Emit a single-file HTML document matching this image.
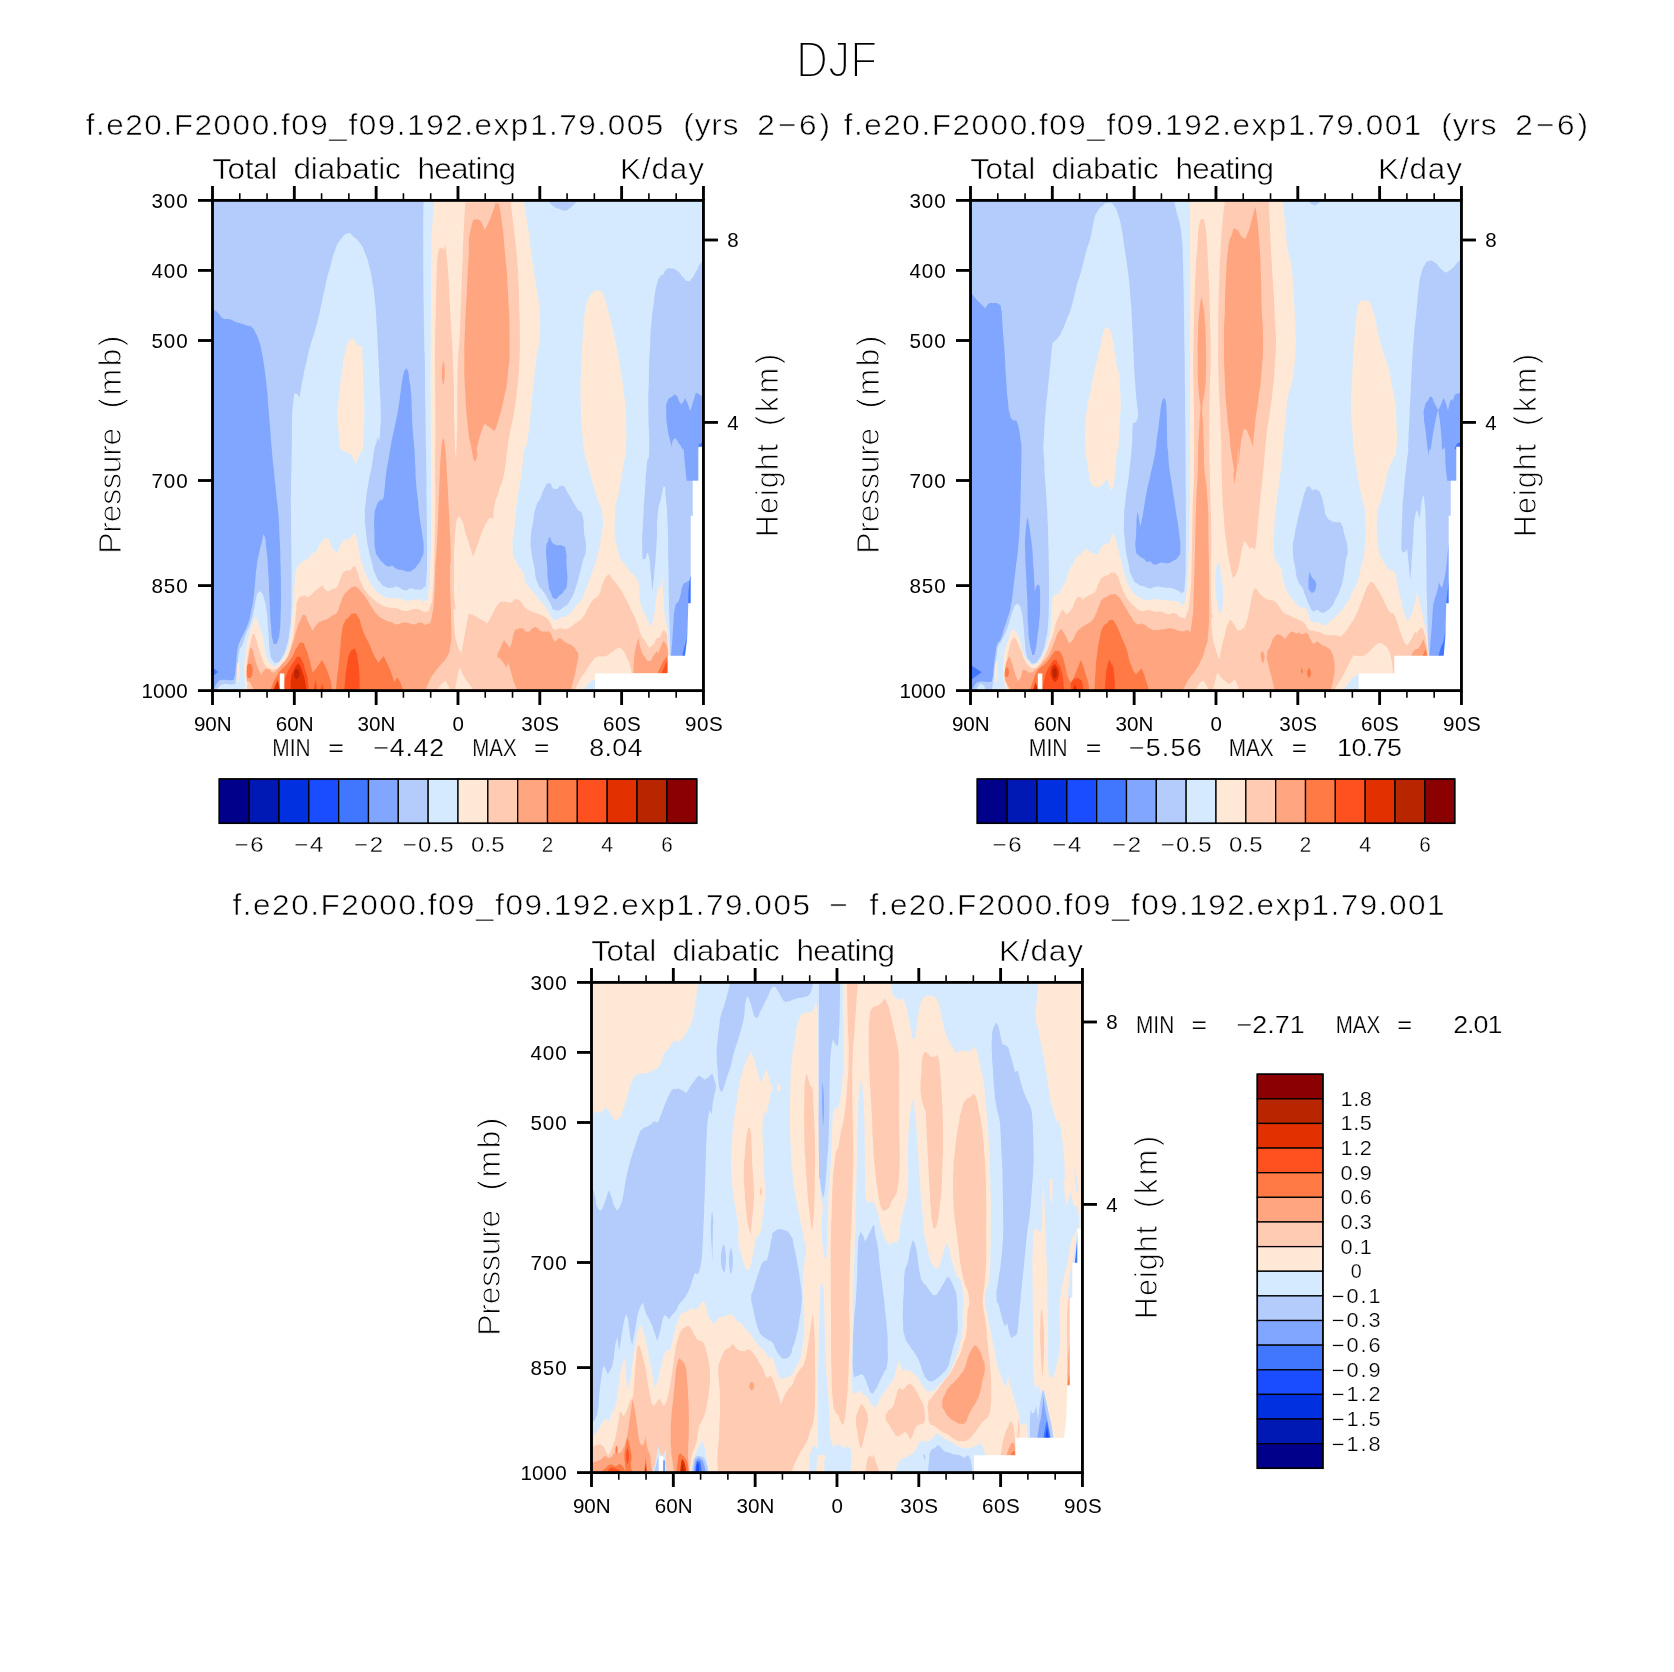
<!DOCTYPE html>
<html lang="en"><head><meta charset="utf-8"><title>DJF Total diabatic heating</title>
<style>html,body{margin:0;padding:0;background:#fff}svg{display:block}text{font-family:"Liberation Sans",sans-serif;fill:#000;stroke:#fff;filter:grayscale(1)}</style></head><body>
<svg width="1674" height="1672" viewBox="0 0 1674 1672">
<rect width="1674" height="1672" fill="#fff"/>
<defs><clipPath id="fc"><rect x="212.50" y="200.40" width="490.95" height="490.20"/></clipPath></defs>
<g transform="translate(0,0)">
<g clip-path="url(#fc)"><rect x="212.50" y="200.40" width="490.95" height="490.20" fill="#D6EAFF"/>
<path fill="#B3CCFB" d="M212.7,201.0L423.7,201.0C423.7,201.0 423.3,202.6 423.3,236.7C423.3,270.8 423.2,264.4 423.7,303.3C424.1,342.2 424.1,320.0 424.7,353.3C425.2,386.7 424.9,371.6 425.3,403.3C425.8,435.1 425.7,427.9 426.0,448.7C426.3,469.5 426.1,448.9 426.3,465.7C426.5,482.5 426.4,471.2 426.6,499.1C426.9,526.9 427.1,522.4 427.0,549.1C426.9,575.8 427.4,566.4 426.3,579.2C425.2,591.9 426.7,584.1 423.6,587.5C420.5,590.9 421.4,589.2 416.9,589.5C412.5,589.8 414.2,588.1 410.3,588.3C406.4,588.6 409.7,590.9 405.3,590.3C400.8,589.8 401.4,587.5 396.9,586.7C392.5,585.8 395.8,587.8 391.9,587.8C388.0,587.8 389.1,588.4 385.2,586.7C381.4,584.9 383.6,586.7 380.2,582.5C376.9,578.3 378.0,580.8 375.2,574.1C372.5,567.5 374.1,570.8 371.9,562.5C369.7,554.1 370.5,559.1 368.6,549.1C366.6,539.1 367.3,543.6 366.1,532.4C364.8,521.3 364.9,526.9 364.9,515.7C364.9,504.6 364.8,510.2 366.1,499.1C367.3,487.9 366.6,493.5 368.6,482.4C370.5,471.2 369.9,476.8 371.9,465.7C373.8,454.6 373.0,456.3 374.4,449.0C375.8,441.7 375.0,447.9 376.1,443.7C377.2,439.4 377.7,436.2 377.7,436.2L379.1,442.0C379.1,442.0 379.7,440.3 380.2,430.3C380.8,420.3 380.9,426.4 380.7,412.0C380.6,397.5 380.5,403.6 379.7,386.9C379.0,370.2 379.5,381.4 378.6,361.9C377.6,342.4 378.0,348.0 376.9,328.5C375.8,309.1 376.6,318.5 375.2,303.5C373.8,288.5 374.7,295.7 372.7,283.5C370.8,271.2 371.9,276.8 369.4,266.8C366.9,256.8 368.3,261.2 365.2,253.4C362.2,245.6 364.1,249.0 360.2,243.4C356.3,237.9 357.7,240.1 353.5,236.7C349.4,233.4 352.2,232.3 347.7,233.4C343.3,234.5 344.4,234.5 340.2,240.1C336.0,245.6 338.5,241.2 335.2,250.1C331.8,259.0 333.5,254.5 330.2,266.8C326.8,279.0 328.5,272.3 325.2,286.8C321.8,301.3 323.5,295.7 320.2,310.2C316.8,324.6 318.2,319.1 315.2,330.2C312.1,341.3 313.8,333.5 311.0,343.5C308.2,353.6 309.3,349.7 306.8,360.2C304.3,370.8 305.7,364.1 303.5,375.2C301.3,386.4 301.5,385.8 300.1,393.6C298.8,401.4 299.3,398.6 299.3,398.6C299.3,398.6 299.3,396.1 297.6,394.4C296.0,392.8 294.3,393.6 294.3,393.6C294.3,393.6 293.9,394.7 293.1,403.6C292.4,412.5 292.6,405.2 292.1,420.3C291.7,435.4 292.0,433.9 291.8,449.0C291.6,464.1 291.7,451.8 291.5,465.7C291.2,479.6 291.1,474.0 291.0,490.7C290.8,507.4 290.9,499.1 291.0,515.7C291.1,532.4 291.1,524.1 291.3,540.8C291.5,557.5 291.4,549.1 291.5,565.8C291.5,582.5 291.6,574.1 291.5,590.8C291.3,607.5 291.7,602.0 291.0,615.9C290.2,629.8 290.7,622.5 289.3,632.6C287.9,642.6 289.3,637.6 286.8,645.9C284.3,654.2 285.1,652.0 281.8,657.6C278.5,663.1 279.8,661.8 276.8,662.6C273.7,663.4 274.8,663.4 272.6,660.1C270.4,656.7 271.5,661.8 270.1,652.6C268.7,643.4 269.6,645.9 268.4,632.6C267.3,619.2 268.2,623.7 266.8,612.5C265.4,601.4 265.9,605.6 264.3,599.2C262.6,592.8 263.7,595.6 261.8,593.3C259.8,591.1 260.4,590.6 258.4,592.5C256.5,594.5 257.6,592.5 255.9,599.2C254.3,605.9 255.4,604.2 253.4,612.5C251.5,620.9 252.6,617.0 250.1,624.2C247.6,631.4 248.4,627.5 245.9,634.2C243.4,640.9 244.8,638.4 242.6,644.2C240.3,650.1 240.9,644.5 239.2,651.7C237.6,659.0 238.7,656.5 237.6,665.9C236.5,675.4 237.3,674.0 235.9,680.1C234.5,686.2 237.6,682.9 233.4,684.3C229.2,685.7 228.1,683.4 223.4,684.3C218.7,685.1 221.4,684.8 219.2,686.8C217.0,688.7 216.7,690.1 216.7,690.1L212.7,690.1L212.7,201.0Z"/>
<path fill="#B3CCFB" d="M549.1,201.7C549.1,201.7 550.8,204.4 554.1,206.7C557.5,209.0 555.5,207.4 559.1,208.7C562.7,210.0 561.3,210.8 565.0,210.5C568.6,210.3 566.9,210.2 570.0,208.0C573.0,205.9 571.9,206.3 574.1,204.2C576.4,202.1 576.6,201.7 576.6,201.7L549.1,201.7Z"/>
<path fill="#B3CCFB" d="M549.1,483.2C552.7,483.2 550.5,488.2 554.9,489.0C559.4,489.9 558.3,484.6 562.5,485.7C566.6,486.8 564.1,487.4 567.5,492.4C570.8,497.4 569.1,495.2 572.5,500.7C575.8,506.3 574.1,504.1 577.5,509.1C580.8,514.1 580.3,508.0 582.5,515.7C584.7,523.5 583.0,521.3 584.1,532.4C585.3,543.6 586.4,539.1 585.8,549.1C585.3,559.1 584.7,553.6 582.5,562.5C580.3,571.4 581.4,567.5 579.1,575.8C576.9,584.2 578.6,579.7 575.8,587.5C573.0,595.3 574.7,592.8 570.8,599.2C566.9,605.6 569.4,603.1 564.1,606.7C558.8,610.3 559.7,611.4 554.9,610.0C550.2,608.6 553.6,608.4 549.9,602.5C546.3,596.7 548.3,599.2 544.1,592.5C539.9,585.8 540.8,591.4 537.4,582.5C534.1,573.6 536.0,575.8 534.1,565.8C532.1,555.8 532.7,561.4 531.6,552.5C530.5,543.6 530.2,549.7 530.8,539.1C531.3,528.5 531.6,531.3 533.3,520.8C534.9,510.2 533.3,515.2 535.8,507.4C538.3,499.6 538.0,503.5 540.8,497.4C543.5,491.3 541.3,493.8 544.1,489.0C546.9,484.3 545.5,483.2 549.1,483.2Z"/>
<path fill="#B3CCFB" d="M703.0,260.9C703.0,260.9 701.6,261.5 699.3,265.1C697.0,268.7 698.5,267.3 695.9,271.8C693.4,276.2 694.6,275.4 691.8,278.5C689.0,281.5 690.7,281.5 687.6,281.0C684.5,280.4 685.9,280.1 682.6,276.8C679.3,273.5 681.5,273.7 677.6,271.0C673.7,268.2 674.8,268.7 670.9,268.5C667.0,268.2 668.4,268.2 665.9,270.1C663.4,272.1 665.4,272.1 663.4,274.3C661.5,276.5 662.3,273.2 660.1,276.8C657.8,280.4 658.7,277.4 656.7,285.1C654.8,292.9 655.9,288.5 654.2,300.2C652.6,311.8 653.1,305.2 651.7,320.2C650.3,335.2 651.0,325.7 650.1,345.2C649.1,364.7 649.4,356.3 648.9,378.6C648.3,400.8 648.3,388.5 648.4,412.0C648.5,435.4 649.8,431.1 649.2,449.0C648.7,466.9 648.1,451.8 646.7,465.7C645.3,479.6 646.2,474.0 645.1,490.7C643.9,507.4 644.3,496.3 643.4,515.7C642.4,535.2 641.9,534.7 642.2,549.1C642.5,563.6 642.7,557.5 644.2,559.1C645.7,560.8 646.7,554.1 646.7,554.1C646.7,554.1 647.8,550.2 649.2,557.5C650.6,564.7 649.9,564.7 650.9,575.8C651.9,586.9 652.2,590.8 652.2,590.8C652.2,590.8 652.7,590.8 654.2,574.1C655.7,557.5 655.6,560.2 656.7,540.8C657.8,521.3 656.2,529.7 657.6,515.7C659.0,501.8 658.7,508.8 660.9,499.1C663.1,489.3 662.6,486.5 664.2,486.5C665.9,486.5 664.8,486.5 665.9,499.1C667.0,511.6 666.7,501.8 667.6,524.1C668.4,546.3 668.0,540.8 668.4,565.8C668.9,590.8 668.5,579.7 668.9,599.2C669.3,618.6 669.0,605.3 669.6,624.2C670.1,643.1 670.6,655.9 670.6,655.9L703.0,655.9L703.0,260.9Z"/>
<path fill="#80A6FF" d="M212.7,310.2C212.7,310.2 213.4,309.3 215.9,311.0C218.3,312.7 217.5,312.7 220.0,315.2C222.6,317.7 220.0,317.1 223.4,318.5C226.7,319.9 226.2,318.2 230.1,319.3C234.0,320.5 231.5,320.5 235.1,321.8C238.7,323.2 237.0,322.3 240.9,323.5C244.8,324.7 243.1,324.3 246.7,325.5C250.4,326.7 248.7,324.5 251.8,327.2C254.8,329.9 253.4,328.6 255.9,333.5C258.4,338.4 257.3,335.8 259.3,341.9C261.2,348.0 260.1,343.5 261.8,351.9C263.4,360.2 262.6,355.2 264.3,366.9C265.9,378.6 265.4,373.6 266.8,386.9C268.2,400.3 267.3,393.6 268.4,406.9C269.6,420.3 269.0,413.0 270.1,427.0C271.2,441.0 270.7,436.1 271.8,449.0C272.9,461.9 272.3,454.6 273.4,465.7C274.6,476.8 274.0,471.2 275.1,482.4C276.2,493.5 275.7,487.9 276.8,499.1C277.9,510.2 277.4,501.8 278.5,515.7C279.5,529.7 279.1,524.1 279.8,540.8C280.5,557.5 280.2,549.1 280.6,565.8C281.0,582.5 281.0,574.1 281.0,590.8C281.0,607.5 281.1,602.0 280.6,615.9C280.2,629.8 280.6,624.2 279.6,632.6C278.6,640.9 279.1,637.1 277.6,640.9C276.1,644.7 276.8,644.5 275.1,643.9C273.4,643.3 274.0,645.8 272.6,639.2C271.2,632.7 271.9,637.6 270.9,624.2C269.9,610.9 270.4,615.9 269.6,599.2C268.8,582.5 269.4,589.7 268.4,574.1C267.5,558.6 268.2,565.2 266.8,552.5C265.4,539.7 265.9,539.1 264.3,535.8C262.6,532.4 263.4,536.9 261.8,542.4C260.1,548.0 260.9,544.7 259.3,552.5C257.6,560.2 258.1,555.8 256.8,565.8C255.4,575.8 256.2,571.4 255.1,582.5C254.0,593.6 254.8,589.2 253.4,599.2C252.0,609.2 252.6,604.7 250.9,612.5C249.2,620.3 250.6,615.9 248.4,622.5C246.2,629.2 247.0,626.4 244.2,632.6C241.5,638.7 242.3,635.3 240.1,640.9C237.8,646.5 239.0,640.9 237.6,649.2C236.2,657.6 237.0,656.5 235.9,665.9C234.8,675.4 235.6,672.9 234.2,677.6C232.8,682.3 235.9,679.3 231.7,680.1C227.6,680.9 226.4,679.3 221.7,680.1C217.0,680.9 220.0,679.8 217.5,682.6C215.0,685.4 215.8,685.9 214.2,688.5C212.6,691.0 212.7,690.1 212.7,690.1L212.7,310.2Z"/>
<path fill="#80A6FF" d="M405.6,369.4C404.1,370.8 404.8,368.8 403.3,375.2C401.8,381.6 402.7,378.0 401.1,388.6C399.5,399.2 400.3,396.4 398.6,406.9C396.9,417.5 397.8,412.0 396.1,420.3C394.4,428.6 395.3,424.2 393.6,432.0C391.9,439.8 392.2,438.0 391.1,443.7C390.0,449.3 391.1,443.9 390.3,449.0C389.4,454.1 390.0,450.7 388.6,459.0C387.2,467.4 387.5,463.5 386.1,474.0C384.7,484.6 385.5,482.4 384.4,490.7C383.3,499.1 384.4,495.7 382.7,499.1C381.1,502.4 381.6,497.9 379.4,500.7C377.2,503.5 377.7,502.4 376.1,507.4C374.4,512.4 375.0,507.4 374.4,515.7C373.8,524.1 374.1,521.3 374.4,532.4C374.7,543.6 373.8,540.8 375.2,549.1C376.6,557.5 375.8,552.7 378.6,557.5C381.4,562.2 380.2,560.2 383.6,563.3C386.9,566.4 385.8,565.8 388.6,566.6C391.4,567.5 389.1,565.0 391.9,565.8C394.7,566.6 393.6,567.8 396.9,569.1C400.3,570.5 398.3,569.1 401.9,570.0C405.5,570.8 404.2,571.6 407.8,571.6C411.4,571.6 409.7,571.9 412.8,570.0C415.8,568.0 414.2,569.4 416.9,565.8C419.7,562.2 418.9,564.7 421.1,559.1C423.3,553.6 423.3,558.0 423.6,549.1C423.9,540.2 423.3,543.6 422.0,532.4C420.6,521.3 420.8,526.9 419.5,515.7C418.1,504.6 418.9,510.2 417.8,499.1C416.7,487.9 416.9,493.5 416.1,482.4C415.3,471.2 415.8,476.8 415.3,465.7C414.7,454.6 415.3,460.8 414.4,449.0C413.6,437.2 413.6,442.7 412.8,430.3C411.9,418.0 412.5,424.2 411.9,412.0C411.4,399.7 411.9,404.2 411.1,393.6C410.3,383.0 410.6,387.8 409.4,380.3C408.3,372.7 409.1,374.7 407.8,371.1C406.5,367.5 407.1,368.0 405.6,369.4Z"/>
<path fill="#80A6FF" d="M549.9,537.4C551.9,538.6 549.9,541.3 554.1,544.1C558.3,546.9 558.6,543.6 562.5,545.8C566.4,548.0 564.4,544.1 565.8,550.8C567.2,557.5 566.2,555.2 566.6,565.8C567.1,576.4 568.0,574.1 567.1,582.5C566.3,590.8 566.8,586.4 564.1,590.8C561.5,595.3 562.2,593.2 559.1,595.8C556.1,598.5 557.7,599.8 554.9,598.7C552.2,597.6 553.0,597.9 550.8,592.5C548.6,587.1 549.5,591.4 548.3,582.5C547.0,573.6 547.8,576.9 547.1,565.8C546.4,554.7 545.7,557.5 546.1,549.1C546.5,540.8 547.0,544.7 548.3,540.8C549.6,536.9 548.0,536.3 549.9,537.4Z"/>
<path fill="#80A6FF" d="M703.0,396.9C703.0,396.9 701.6,395.8 699.3,394.4C697.0,393.0 695.9,392.8 695.9,392.8C695.9,392.8 694.6,397.5 692.6,403.6C690.7,409.7 690.1,411.1 690.1,411.1C690.1,411.1 689.3,408.1 687.6,403.6C685.9,399.2 685.1,397.8 685.1,397.8C685.1,397.8 684.3,401.1 682.6,402.8C680.9,404.4 682.3,405.3 680.1,402.8C677.9,400.3 678.7,397.2 675.9,395.3C673.1,393.3 674.5,395.0 671.8,396.9C669.0,398.9 669.4,396.1 667.6,401.1C665.7,406.1 666.2,402.8 666.2,412.0C666.2,421.1 666.3,419.2 667.6,428.6C668.9,438.1 668.7,434.2 670.1,440.3C671.5,446.4 671.8,447.0 671.8,447.0C671.8,447.0 671.8,439.8 674.3,438.7C676.8,437.5 676.5,440.2 679.3,443.7C682.0,447.1 681.2,447.2 682.6,449.0C684.0,450.8 682.6,443.4 683.4,449.0C684.3,454.6 684.0,455.1 685.1,465.7C686.2,476.3 686.8,480.7 686.8,480.7L703.0,480.7L703.0,396.9Z"/>
<path fill="#80A6FF" d="M692.6,579.2C692.6,579.2 689.3,580.3 685.9,582.5C682.6,584.7 684.8,580.3 682.6,585.8C680.4,591.4 681.8,591.9 679.3,599.2C676.8,606.4 677.0,599.2 675.1,607.5C673.1,615.9 674.4,613.1 673.4,624.2C672.5,635.3 673.1,630.3 672.3,640.9C671.4,651.5 670.9,655.9 670.9,655.9L692.6,655.9L692.6,579.2Z"/>
<path fill="#4177FF" d="M691.8,575.8C691.8,575.8 690.4,573.3 689.3,582.5C688.1,591.7 688.3,603.4 688.3,603.4L691.8,603.4L691.8,575.8Z"/>
<path fill="#4177FF" d="M687.3,637.6C687.3,637.6 686.3,639.8 684.6,645.9C682.9,652.0 682.3,655.9 682.3,655.9L686.8,655.9L687.3,637.6Z"/>
<path fill="#4177FF" d="M212.7,667.6L218.0,672.1L212.7,676.3L212.7,667.6Z"/>
<path fill="#4177FF" d="M703.0,442.0C703.0,442.0 701.0,442.2 699.3,444.5C697.6,446.8 698.0,449.0 698.0,449.0L703.0,449.0L703.0,442.0Z"/>
<path fill="#FFE9D6" d="M434.3,201.0C434.3,201.0 433.7,202.6 432.7,220.0C431.7,237.4 431.9,225.6 431.3,253.3C430.8,281.1 431.2,270.0 431.0,303.3C430.8,336.7 430.8,320.0 430.7,353.3C430.6,386.7 430.6,371.6 430.7,403.3C430.8,435.1 430.8,419.5 431.0,448.7C431.2,477.8 431.1,462.8 431.1,490.7C431.2,518.6 431.4,507.4 431.1,532.4C430.9,557.5 431.1,546.3 430.3,565.8C429.5,585.3 430.3,579.2 428.6,590.8C427.0,602.5 429.2,598.1 425.3,600.8C421.4,603.6 422.5,599.2 416.9,599.2C411.4,599.2 413.6,600.8 408.6,600.8C403.6,600.8 406.4,600.0 401.9,599.2C397.5,598.3 400.3,598.9 395.3,598.3C390.3,597.8 391.9,598.9 386.9,597.5C381.9,596.1 384.7,597.5 380.2,594.2C375.8,590.8 378.0,593.6 373.6,587.5C369.1,581.4 370.8,584.2 366.9,575.8C363.0,567.5 364.7,571.4 361.9,562.5C359.1,553.6 360.2,556.9 358.5,549.1C356.9,541.3 358.3,544.7 356.9,539.1C355.5,533.5 354.4,532.4 354.4,532.4C354.4,532.4 351.3,537.7 348.5,539.9C345.8,542.2 348.5,537.7 346.0,539.1C343.5,540.5 343.8,539.7 341.0,544.1C338.2,548.6 337.7,552.5 337.7,552.5C337.7,552.5 335.2,552.5 332.7,549.1C330.2,545.8 332.1,546.1 330.2,542.4C328.2,538.8 329.3,538.8 326.8,538.3C324.3,537.7 325.5,537.7 322.7,540.8C319.9,543.8 321.0,543.3 318.5,547.5C316.0,551.6 317.1,551.6 315.2,553.3C313.2,555.0 314.9,550.8 312.7,552.5C310.4,554.1 312.1,555.0 308.5,558.3C304.9,561.6 305.7,558.9 301.8,562.5C297.9,566.1 299.0,563.6 296.8,569.1C294.6,574.7 296.2,569.1 295.1,579.2C294.0,589.2 294.6,584.2 293.5,599.2C292.4,614.2 293.2,610.3 291.8,624.2C290.4,638.1 291.5,630.9 289.3,640.9C287.1,650.9 288.2,647.3 285.1,654.2C282.1,661.2 283.2,657.9 280.1,661.8C277.1,665.6 278.7,665.1 275.9,665.9C273.2,666.8 274.6,666.5 271.8,664.3C269.0,662.0 269.8,664.3 267.6,659.3C265.4,654.2 266.8,657.0 265.1,649.2C263.4,641.5 264.5,643.7 262.6,635.9C260.7,628.1 261.5,631.9 259.3,625.9C257.0,619.9 258.1,618.4 255.9,617.9C253.7,617.3 254.8,618.8 252.6,624.2C250.4,629.7 251.2,627.0 249.2,634.2C247.3,641.5 248.1,638.1 246.7,645.9C245.4,653.7 245.9,649.2 245.1,657.6C244.2,665.9 244.2,662.6 244.2,670.9C244.2,679.3 245.1,676.2 245.1,682.6C245.1,689.0 244.2,690.1 244.2,690.1L584.1,690.1C584.1,690.1 585.5,686.2 589.2,682.6C592.8,679.0 595.0,679.3 595.0,679.3L595.0,673.4L667.6,673.4L667.6,655.9L669.6,655.9C669.6,655.9 669.1,649.8 668.4,640.9C667.7,632.0 668.7,637.6 667.6,629.2C666.5,620.9 666.5,625.9 665.1,615.9C663.7,605.9 664.2,613.1 663.4,599.2C662.6,585.3 662.6,574.1 662.6,574.1C662.6,574.1 662.6,580.3 660.9,585.8C659.2,591.4 660.1,579.7 657.6,590.8C655.1,602.0 655.9,607.8 653.4,619.2C650.9,630.6 650.1,625.0 650.1,625.0C650.1,625.0 648.9,622.8 645.9,615.9C642.8,608.9 643.4,615.3 640.9,604.2C638.4,593.1 640.6,591.9 638.4,582.5C636.2,573.0 638.4,581.4 634.2,575.8C630.0,570.3 631.4,574.7 625.9,565.8C620.3,556.9 621.1,565.8 617.5,549.1C613.9,532.4 614.5,535.2 615.0,515.7C615.6,496.3 616.4,507.4 619.2,490.7C622.0,474.0 621.1,479.6 623.4,465.7C625.6,451.8 625.0,464.1 625.9,449.0C626.7,433.9 626.4,438.2 625.9,420.3C625.3,402.4 626.4,414.7 624.2,395.3C622.0,375.8 623.1,384.1 619.2,361.9C615.3,339.6 617.0,348.5 612.5,328.5C608.1,308.5 609.1,313.2 605.8,301.8C602.6,290.4 605.6,298.1 602.8,294.3C600.1,290.5 600.9,290.9 597.5,290.5C594.1,290.1 595.6,290.2 592.5,293.1C589.4,296.1 590.7,294.2 588.3,299.3C586.0,304.4 587.1,298.8 585.5,308.5C583.9,318.2 584.8,310.7 583.5,328.5C582.2,346.3 582.5,336.9 581.6,361.9C580.8,386.9 580.0,374.6 580.8,403.6C581.6,432.6 581.6,428.3 584.1,449.0C586.7,469.7 585.5,454.6 588.3,465.7C591.1,476.8 589.4,471.2 592.5,482.4C595.6,493.5 594.2,487.9 597.5,499.1C600.8,510.2 601.4,502.4 602.5,515.7C603.6,529.1 602.5,525.8 600.8,539.1C599.2,552.5 600.8,543.6 597.5,555.8C594.2,568.0 595.8,561.9 590.8,575.8C585.8,589.7 587.5,587.5 582.5,597.5C577.5,607.5 580.3,600.3 575.8,605.9C571.4,611.4 574.1,610.3 569.1,614.2C564.1,618.1 565.5,615.6 560.8,617.5C556.1,619.5 558.3,620.6 554.9,620.0C551.6,619.5 553.8,620.0 550.8,615.9C547.7,611.7 549.7,613.1 545.8,607.5C541.9,602.0 543.5,604.7 539.1,599.2C534.6,593.6 536.9,596.4 532.4,590.8C528.0,585.3 528.8,588.6 525.7,582.5C522.7,576.4 526.3,579.2 523.2,572.5C520.2,565.8 520.1,570.3 516.6,562.5C513.1,554.7 513.3,561.9 512.7,549.1C512.2,536.3 513.3,540.8 514.9,524.1C516.5,507.4 515.2,515.7 517.4,499.1C519.6,482.4 519.3,490.7 521.6,474.0C523.8,457.3 522.7,457.3 524.1,449.0C525.5,440.7 524.1,455.8 525.7,449.0C527.4,442.2 527.1,443.8 529.1,428.6C531.0,413.5 529.9,420.3 531.6,403.6C533.3,386.9 532.4,394.2 534.1,378.6C535.8,363.0 534.8,369.7 536.6,356.9C538.4,344.1 538.3,352.4 539.4,340.2C540.5,328.0 540.0,332.4 539.9,320.2C539.8,307.9 540.5,315.7 539.1,303.5C537.7,291.3 537.7,295.7 535.8,283.5C533.8,271.2 534.9,278.5 533.3,266.8C531.6,255.1 532.4,261.2 530.8,248.4C529.1,235.6 529.9,240.1 528.2,228.4C526.6,216.7 527.1,222.3 525.7,213.4C524.4,204.5 524.1,201.7 524.1,201.7L434.3,201.0Z"/>
<path fill="#FFE9D6" d="M351.9,338.9C349.6,340.0 349.9,339.2 347.7,343.5C345.5,347.9 346.9,344.1 345.2,351.9C343.5,359.7 344.4,355.8 342.7,366.9C341.0,378.0 341.7,373.0 340.2,385.3C338.7,397.5 339.1,394.7 338.2,403.6C337.2,412.5 337.4,404.2 337.4,412.0C337.4,419.7 337.5,417.5 338.2,427.0C338.9,436.4 338.4,433.0 339.4,440.3C340.3,447.7 339.4,445.3 341.0,449.0C342.7,452.7 341.3,449.8 344.4,451.5C347.4,453.2 347.1,451.5 350.2,454.0C353.3,456.5 351.6,455.8 353.5,459.0C355.5,462.2 356.0,463.7 356.0,463.7C356.0,463.7 356.9,461.4 358.5,457.3C360.2,453.3 359.7,454.3 361.0,451.5C362.4,448.7 361.9,456.1 362.7,449.0C363.6,441.9 363.0,442.7 363.6,430.3C364.1,418.0 364.4,426.4 364.4,412.0C364.4,397.5 364.1,403.6 363.6,386.9C363.0,370.2 363.3,375.5 362.7,361.9C362.2,348.3 361.9,346.0 361.9,346.0C361.9,346.0 361.0,346.1 359.4,345.5C357.7,345.0 358.5,346.2 356.9,344.4C355.2,342.6 356.0,342.0 354.4,340.2C352.7,338.4 354.1,337.8 351.9,338.9Z"/>
<path fill="#FFE9D6" d="M238.1,661.8C238.1,661.8 239.6,664.0 239.7,670.9C239.8,677.9 238.4,682.6 238.4,682.6C238.4,682.6 236.8,679.6 236.7,672.6C236.6,665.6 238.1,661.8 238.1,661.8Z"/>
<path fill="#FFCBB3" d="M440.9,248.3C439.1,249.7 439.5,245.2 438.1,253.6C436.7,262.1 437.5,255.9 436.7,273.7C436.0,291.6 436.5,284.9 435.9,307.2C435.4,329.6 435.4,318.4 435.1,340.7C434.8,363.0 435.0,346.3 435.1,374.2C435.2,402.1 435.4,392.5 435.4,424.4C435.4,456.4 435.1,445.1 435.1,470.0C435.0,494.9 435.5,472.7 435.3,499.1C435.1,525.4 435.3,518.5 434.5,549.1C433.6,579.7 434.2,571.9 432.8,590.8C431.4,609.7 432.5,598.9 430.3,605.9C428.1,612.8 429.5,610.3 426.1,611.7C422.8,613.1 424.5,610.9 420.3,610.0C416.1,609.2 418.6,608.9 413.6,609.2C408.6,609.5 410.8,611.1 405.3,610.9C399.7,610.6 402.5,609.5 396.9,608.4C391.4,607.2 394.1,608.9 388.6,607.5C383.0,606.1 385.2,607.0 380.2,604.2C375.2,601.4 378.0,603.1 373.6,599.2C369.1,595.3 371.1,598.1 366.9,592.5C362.7,586.9 364.1,589.2 361.0,582.5C358.0,575.8 359.9,577.8 357.7,572.5C355.5,567.2 356.9,567.5 354.4,566.6C351.9,565.8 353.5,568.3 350.2,570.0C346.9,571.6 347.7,568.6 344.4,571.6C341.0,574.7 342.7,574.1 340.2,579.2C337.7,584.2 339.6,583.3 336.9,586.7C334.1,590.0 335.2,587.8 331.8,589.2C328.5,590.6 329.9,592.2 326.8,590.8C323.8,589.4 322.7,585.0 322.7,585.0C322.7,585.0 321.6,585.8 318.5,588.3C315.4,590.8 316.8,589.7 313.5,592.5C310.2,595.3 311.8,595.6 308.5,596.7C305.1,597.8 307.1,594.5 303.5,595.8C299.9,597.2 300.1,595.3 297.6,600.8C295.1,606.4 297.1,603.1 296.0,612.5C294.9,622.0 296.0,618.1 294.3,629.2C292.6,640.3 293.5,636.4 291.0,645.9C288.5,655.4 289.9,651.5 286.8,657.6C283.7,663.7 285.4,660.5 281.8,664.3C278.2,668.0 279.8,667.5 275.9,668.9C272.1,670.3 273.7,669.7 270.1,668.4C266.5,667.1 267.9,668.7 265.1,665.1C262.3,661.5 264.0,663.4 261.8,657.6C259.5,651.7 260.4,653.7 258.4,647.6C256.5,641.5 257.6,643.7 255.9,639.2C254.3,634.8 255.1,633.7 253.4,634.2C251.8,634.8 252.6,634.8 250.9,640.9C249.2,647.0 249.8,644.2 248.4,652.6C247.0,660.9 247.0,657.0 246.7,665.9C246.5,674.8 247.6,671.2 247.6,679.3C247.6,687.3 246.7,690.1 246.7,690.1L667.6,690.1L668.4,655.9C668.4,655.9 668.4,648.7 667.6,640.9C666.7,633.1 667.6,635.9 665.9,632.6C664.2,629.2 662.6,630.9 662.6,630.9C662.6,630.9 661.2,635.1 659.2,637.6C657.3,640.1 658.7,636.2 656.7,638.4C654.8,640.6 655.9,641.2 653.4,644.2C650.9,647.3 649.2,647.6 649.2,647.6C649.2,647.6 647.8,645.3 645.1,640.9C642.3,636.4 643.4,639.8 640.9,634.2C638.4,628.7 640.3,631.4 637.5,624.2C634.8,617.0 636.4,620.9 632.5,612.5C628.6,604.2 630.3,607.5 625.9,599.2C621.4,590.8 623.6,594.2 619.2,587.5C614.7,580.8 616.1,583.3 612.5,579.2C608.9,575.0 611.7,573.3 608.3,575.0C605.0,576.7 605.6,577.8 602.5,584.2C599.4,590.6 602.5,588.6 599.2,594.2C595.8,599.7 596.4,595.8 592.5,600.8C588.6,605.9 590.8,603.6 587.5,609.2C584.1,614.8 586.9,612.5 582.5,617.5C578.0,622.5 579.1,620.6 574.1,624.2C569.1,627.8 572.5,627.0 567.5,628.4C562.5,629.8 563.6,628.1 559.1,628.4C554.7,628.7 557.2,631.2 554.1,629.2C551.1,627.3 552.7,626.4 549.9,622.5C547.2,618.6 549.4,620.3 545.8,617.5C542.2,614.8 543.5,616.1 539.1,614.2C534.6,612.3 537.1,613.9 532.4,611.7C527.7,609.5 528.5,610.6 524.9,607.5C521.3,604.5 524.6,605.3 521.6,602.5C518.5,599.7 519.3,599.2 515.7,599.2C512.1,599.2 514.6,601.7 510.7,602.5C506.8,603.4 508.2,601.1 504.1,601.7C499.9,602.2 502.1,600.0 498.2,604.2C494.3,608.4 496.0,607.8 492.4,614.2C488.8,620.6 487.4,623.4 487.4,623.4C487.4,623.4 483.5,620.6 477.4,617.5C471.2,614.5 475.1,614.2 469.0,614.2C462.9,614.2 463.7,621.2 459.0,617.5C454.3,613.9 456.7,619.2 455.0,603.3C453.3,587.5 454.0,592.2 454.0,570.0C454.0,547.8 453.9,553.9 455.0,536.7C456.1,519.4 457.3,518.3 457.3,518.3C457.3,518.3 458.6,513.9 461.7,520.0C464.8,526.1 462.8,524.4 466.7,536.7C470.6,548.9 473.3,556.7 473.3,556.7C473.3,556.7 475.5,550.5 479.0,540.8C482.6,531.0 480.4,535.2 484.0,527.4C487.6,519.6 489.9,517.4 489.9,517.4L493.2,519.1C493.2,519.1 492.9,513.5 494.9,504.1C496.8,494.6 496.0,500.7 499.0,490.7C502.1,480.7 501.3,487.9 504.1,474.0C506.8,460.1 505.4,462.5 507.4,449.0C509.3,435.5 507.7,446.0 509.9,433.6C512.1,421.3 511.6,427.5 514.1,412.0C516.6,396.4 515.6,403.6 517.4,386.9C519.2,370.2 518.6,378.6 519.4,361.9C520.2,345.2 519.9,353.6 519.9,336.9C519.9,320.2 519.8,328.5 519.4,311.8C519.0,295.1 519.4,302.9 518.7,286.8C518.1,270.7 518.7,280.1 517.4,263.4C516.1,246.8 516.6,252.3 514.9,236.7C513.2,221.2 513.8,228.4 512.4,216.7C511.0,205.0 510.7,201.7 510.7,201.7L465.2,202.6C465.2,202.6 464.4,216.5 462.7,257.0C461.0,297.5 461.9,284.9 460.2,324.0C458.5,363.0 458.7,340.7 457.7,374.2C456.7,407.7 457.7,396.0 457.2,424.4C456.6,452.9 456.0,459.6 456.0,459.6C456.0,459.6 455.2,452.9 454.3,424.4C453.5,396.0 454.6,407.7 453.5,374.2C452.4,340.7 453.2,363.0 451.0,324.0C448.7,284.9 449.3,281.8 446.8,257.0C444.3,232.1 445.4,252.4 443.4,249.4C441.5,246.5 442.7,246.9 440.9,248.3Z"/>
<path fill="#FFE9D6" d="M575.0,690.1C575.0,690.1 575.5,687.3 579.1,680.9C582.8,674.5 581.4,677.6 585.8,670.9C590.3,664.3 588.6,665.6 592.5,660.9C596.4,656.2 593.0,658.4 597.5,656.7C601.9,655.1 600.8,657.6 605.8,655.9C610.8,654.2 608.6,654.2 612.5,651.7C616.4,649.2 614.2,649.0 617.5,648.4C620.9,647.8 619.5,647.0 622.5,650.1C625.6,653.1 624.2,652.3 626.7,657.6C629.2,662.9 628.4,660.6 630.0,665.9C631.7,671.2 631.7,673.4 631.7,673.4L595.0,673.4L595.0,690.1L575.0,690.1Z"/>
<path fill="#D6EAFF" d="M584.1,690.1C584.1,690.1 584.7,686.8 588.3,683.4C591.9,680.1 595.0,680.1 595.0,680.1L595.0,690.1L584.1,690.1Z"/>
<path fill="#FFE9D6" d="M453.6,608.7C453.6,608.7 453.4,615.5 454.4,626.6C455.5,637.7 454.4,633.2 456.8,642.2C459.1,651.1 461.4,653.3 461.4,653.3C461.4,653.3 462.1,649.5 463.4,642.2C464.7,634.8 463.7,640.2 465.3,631.3C467.0,622.4 468.4,615.4 468.4,615.4C468.4,615.4 467.1,614.1 462.2,611.8C457.3,609.6 453.6,608.7 453.6,608.7Z"/>
<path fill="#FFE9D6" d="M455.2,689.1C455.2,689.1 456.0,684.0 457.5,676.4C459.1,668.7 459.9,666.3 459.9,666.3C459.9,666.3 459.9,668.3 462.2,673.3C464.5,678.2 463.2,675.7 466.9,681.0C470.5,686.3 473.1,689.1 473.1,689.1L455.2,689.1Z"/>
<path fill="#FFE9D6" d="M438.1,689.1C438.1,689.1 439.4,686.1 442.0,683.4C444.6,680.7 445.9,681.0 445.9,681.0L449.8,689.1L438.1,689.1Z"/>
<path fill="#D6EAFF" d="M459.6,584.6C459.6,584.6 460.3,585.6 460.3,587.4C460.3,589.2 459.6,590.1 459.6,590.1C459.6,590.1 458.8,589.2 458.8,587.4C458.8,585.6 459.6,584.6 459.6,584.6Z"/>
<path fill="#FFA680" d="M476.9,219.3C472.2,219.9 473.0,219.3 470.2,231.9C467.4,244.4 469.7,237.4 468.6,257.0C467.4,276.5 468.0,268.1 466.9,290.5C465.8,312.8 466.1,301.6 465.2,324.0C464.4,346.3 464.4,335.1 464.4,357.5C464.4,379.8 464.1,368.6 465.2,391.0C466.3,413.3 465.8,406.0 467.7,424.4C469.7,442.9 468.8,433.9 471.1,446.2C473.3,458.5 474.4,461.3 474.4,461.3C474.4,461.3 475.3,453.8 478.6,441.2C482.0,428.6 484.5,423.6 484.5,423.6L494.5,431.1C494.5,431.1 495.6,430.0 498.7,419.4C501.8,408.8 500.7,414.4 503.7,399.3C506.8,384.3 506.0,393.7 507.9,374.2C509.9,354.7 509.6,368.6 509.6,340.7C509.6,312.8 509.3,318.4 507.9,290.5C506.5,262.6 507.4,279.3 505.4,257.0C503.5,234.7 504.3,241.4 502.1,223.5C499.8,205.6 498.7,203.4 498.7,203.4L495.4,203.4C495.4,203.4 494.0,209.5 490.3,218.5C486.7,227.4 484.5,230.2 484.5,230.2C484.5,230.2 481.7,218.7 476.9,219.3Z"/>
<path fill="#FFA680" d="M443.4,360.8C443.4,360.8 444.8,364.4 444.8,372.5C444.8,380.6 443.4,385.1 443.4,385.1C443.4,385.1 441.8,382.3 441.8,374.2C441.8,366.1 443.4,360.8 443.4,360.8Z"/>
<path fill="#FFA680" d="M443.3,438.3C443.3,438.3 442.3,437.2 441.0,453.3C439.7,469.4 440.6,458.9 439.3,486.7C438.1,514.4 438.7,508.9 437.3,536.7C436.0,564.4 436.3,551.9 435.3,570.0C434.4,588.1 435.6,575.5 434.5,590.8C433.3,606.1 434.5,604.7 432.0,615.9C429.5,627.0 430.9,622.0 427.0,624.2C423.1,626.4 424.7,622.5 420.3,622.5C415.8,622.5 418.6,624.2 413.6,624.2C408.6,624.2 410.8,622.5 405.3,622.5C399.7,622.5 401.4,624.2 396.9,624.2C392.5,624.2 396.4,624.2 391.9,622.5C387.5,620.9 388.6,622.0 383.6,619.2C378.6,616.4 380.8,618.1 376.9,614.2C373.0,610.3 375.2,612.5 371.9,607.5C368.6,602.5 370.2,604.2 366.9,599.2C363.6,594.2 365.2,596.4 361.9,592.5C358.5,588.6 359.7,589.4 356.9,587.5C354.1,585.6 356.3,585.8 353.5,586.7C350.8,587.5 351.9,586.9 348.5,590.0C345.2,593.1 346.3,591.1 343.5,595.8C340.7,600.6 342.4,598.6 340.2,604.2C338.0,609.7 339.6,608.6 336.9,612.5C334.1,616.4 335.2,613.6 331.8,615.9C328.5,618.1 330.2,617.5 326.8,619.2C323.5,620.9 325.2,619.2 321.8,620.9C318.5,622.5 319.9,620.9 316.8,624.2C313.8,627.5 312.7,630.9 312.7,630.9C312.7,630.9 311.3,627.8 308.5,622.5C305.7,617.3 307.1,615.6 304.3,615.0C301.5,614.5 302.6,616.1 300.1,620.9C297.6,625.6 299.0,622.5 296.8,629.2C294.6,635.9 295.7,633.7 293.5,640.9C291.2,648.1 292.4,645.1 290.1,650.9C287.9,656.7 289.6,654.0 286.8,658.4C284.0,662.9 284.8,660.6 281.8,664.3C278.7,667.9 280.4,666.5 277.6,669.3C274.8,672.0 276.5,672.6 273.4,672.6C270.4,672.6 271.5,670.1 268.4,669.3C265.4,668.4 266.5,668.2 264.3,670.1C262.0,672.0 261.8,675.1 261.8,675.1C261.8,675.1 260.7,674.5 258.4,669.3C256.2,664.0 257.3,666.2 255.1,659.3C252.9,652.3 253.7,650.1 251.8,648.4C249.8,646.7 250.6,648.4 249.2,654.2C247.9,660.1 248.4,657.6 247.6,665.9C246.7,674.3 245.9,673.7 246.7,679.3C247.6,684.8 247.9,679.0 250.1,682.6C252.3,686.2 253.4,690.1 253.4,690.1L425.6,690.1C425.6,690.1 426.5,686.8 429.5,680.9C432.4,675.1 430.6,678.2 434.5,672.6C438.4,667.0 437.0,669.5 441.1,664.3C445.3,659.0 443.9,662.9 447.0,656.7C450.0,650.6 448.9,654.0 450.3,645.9C451.8,637.8 451.2,645.3 451.3,632.6C451.5,619.8 451.3,627.0 450.8,607.5C450.4,588.1 450.0,592.2 450.0,574.1C449.9,556.1 450.9,571.4 450.7,553.3C450.4,535.3 450.3,542.2 449.3,520.0C448.3,497.8 448.9,508.9 447.7,486.7C446.4,464.4 447.1,469.4 445.7,453.3C444.2,437.2 443.3,438.3 443.3,438.3Z"/>
<path fill="#FFA680" d="M497.4,655.9C497.7,652.3 498.5,652.9 500.7,647.6C502.9,642.3 504.1,640.1 504.1,640.1C504.1,640.1 505.2,642.3 507.4,644.2C509.6,646.2 508.5,649.8 510.7,645.9C513.0,642.0 511.8,638.1 514.1,632.6C516.3,627.0 514.6,630.6 517.4,629.2C520.2,627.8 519.1,627.5 522.4,628.4C525.7,629.2 524.1,631.7 527.4,631.7C530.8,631.7 529.4,629.8 532.4,628.4C535.5,627.0 533.8,626.7 536.6,627.5C539.4,628.4 537.7,629.5 540.8,630.9C543.8,632.3 542.7,631.2 545.8,631.7C548.8,632.3 547.4,630.0 549.9,632.6C552.4,635.1 551.3,636.4 553.3,639.2C555.2,642.0 553.6,641.2 555.8,640.9C558.0,640.6 556.6,637.8 560.0,638.4C563.3,638.9 561.6,640.1 565.8,642.6C570.0,645.1 568.9,643.1 572.5,645.9C576.1,648.7 574.7,647.6 576.6,650.9C578.6,654.2 578.3,650.9 578.3,655.9C578.3,660.9 578.0,658.7 576.6,665.9C575.2,673.2 576.1,669.5 574.1,677.6C572.2,685.7 570.8,690.1 570.8,690.1L517.4,690.1C517.4,690.1 516.3,689.0 514.1,682.6C511.8,676.2 512.7,677.6 510.7,670.9C508.8,664.3 508.2,662.6 508.2,662.6L506.6,667.6C506.6,667.6 505.4,665.6 503.2,662.6C501.0,659.5 501.8,660.6 499.9,658.4C497.9,656.2 497.1,659.5 497.4,655.9Z"/>
<path fill="#FFA680" d="M633.4,673.4C633.4,673.4 633.1,667.3 634.2,657.6C635.3,647.8 635.2,650.6 636.7,644.2C638.3,637.8 638.9,638.4 638.9,638.4C638.9,638.4 639.1,643.4 640.9,649.2C642.7,655.1 641.4,652.0 644.2,655.9C647.0,659.8 646.2,660.9 649.2,660.9C652.3,660.9 650.9,659.3 653.4,655.9C655.9,652.6 656.7,650.9 656.7,650.9L658.4,653.4C658.4,653.4 658.4,652.6 660.1,648.4C661.7,644.2 663.4,640.9 663.4,640.9C663.4,640.9 665.2,640.9 666.7,645.9C668.3,650.9 667.9,655.9 667.9,655.9L667.6,673.4L633.4,673.4Z"/>
<path fill="#FFA680" d="M474.9,449.0C474.9,449.0 477.4,449.8 477.4,454.0C477.4,458.2 474.9,461.5 474.9,461.5C474.9,461.5 472.7,458.2 472.7,454.0C472.7,449.8 474.9,449.0 474.9,449.0Z"/>
<path fill="#FF7A45" d="M353.5,613.4C350.2,613.4 351.6,614.5 348.5,617.5C345.5,620.6 346.6,617.5 344.4,622.5C342.1,627.5 343.3,623.7 341.9,632.6C340.5,641.5 341.3,638.1 340.2,649.2C339.1,660.4 339.6,655.9 338.5,665.9C337.4,675.9 337.7,671.2 336.9,679.3C336.0,687.3 336.0,690.1 336.0,690.1L402.8,690.1C402.8,690.1 402.2,686.8 400.3,682.6C398.3,678.4 396.9,677.6 396.9,677.6L394.4,682.6C394.4,682.6 393.3,678.7 391.1,672.6C388.9,666.5 390.3,669.8 387.7,664.3C385.2,658.7 383.6,655.9 383.6,655.9L378.6,662.6C378.6,662.6 376.6,660.4 373.6,654.2C370.5,648.1 372.2,650.4 369.4,644.2C366.6,638.1 367.7,641.5 365.2,635.9C362.7,630.3 364.1,633.7 361.9,627.5C359.7,621.4 361.3,622.3 358.5,617.5C355.8,612.8 356.9,613.4 353.5,613.4Z"/>
<path fill="#FF7A45" d="M301.8,642.6C298.8,642.0 299.6,643.7 296.8,647.6C294.0,651.5 296.0,649.8 293.5,654.2C291.0,658.7 292.1,657.0 289.3,660.9C286.5,664.8 288.2,662.6 285.1,665.9C282.1,669.3 283.2,667.0 280.1,670.9C277.1,674.8 278.5,673.2 275.9,677.6C273.4,682.1 274.3,680.1 272.6,684.3C270.9,688.5 270.9,690.1 270.9,690.1L331.8,690.1C331.8,690.1 332.1,687.9 331.0,682.6C329.9,677.3 330.5,679.8 328.5,674.3C326.6,668.7 327.4,670.7 325.2,665.9C322.9,661.2 321.8,660.1 321.8,660.1C321.8,660.1 319.9,663.4 316.8,667.6C313.8,671.8 312.7,672.6 312.7,672.6C312.7,672.6 311.5,667.0 309.3,659.3C307.1,651.5 308.5,654.8 306.0,649.2C303.5,643.7 304.9,643.1 301.8,642.6Z"/>
<path fill="#FF7A45" d="M249.2,663.4C247.3,663.4 246.7,666.1 246.7,670.9C246.7,675.8 247.3,677.9 249.2,677.9C251.2,677.9 252.6,675.8 252.6,670.9C252.6,666.1 251.2,663.4 249.2,663.4Z"/>
<path fill="#FF7A45" d="M657.6,673.4C657.6,673.4 659.0,669.5 661.7,664.3C664.5,659.0 664.0,660.4 665.9,657.6C667.9,654.8 667.6,655.9 667.6,655.9L667.6,673.4L657.6,673.4Z"/>
<path fill="#FF511F" d="M353.5,649.2C351.3,650.1 351.6,648.7 349.4,654.2C347.1,659.8 348.3,657.6 346.9,665.9C345.5,674.3 346.0,671.2 345.2,679.3C344.4,687.3 344.4,690.1 344.4,690.1L359.4,690.1C359.4,690.1 359.9,684.6 359.4,674.3C358.8,664.0 358.8,666.8 357.7,659.3C356.6,651.7 357.4,655.1 356.0,651.7C354.7,648.4 355.8,648.4 353.5,649.2Z"/>
<path fill="#FF511F" d="M298.5,656.7C295.7,656.5 297.1,657.3 294.3,660.9C291.5,664.5 292.6,663.1 290.1,667.6C287.6,672.0 288.7,669.3 286.8,674.3C284.8,679.3 285.4,677.3 284.3,682.6C283.2,687.9 283.5,690.1 283.5,690.1L308.5,690.1C308.5,690.1 308.8,686.2 307.7,679.3C306.5,672.3 306.8,675.1 305.1,669.3C303.5,663.4 304.9,665.9 302.6,661.8C300.4,657.6 301.3,657.0 298.5,656.7Z"/>
<path fill="#FF511F" d="M315.5,680.1L317.2,690.1L313.5,690.1L315.5,680.1Z"/>
<path fill="#FF511F" d="M322.2,683.4L323.8,690.1L320.5,690.1L322.2,683.4Z"/>
<path fill="#FF511F" d="M661.7,673.4C661.7,673.4 663.1,669.5 665.1,665.1C667.0,660.6 667.6,660.1 667.6,660.1L667.6,673.4L661.7,673.4Z"/>
<path fill="#E33000" d="M297.6,664.3C295.4,665.9 295.7,665.9 293.5,670.9C291.2,675.9 291.8,672.9 291.0,679.3C290.1,685.7 291.0,690.1 291.0,690.1L306.0,690.1C306.0,690.1 306.3,686.8 305.1,680.9C304.0,675.1 304.3,677.6 302.6,672.6C301.0,667.6 301.8,668.7 300.1,665.9C298.5,663.1 299.9,662.6 297.6,664.3Z"/>
<path fill="#E33000" d="M277.6,680.1L273.4,690.1L280.1,690.1L277.6,680.1Z"/>
<path fill="#B82600" d="M296.8,668.9C295.0,669.2 294.1,670.9 294.1,674.3C294.1,677.6 295.0,679.2 296.8,678.9C298.6,678.7 299.5,676.9 299.5,673.6C299.5,670.3 298.6,668.7 296.8,668.9Z"/>
<path fill="#fff" d="M279.8,673.4L284.3,673.4L284.3,690.3L279.8,690.3L279.8,673.4Z"/>
<path fill="#fff" d="M595.0,690.0L595.0,673.3L667.7,673.3L667.7,655.7L685.0,655.7L687.3,637.3L688.3,603.3L690.7,603.3L690.7,515.7L692.7,515.7L692.7,480.7L698.3,480.7L698.3,446.7L703.3,446.7L703.3,690.0L595.0,690.0Z"/>
</g>
<g><text x="187.6" y="207.7" font-size="20.6" text-anchor="end" textLength="36.0" lengthAdjust="spacing" stroke-width="0.00">300</text>
<text x="187.6" y="277.7" font-size="20.6" text-anchor="end" textLength="36.0" lengthAdjust="spacing" stroke-width="0.00">400</text>
<text x="187.6" y="347.8" font-size="20.6" text-anchor="end" textLength="36.0" lengthAdjust="spacing" stroke-width="0.00">500</text>
<text x="187.6" y="487.8" font-size="20.6" text-anchor="end" textLength="36.0" lengthAdjust="spacing" stroke-width="0.00">700</text>
<text x="187.6" y="592.9" font-size="20.6" text-anchor="end" textLength="36.0" lengthAdjust="spacing" stroke-width="0.00">850</text>
<text x="187.6" y="697.9" font-size="20.6" text-anchor="end" textLength="46.2" lengthAdjust="spacing" stroke-width="0.00">1000</text>
<text x="727.3" y="247.3" font-size="20.6" textLength="11.4" lengthAdjust="spacingAndGlyphs" stroke-width="0.00">8</text>
<text x="727.3" y="429.7" font-size="20.6" textLength="11.4" lengthAdjust="spacingAndGlyphs" stroke-width="0.00">4</text>
<text x="212.8" y="730.9" font-size="20.6" text-anchor="middle" textLength="37.8" lengthAdjust="spacing" stroke-width="0.00">90N</text>
<text x="294.6" y="730.9" font-size="20.6" text-anchor="middle" textLength="37.8" lengthAdjust="spacing" stroke-width="0.00">60N</text>
<text x="376.4" y="730.9" font-size="20.6" text-anchor="middle" textLength="37.8" lengthAdjust="spacing" stroke-width="0.00">30N</text>
<text x="458.3" y="730.9" font-size="20.6" text-anchor="middle" textLength="11.4" lengthAdjust="spacingAndGlyphs" stroke-width="0.00">0</text>
<text x="540.1" y="730.9" font-size="20.6" text-anchor="middle" textLength="37.8" lengthAdjust="spacing" stroke-width="0.00">30S</text>
<text x="621.9" y="730.9" font-size="20.6" text-anchor="middle" textLength="37.8" lengthAdjust="spacing" stroke-width="0.00">60S</text>
<text x="703.8" y="730.9" font-size="20.6" text-anchor="middle" textLength="37.8" lengthAdjust="spacing" stroke-width="0.00">90S</text>
<text transform="translate(212.3,179.0) scale(1.08,1)" font-size="29.2" stroke-width="0.55"><tspan x="0.0" textLength="60.1" lengthAdjust="spacing">Total</tspan> <tspan x="75.2" textLength="99.4" lengthAdjust="spacing">diabatic</tspan> <tspan x="190.0" textLength="91.2" lengthAdjust="spacing">heating</tspan></text>
<text transform="translate(620.0,179.0) scale(1.08,1)" font-size="29.2" stroke-width="0.55"><tspan x="0.0" textLength="77.8" lengthAdjust="spacing">K/day</tspan></text>
<text transform="translate(121.3,444.6) rotate(-90)" font-size="32" stroke-width="1.0"><tspan x="-109.1" textLength="126" lengthAdjust="spacing">Pressure</tspan> <tspan x="36.0" textLength="73" lengthAdjust="spacing">(mb)</tspan></text>
<text transform="translate(778.3,446.4) rotate(-90)" font-size="30.5" stroke-width="0.9"><tspan x="-90.8" textLength="93.5" lengthAdjust="spacing">Height</tspan> <tspan x="20.4" textLength="72.2" lengthAdjust="spacing">(km)</tspan></text></g>
<g stroke="#000" fill="#000"><path d="M212.50,200.40v-14.4M212.50,690.60v14.4" stroke-width="2.85"/>
<path d="M239.78,200.40v-7.2M239.78,690.60v7.2" stroke-width="1.6"/>
<path d="M267.05,200.40v-7.2M267.05,690.60v7.2" stroke-width="1.6"/>
<path d="M294.32,200.40v-14.4M294.32,690.60v14.4" stroke-width="2.85"/>
<path d="M321.60,200.40v-7.2M321.60,690.60v7.2" stroke-width="1.6"/>
<path d="M348.88,200.40v-7.2M348.88,690.60v7.2" stroke-width="1.6"/>
<path d="M376.15,200.40v-14.4M376.15,690.60v14.4" stroke-width="2.85"/>
<path d="M403.43,200.40v-7.2M403.43,690.60v7.2" stroke-width="1.6"/>
<path d="M430.70,200.40v-7.2M430.70,690.60v7.2" stroke-width="1.6"/>
<path d="M457.98,200.40v-14.4M457.98,690.60v14.4" stroke-width="2.85"/>
<path d="M485.25,200.40v-7.2M485.25,690.60v7.2" stroke-width="1.6"/>
<path d="M512.53,200.40v-7.2M512.53,690.60v7.2" stroke-width="1.6"/>
<path d="M539.80,200.40v-14.4M539.80,690.60v14.4" stroke-width="2.85"/>
<path d="M567.08,200.40v-7.2M567.08,690.60v7.2" stroke-width="1.6"/>
<path d="M594.35,200.40v-7.2M594.35,690.60v7.2" stroke-width="1.6"/>
<path d="M621.62,200.40v-14.4M621.62,690.60v14.4" stroke-width="2.85"/>
<path d="M648.90,200.40v-7.2M648.90,690.60v7.2" stroke-width="1.6"/>
<path d="M676.18,200.40v-7.2M676.18,690.60v7.2" stroke-width="1.6"/>
<path d="M703.45,200.40v-14.4M703.45,690.60v14.4" stroke-width="2.85"/>
<path d="M212.50,200.40h-14.5" stroke-width="2.85"/>
<path d="M212.50,270.40h-14.5" stroke-width="2.85"/>
<path d="M212.50,340.50h-14.5" stroke-width="2.85"/>
<path d="M212.50,480.50h-14.5" stroke-width="2.85"/>
<path d="M212.50,585.60h-14.5" stroke-width="2.85"/>
<path d="M212.50,690.60h-14.5" stroke-width="2.85"/>
<path d="M703.45,240.00h14.5" stroke-width="2.85"/>
<path d="M703.45,422.40h14.5" stroke-width="2.85"/>
<rect x="212.50" y="200.40" width="490.95" height="490.20" fill="none" stroke-width="2.85"/></g>
</g>
<g transform="translate(758,0)">
<g clip-path="url(#fc)"><rect x="212.50" y="200.40" width="490.95" height="490.20" fill="#D6EAFF"/>
<path fill="#B3CCFB" d="M212.7,200.9L416.1,200.9C416.1,200.9 416.7,203.7 418.6,211.7C420.6,219.8 420.2,215.6 422.0,225.1C423.7,234.5 423.0,227.8 424.0,240.1C425.0,252.3 424.4,246.2 425.0,261.8C425.5,277.4 425.2,267.3 425.6,286.8C426.0,306.3 425.8,297.9 426.1,320.2C426.5,342.4 426.3,331.3 426.6,353.6C426.9,375.8 426.7,364.7 427.0,386.9C427.2,409.2 427.1,399.6 427.3,420.3C427.5,441.0 427.3,422.7 427.5,449.0C427.6,475.3 427.7,465.7 427.8,499.1C427.9,532.4 428.1,521.3 427.8,549.1C427.5,576.9 428.1,568.0 427.0,582.5C425.8,597.0 426.7,589.7 424.5,592.5C422.2,595.3 423.9,592.2 420.3,590.8C416.7,589.4 418.6,589.4 413.6,588.3C408.6,587.2 410.3,588.1 405.3,587.5C400.3,586.9 403.0,586.4 398.6,586.7C394.1,586.9 395.8,588.3 391.9,588.3C388.0,588.3 390.8,588.1 386.9,586.7C383.0,585.3 384.4,587.2 380.2,584.2C376.1,581.1 377.7,584.7 374.4,577.5C371.1,570.3 372.7,574.7 370.2,562.5C367.7,550.2 368.3,555.2 366.9,540.8C365.5,526.3 365.8,533.0 366.1,519.1C366.3,505.2 366.1,514.1 367.7,499.1C369.4,484.0 369.1,490.7 371.1,474.0C373.0,457.3 372.5,462.5 373.6,449.0C374.7,435.5 374.0,442.7 374.4,433.6C374.8,424.6 374.9,422.0 374.9,422.0C374.9,422.0 375.4,423.9 376.9,422.8C378.4,421.7 378.4,422.2 379.4,418.6C380.4,415.0 380.2,418.1 379.9,412.0C379.6,405.8 379.6,411.4 378.6,400.3C377.6,389.2 377.9,394.2 376.9,378.6C375.9,363.0 376.4,370.2 375.6,353.6C374.7,336.9 375.3,346.3 374.4,328.5C373.5,310.7 374.1,318.5 372.7,300.2C371.3,281.8 372.2,290.1 370.2,273.5C368.3,256.8 369.1,265.1 366.9,250.1C364.7,235.1 365.8,240.1 363.6,228.4C361.3,216.7 362.7,222.6 360.2,215.1C357.7,207.5 359.4,209.9 356.0,205.9C352.7,201.9 354.1,203.0 350.2,203.0C346.3,203.0 348.0,203.0 344.4,205.9C340.7,208.8 342.1,207.0 339.4,211.7C336.6,216.4 338.2,211.7 336.0,220.1C333.8,228.4 335.5,225.6 332.7,236.7C329.9,247.9 330.7,242.3 327.7,253.4C324.6,264.6 326.6,259.0 323.5,270.1C320.4,281.2 321.8,274.6 318.5,286.8C315.2,299.0 316.8,295.7 313.5,306.8C310.2,318.0 311.8,311.8 308.5,320.2C305.1,328.5 306.5,325.7 303.5,331.9C300.4,338.0 301.8,335.2 299.3,338.5C296.8,341.9 297.6,339.6 296.0,341.9C294.3,344.1 295.4,338.5 294.3,345.2C293.2,351.9 294.0,348.0 292.6,361.9C291.2,375.8 291.8,370.2 290.1,386.9C288.5,403.6 289.0,395.3 287.6,412.0C286.2,428.6 286.7,424.6 286.0,437.0C285.2,449.3 285.4,441.7 285.5,449.0C285.5,456.3 285.7,450.7 286.1,459.0C286.6,467.4 286.0,460.7 286.8,474.0C287.6,487.4 287.5,482.4 288.5,499.1C289.5,515.7 289.1,507.4 289.8,524.1C290.5,540.8 290.1,532.4 290.5,549.1C290.9,565.8 290.8,557.5 291.0,574.1C291.1,590.8 291.2,582.5 291.0,599.2C290.7,615.9 291.2,610.3 290.1,624.2C289.0,638.1 289.6,631.4 287.6,640.9C285.7,650.4 286.8,646.2 284.3,652.6C281.8,659.0 282.9,656.5 280.1,660.1C277.3,663.7 278.7,663.1 275.9,663.4C273.2,663.7 274.3,664.0 271.8,660.9C269.3,657.9 270.1,660.9 268.4,654.2C266.8,647.6 267.8,650.9 266.8,640.9C265.8,630.9 266.5,634.2 265.4,624.2C264.3,614.2 264.9,617.3 263.4,610.9C261.9,604.5 262.9,607.0 260.9,605.0C259.0,603.1 259.5,603.4 257.6,605.0C255.6,606.7 256.8,605.9 255.1,610.0C253.4,614.2 254.3,612.3 252.6,617.5C250.9,622.8 252.0,620.3 250.1,625.9C248.1,631.4 249.0,629.2 246.7,634.2C244.5,639.2 245.6,636.7 243.4,640.9C241.2,645.1 241.7,641.2 240.1,646.7C238.4,652.3 239.5,650.1 238.4,657.6C237.3,665.1 237.8,660.9 236.7,669.3C235.6,677.6 236.2,675.7 235.1,682.6C234.0,689.6 233.4,690.1 233.4,690.1L212.7,690.1L212.7,200.9Z"/>
<path fill="#B3CCFB" d="M551.6,201.7C551.6,201.7 552.4,203.9 554.9,204.7C557.5,205.5 556.9,205.2 559.1,204.2C561.3,203.2 561.6,201.7 561.6,201.7L551.6,201.7Z"/>
<path fill="#B3CCFB" d="M550.8,486.5C553.0,486.5 554.1,490.7 554.1,490.7C554.1,490.7 556.1,488.2 559.1,489.9C562.2,491.6 561.1,490.4 563.3,495.7C565.5,501.0 564.1,499.1 565.8,505.7C567.5,512.4 565.8,510.7 568.3,515.7C570.8,520.8 569.7,518.5 573.3,520.8C576.9,523.0 575.8,521.3 579.1,522.4C582.5,523.5 580.8,519.6 583.3,524.1C585.8,528.5 584.6,527.4 586.7,535.8C588.7,544.1 589.2,540.2 589.5,549.1C589.8,558.0 589.0,552.5 587.5,562.5C586.0,572.5 586.9,569.7 585.0,579.2C583.0,588.6 584.1,584.2 581.6,590.8C579.1,597.5 580.0,594.2 577.5,599.2C575.0,604.2 577.2,602.0 574.1,605.9C571.1,609.7 571.6,608.6 568.3,610.9C565.0,613.1 567.2,612.8 564.1,612.5C561.1,612.3 562.2,610.6 559.1,610.0C556.1,609.5 557.7,612.8 554.9,610.9C552.2,608.9 553.3,609.2 550.8,604.2C548.3,599.2 549.7,601.4 547.4,595.8C545.2,590.3 546.6,592.5 544.1,587.5C541.6,582.5 542.2,586.9 539.9,580.8C537.7,574.7 539.1,579.2 537.4,569.1C535.8,559.1 535.2,561.9 534.9,550.8C534.6,539.7 534.9,546.3 536.6,535.8C538.3,525.2 537.4,530.2 539.9,519.1C542.4,508.0 541.6,511.9 544.1,502.4C546.6,492.9 545.2,496.0 547.4,490.7C549.7,485.4 548.6,486.5 550.8,486.5Z"/>
<path fill="#B3CCFB" d="M703.0,259.3C703.0,259.3 702.2,259.6 699.3,262.6C696.4,265.7 698.2,265.1 694.3,268.5C690.4,271.8 687.6,272.6 687.6,272.6C687.6,272.6 686.2,271.8 682.6,268.5C679.0,265.1 680.7,265.1 676.8,262.6C672.9,260.1 674.3,260.1 670.9,260.9C667.6,261.8 669.3,260.9 666.7,265.1C664.2,269.3 665.4,266.2 663.4,273.5C661.5,280.7 662.6,274.0 660.9,286.8C659.2,299.6 660.1,295.1 658.4,311.8C656.7,328.5 657.3,320.2 655.9,336.9C654.5,353.6 655.2,345.2 654.2,361.9C653.2,378.6 653.7,370.2 652.9,386.9C652.1,403.6 652.5,395.3 651.7,412.0C651.0,428.6 651.1,424.6 650.6,437.0C650.0,449.3 650.1,445.0 650.1,449.0C650.1,453.0 651.1,443.4 650.6,449.0C650.0,454.6 650.0,451.8 648.4,465.7C646.8,479.6 647.3,474.0 645.9,490.7C644.5,507.4 645.1,496.3 644.2,515.7C643.4,535.2 643.4,549.1 643.4,549.1C643.4,549.1 643.6,552.5 645.6,552.5C647.5,552.5 649.2,549.1 649.2,549.1C649.2,549.1 649.9,555.2 650.9,565.8C651.9,576.4 652.2,580.8 652.2,580.8C652.2,580.8 652.5,579.2 653.4,565.8C654.3,552.5 654.0,556.4 655.1,540.8C656.2,525.2 655.3,529.1 656.7,519.1C658.1,509.1 659.2,510.7 659.2,510.7L661.7,519.1C661.7,519.1 662.3,511.6 663.4,504.1C664.5,496.6 665.1,496.6 665.1,496.6C665.1,496.6 665.8,492.1 666.7,504.1C667.7,516.0 667.4,511.9 667.9,532.4C668.5,553.0 668.1,543.6 668.4,565.8C668.8,588.1 668.5,579.7 668.9,599.2C669.3,618.6 669.0,605.3 669.6,624.2C670.1,643.1 670.6,655.9 670.6,655.9L703.0,655.9L703.0,259.3Z"/>
<path fill="#D6EAFF" d="M219.2,690.1C219.2,690.1 218.9,686.8 220.9,685.1C222.8,683.4 222.8,683.4 225.1,685.1C227.3,686.8 227.6,690.1 227.6,690.1L219.2,690.1Z"/>
<path fill="#80A6FF" d="M212.7,291.8C212.7,291.8 214.5,294.9 218.4,299.3C222.2,303.8 221.2,302.1 224.2,305.2C227.3,308.2 227.6,308.5 227.6,308.5C227.6,308.5 227.6,306.1 230.1,304.3C232.6,302.5 231.5,303.2 235.1,303.2C238.7,303.2 238.2,302.5 240.9,304.3C243.6,306.1 242.0,303.2 243.1,308.5C244.2,313.8 243.5,310.7 244.2,320.2C245.0,329.6 244.6,325.7 245.4,336.9C246.2,348.0 245.9,339.6 246.7,353.6C247.6,367.5 247.1,363.0 248.1,378.6C249.1,394.2 248.5,388.6 249.8,400.3C251.0,412.0 250.3,407.2 251.8,413.6C253.3,420.0 252.1,417.2 254.3,419.5C256.4,421.7 258.1,420.3 258.1,420.3C258.1,420.3 259.4,422.0 260.9,428.6C262.4,435.3 261.8,433.5 262.6,440.3C263.4,447.1 263.3,437.8 263.4,449.0C263.6,460.2 263.4,457.3 263.1,474.0C262.8,490.7 263.0,482.4 262.6,499.1C262.2,515.7 262.6,507.4 261.8,524.1C260.9,540.8 261.5,534.1 260.1,549.1C258.7,564.1 259.3,555.2 257.6,569.1C255.9,583.0 256.8,578.0 255.1,590.8C253.4,603.6 254.5,598.1 252.6,607.5C250.6,617.0 251.5,612.0 249.2,619.2C247.0,626.4 248.1,622.5 245.9,629.2C243.7,635.9 244.8,634.2 242.6,639.2C240.3,644.2 240.9,639.8 239.2,644.2C237.6,648.7 238.7,645.3 237.6,652.6C236.5,659.8 237.0,657.0 235.9,665.9C234.8,674.8 235.6,674.0 234.2,679.3C232.8,684.6 235.9,680.9 231.7,681.8C227.6,682.6 226.4,680.9 221.7,681.8C217.0,682.6 220.0,681.8 217.5,684.3C215.0,686.8 215.8,687.3 214.2,689.3C212.6,691.2 212.7,690.1 212.7,690.1L212.7,291.8Z"/>
<path fill="#80A6FF" d="M269.3,517.4C269.3,517.4 268.3,521.9 267.6,532.4C266.9,543.0 266.9,535.2 267.1,549.1C267.3,563.0 267.4,557.5 268.1,574.1C268.8,590.8 268.6,582.5 269.3,599.2C269.9,615.9 269.4,610.3 270.1,624.2C270.8,638.1 270.3,632.0 271.4,640.9C272.6,649.8 272.2,646.2 273.4,650.9C274.7,655.6 273.7,655.6 275.1,655.1C276.5,654.5 276.2,655.1 277.6,649.2C279.0,643.4 278.2,645.9 279.3,637.6C280.4,629.2 280.0,634.2 281.0,624.2C281.9,614.2 281.8,619.8 282.1,607.5C282.4,595.3 281.8,587.5 281.8,587.5C281.8,587.5 281.0,583.3 279.3,585.0C277.6,586.7 276.8,592.5 276.8,592.5C276.8,592.5 276.9,591.4 276.4,582.5C276.0,573.6 276.2,576.9 275.4,565.8C274.7,554.7 275.2,559.1 274.3,549.1C273.3,539.1 273.7,544.1 272.6,535.8C271.5,527.4 272.1,530.2 270.9,524.1C269.8,518.0 269.3,517.4 269.3,517.4Z"/>
<path fill="#80A6FF" d="M405.6,398.3C405.6,398.3 404.8,397.9 403.6,403.6C402.4,409.3 403.0,406.9 401.9,415.3C400.8,423.6 401.4,420.3 400.3,428.6C399.2,437.0 399.4,433.5 398.6,440.3C397.8,447.1 398.9,441.7 397.8,449.0C396.6,456.3 397.2,452.9 395.3,462.3C393.3,471.8 394.1,467.4 391.9,477.4C389.7,487.4 390.5,482.4 388.6,492.4C386.6,502.4 387.7,497.9 386.1,507.4C384.4,516.9 384.9,514.4 383.6,520.8C382.3,527.1 382.2,526.6 382.2,526.6L380.2,514.1C380.2,514.1 379.6,509.6 378.9,515.7C378.2,521.9 378.6,521.3 378.2,532.4C377.8,543.6 376.8,541.3 377.7,549.1C378.7,556.9 378.3,552.5 381.1,555.8C383.9,559.1 383.6,556.9 386.1,559.1C388.6,561.4 388.6,562.5 388.6,562.5C388.6,562.5 389.1,561.0 391.9,561.6C394.7,562.3 393.0,564.2 396.9,564.5C400.8,564.7 399.4,562.9 403.6,562.5C407.8,562.1 405.5,563.9 409.4,563.3C413.3,562.7 411.7,563.0 415.3,560.8C418.9,558.6 418.0,560.5 420.3,556.6C422.6,552.7 422.0,557.2 422.3,549.1C422.6,541.1 422.3,543.6 421.1,532.4C419.9,521.3 420.3,526.9 418.6,515.7C416.9,504.6 417.8,510.2 416.1,499.1C414.4,487.9 415.3,493.5 413.6,482.4C411.9,471.2 412.3,476.8 411.1,465.7C409.9,454.6 410.5,454.6 409.9,449.0C409.4,443.4 409.8,455.8 409.4,449.0C409.1,442.2 409.2,441.0 408.9,428.6C408.7,416.3 409.0,420.9 408.6,412.0C408.2,403.1 408.8,406.5 407.8,401.9C406.8,397.4 405.6,398.3 405.6,398.3Z"/>
<path fill="#80A6FF" d="M551.6,571.6C551.6,571.6 552.2,574.1 554.1,577.5C556.1,580.8 556.2,578.3 557.5,581.7C558.7,585.0 558.3,584.2 557.8,587.5C557.2,590.8 557.6,590.4 555.8,591.7C554.0,592.9 554.2,593.4 552.4,591.2C550.7,588.9 550.7,591.5 550.4,585.0C550.2,578.5 551.6,571.6 551.6,571.6Z"/>
<path fill="#80A6FF" d="M703.0,391.9C703.0,391.9 702.2,392.5 700.1,393.6C698.1,394.7 698.5,392.5 696.8,395.3C695.1,398.1 695.1,401.9 695.1,401.9C695.1,401.9 694.3,397.2 692.6,400.3C690.9,403.3 690.1,411.1 690.1,411.1C690.1,411.1 689.4,408.1 687.9,403.6C686.4,399.2 685.6,397.8 685.6,397.8C685.6,397.8 685.3,399.4 683.4,403.6C681.6,407.8 680.1,410.3 680.1,410.3C680.1,410.3 680.7,411.4 681.8,420.3C682.9,429.2 682.6,427.4 683.4,437.0C684.3,446.6 683.2,445.0 684.3,449.0C685.4,453.0 685.7,443.4 686.8,449.0C687.9,454.6 686.8,455.1 687.6,465.7C688.4,476.3 689.3,480.7 689.3,480.7L703.0,480.7L703.0,391.9Z"/>
<path fill="#80A6FF" d="M680.1,410.3C680.1,410.3 679.0,408.1 676.8,403.6C674.5,399.2 675.6,398.1 673.4,396.9C671.2,395.8 672.3,396.9 670.1,400.3C667.9,403.6 668.1,401.4 666.7,406.9C665.4,412.5 665.6,409.2 665.9,417.0C666.2,424.7 666.4,419.6 667.6,430.3C668.8,441.0 668.6,440.5 669.6,449.0C670.6,457.5 670.6,455.7 670.6,455.7C670.6,455.7 670.6,451.2 671.3,449.0C671.9,446.8 671.3,454.1 672.6,449.0C673.9,443.9 673.4,443.2 675.1,433.6C676.8,424.1 675.9,428.1 677.6,420.3C679.3,412.5 680.1,410.3 680.1,410.3Z"/>
<path fill="#80A6FF" d="M692.6,532.4C692.6,532.4 691.5,538.0 690.1,549.1C688.7,560.2 689.8,555.2 688.4,565.8C687.1,576.4 687.6,573.6 685.9,580.8C684.3,588.1 683.4,587.5 683.4,587.5L680.9,582.5C680.9,582.5 680.7,585.3 679.3,590.8C677.9,596.4 678.2,593.6 676.8,599.2C675.4,604.7 676.0,599.2 675.1,607.5C674.1,615.9 674.8,613.1 673.9,624.2C673.1,635.3 673.5,630.3 672.6,640.9C671.7,651.5 671.3,655.9 671.3,655.9L692.6,655.9L692.6,532.4Z"/>
<path fill="#4177FF" d="M691.8,575.8C691.8,575.8 690.8,581.7 689.6,590.8C688.4,600.0 688.3,603.4 688.3,603.4L691.8,603.4L691.8,575.8Z"/>
<path fill="#4177FF" d="M688.4,617.5C688.4,617.5 688.1,627.5 686.3,637.6C684.4,647.6 684.8,641.5 682.9,647.6C681.0,653.7 680.6,655.9 680.6,655.9L687.6,655.9L688.4,617.5Z"/>
<path fill="#4177FF" d="M212.7,665.1L223.7,672.3L212.7,680.1L212.7,665.1Z"/>
<path fill="#4177FF" d="M703.0,442.8C703.0,442.8 701.3,441.6 699.3,443.7C697.2,445.7 696.8,449.0 696.8,449.0L703.0,449.0L703.0,442.8Z"/>
<path fill="#FFE9D6" d="M432.1,201.7C432.1,201.7 432.2,365.3 432.1,470.0C431.9,574.7 432.2,483.8 431.6,515.7C431.0,547.7 431.3,540.8 430.3,565.8C429.3,590.8 430.3,578.0 428.6,590.8C427.0,603.6 428.1,600.6 425.3,604.2C422.5,607.8 424.2,602.8 420.3,601.7C416.4,600.6 418.6,601.4 413.6,600.8C408.6,600.3 410.8,600.6 405.3,600.0C399.7,599.5 402.5,599.2 396.9,599.2C391.4,599.2 393.6,600.6 388.6,600.0C383.6,599.5 386.4,600.0 381.9,597.5C377.5,595.0 379.1,597.0 375.2,592.5C371.3,588.1 373.3,590.8 370.2,584.2C367.2,577.5 368.6,580.8 366.1,572.5C363.6,564.1 364.9,568.0 362.7,559.1C360.5,550.2 361.3,553.0 359.4,545.8C357.4,538.6 358.5,541.6 356.9,537.4C355.2,533.3 354.4,533.3 354.4,533.3C354.4,533.3 353.5,538.8 351.0,542.4C348.5,546.1 349.6,541.9 346.9,544.1C344.1,546.3 345.2,545.5 342.7,549.1C340.2,552.7 339.4,555.0 339.4,555.0C339.4,555.0 338.2,554.1 336.0,553.3C333.8,552.5 335.2,554.1 332.7,552.5C330.2,550.8 328.5,548.3 328.5,548.3C328.5,548.3 326.8,550.2 323.5,553.3C320.2,556.4 321.3,553.8 318.5,557.5C315.7,561.1 317.4,560.2 315.2,564.1C312.9,568.0 314.0,564.1 311.8,569.1C309.6,574.1 311.0,573.0 308.5,579.2C306.0,585.3 307.1,582.5 304.3,587.5C301.5,592.5 302.9,591.4 300.1,594.2C297.4,597.0 297.9,593.1 296.0,595.8C294.0,598.6 295.1,595.8 294.3,602.5C293.5,609.2 294.0,607.0 293.5,615.9C292.9,624.8 293.7,620.9 292.6,629.2C291.5,637.6 292.1,633.7 290.1,640.9C288.2,648.1 289.6,644.5 286.8,650.9C284.0,657.3 285.1,655.6 281.8,660.1C278.5,664.5 279.8,663.1 276.8,664.3C273.7,665.4 275.4,665.1 272.6,663.4C269.8,661.8 270.9,662.9 268.4,659.3C265.9,655.6 267.0,658.1 265.1,652.6C263.2,647.0 264.5,648.7 262.6,642.6C260.7,636.4 261.5,638.4 259.3,634.2C257.0,630.0 258.1,630.6 255.9,630.0C253.7,629.5 254.5,628.9 252.6,632.6C250.6,636.2 251.8,635.9 250.1,640.9C248.4,645.9 249.0,642.0 247.6,647.6C246.2,653.1 246.7,650.4 245.9,657.6C245.1,664.8 245.1,661.5 245.1,669.3C245.1,677.1 244.8,674.0 245.9,680.9C247.0,687.9 248.4,690.1 248.4,690.1L585.8,690.1C585.8,690.1 587.5,687.1 590.8,682.6C594.2,678.2 592.5,679.6 595.8,676.8C599.2,674.0 600.8,674.3 600.8,674.3L600.8,673.4L636.7,673.4L636.7,655.9L670.9,655.9C670.9,655.9 670.9,653.7 670.1,645.9C669.3,638.1 669.8,640.9 668.4,632.6C667.0,624.2 667.6,628.7 665.9,620.9C664.2,613.1 665.1,616.4 663.4,609.2C661.7,602.0 662.3,605.3 660.9,599.2C659.5,593.1 659.2,590.8 659.2,590.8C659.2,590.8 659.5,590.3 658.4,595.8C657.3,601.4 657.8,600.8 655.9,607.5C654.0,614.2 654.8,611.4 652.6,615.9C650.3,620.3 649.2,620.9 649.2,620.9C649.2,620.9 647.0,616.1 645.1,609.2C643.1,602.2 644.5,604.5 643.4,600.0C642.3,595.6 643.1,601.7 641.7,595.8C640.3,590.0 640.9,590.3 639.2,582.5C637.5,574.7 639.5,576.9 636.7,572.5C633.9,568.0 635.0,573.6 630.9,569.1C626.7,564.7 627.6,565.8 624.2,559.1C620.7,552.5 622.2,563.6 620.5,549.1C618.9,534.7 618.2,532.4 619.2,515.7C620.1,499.1 620.6,510.2 623.4,499.1C626.1,487.9 625.0,492.4 627.5,482.4C630.0,472.4 628.4,476.8 630.9,469.0C633.4,461.2 632.5,465.7 635.0,459.0C637.5,452.3 637.3,461.9 638.4,449.0C639.5,436.1 638.8,435.4 638.4,420.3C638.0,405.2 638.6,414.7 637.2,403.6C635.8,392.5 636.3,398.1 634.2,386.9C632.1,375.8 633.7,381.4 630.9,370.2C628.1,359.1 629.2,364.7 625.9,353.6C622.5,342.4 623.6,348.0 620.9,336.9C618.1,325.7 619.7,329.6 617.5,320.2C615.3,310.7 616.4,314.6 614.2,308.5C612.0,302.4 613.6,304.4 610.8,301.8C608.1,299.2 609.2,300.1 605.8,300.7C602.5,301.2 603.2,299.2 600.8,303.5C598.5,307.8 600.1,305.2 598.8,313.5C597.6,321.8 598.3,315.2 597.2,328.5C596.1,341.9 596.5,336.9 595.5,353.6C594.5,370.2 594.9,361.9 594.2,378.6C593.4,395.3 593.4,389.7 593.3,403.6C593.2,417.5 593.3,409.2 593.8,420.3C594.4,431.4 594.3,427.4 595.0,437.0C595.7,446.6 594.7,439.4 595.8,449.0C596.9,458.6 596.7,454.6 598.3,465.7C600.0,476.8 598.9,471.2 600.8,482.4C602.8,493.5 602.1,487.9 604.2,499.1C606.3,510.2 606.3,499.1 607.2,515.7C608.0,532.4 608.0,532.4 606.7,549.1C605.4,565.8 605.8,554.7 603.3,565.8C600.8,576.9 602.2,573.6 599.2,582.5C596.1,591.4 597.5,585.8 594.2,592.5C590.8,599.2 593.6,595.6 589.2,602.5C584.7,609.5 586.1,607.5 580.8,613.4C575.5,619.2 577.8,616.1 573.3,620.0C568.9,623.9 571.6,624.2 567.5,625.0C563.3,625.9 565.2,623.7 560.8,622.5C556.3,621.4 557.5,623.9 554.1,621.7C550.8,619.5 553.0,620.3 550.8,615.9C548.6,611.4 550.2,611.1 547.4,608.4C544.7,605.6 545.8,609.5 542.4,607.5C539.1,605.6 541.3,607.0 537.4,602.5C533.5,598.1 534.6,600.8 530.8,594.2C526.9,587.5 528.2,590.8 525.7,582.5C523.2,574.1 525.5,575.8 523.2,569.1C521.0,562.5 521.6,569.1 519.1,562.5C516.6,555.8 516.6,561.9 515.7,549.1C514.9,536.3 515.5,540.8 516.6,524.1C517.7,507.4 517.1,515.7 519.1,499.1C521.0,482.4 520.5,490.7 522.4,474.0C524.4,457.3 524.7,450.3 524.9,449.0C525.1,447.7 523.1,469.8 523.0,470.0C522.9,470.2 523.3,464.8 524.7,449.6C526.1,434.4 525.5,441.2 527.2,424.4C528.9,407.7 527.5,413.3 529.7,399.3C531.9,385.4 531.6,393.7 533.9,382.6C536.1,371.4 535.1,379.8 536.4,365.8C537.7,351.9 537.7,360.3 537.7,340.7C537.7,321.2 537.7,330.7 536.4,307.2C535.1,283.8 536.1,289.9 533.9,270.4C531.6,250.8 531.9,264.2 529.7,248.6C527.5,233.0 528.7,239.1 527.2,223.5C525.7,207.9 525.2,201.7 525.2,201.7L432.1,201.7Z"/>
<path fill="#FFE9D6" d="M348.5,327.7C346.3,328.8 347.1,327.7 345.2,333.5C343.3,339.4 344.6,336.9 342.7,345.2C340.7,353.6 341.6,349.1 339.4,358.6C337.1,368.0 338.2,363.0 336.0,373.6C333.8,384.1 334.9,379.1 332.7,390.3C330.5,401.4 331.0,395.8 329.3,406.9C327.7,418.1 328.2,409.6 327.7,423.6C327.1,437.7 327.1,436.1 327.7,449.0C328.2,461.9 328.2,454.0 329.3,462.3C330.5,470.7 329.6,466.8 331.0,474.0C332.4,481.3 331.3,479.7 333.5,484.0C335.7,488.4 334.6,486.5 337.7,487.0C340.7,487.6 339.6,487.5 342.7,485.7C345.8,483.9 344.6,483.8 346.9,481.5C349.1,479.3 349.4,479.0 349.4,479.0C349.4,479.0 349.6,481.3 351.0,484.9C352.4,488.5 353.5,489.9 353.5,489.9C353.5,489.9 354.7,490.4 356.0,482.4C357.4,474.3 356.6,476.8 357.7,465.7C358.8,454.6 358.5,454.6 359.4,449.0C360.2,443.4 359.7,453.0 360.2,449.0C360.8,445.0 360.5,446.6 361.0,437.0C361.6,427.4 361.3,431.4 361.9,420.3C362.4,409.2 362.7,414.7 362.7,403.6C362.7,392.5 362.3,397.5 361.9,386.9C361.5,376.4 361.6,371.9 361.6,371.9C361.6,371.9 360.9,374.7 359.4,368.6C357.8,362.5 358.5,363.6 356.9,353.6C355.2,343.5 356.0,346.3 354.4,338.5C352.7,330.7 353.8,333.8 351.9,330.2C349.9,326.6 350.8,326.6 348.5,327.7Z"/>
<path fill="#FFE9D6" d="M238.1,660.9C238.1,660.9 239.6,663.7 239.7,670.9C239.8,678.2 238.4,682.6 238.4,682.6C238.4,682.6 236.8,679.8 236.7,672.6C236.6,665.4 238.1,660.9 238.1,660.9Z"/>
<path fill="#D6EAFF" d="M460.0,563.3C462.0,561.1 461.7,565.6 463.3,576.7C465.0,587.8 465.2,584.4 465.0,596.7C464.8,608.9 464.6,611.1 462.7,613.3C460.8,615.6 461.1,613.3 459.3,603.3C457.6,593.3 457.1,596.7 457.3,583.3C457.6,570.0 458.0,565.6 460.0,563.3Z"/>
<path fill="#FFCBB3" d="M444.3,219.3C442.3,220.4 442.6,217.1 440.9,226.8C439.3,236.6 440.4,233.0 439.3,248.6C438.1,264.2 438.5,254.2 437.6,273.7C436.6,293.3 437.1,284.9 436.4,307.2C435.7,329.6 435.9,318.4 435.6,340.7C435.2,363.0 435.3,351.9 435.4,374.2C435.5,396.5 435.7,375.8 435.9,407.7C436.1,439.6 436.4,434.0 435.9,470.0C435.4,506.0 435.2,483.8 434.5,515.7C433.7,547.7 434.5,539.1 433.6,565.8C432.8,592.5 433.6,579.7 432.0,595.8C430.3,612.0 431.4,607.0 428.6,614.2C425.8,621.4 427.5,617.8 423.6,617.5C419.7,617.3 421.4,614.5 416.9,613.4C412.5,612.3 414.7,614.8 410.3,614.2C405.8,613.6 408.1,612.5 403.6,611.7C399.2,610.9 401.4,612.3 396.9,611.7C392.5,611.1 394.7,610.3 390.3,610.0C385.8,609.7 388.0,612.0 383.6,610.9C379.1,609.7 380.8,609.7 376.9,606.7C373.0,603.6 375.2,605.9 371.9,601.7C368.6,597.5 369.9,600.0 366.9,594.2C363.8,588.3 365.2,590.3 362.7,584.2C360.2,578.0 362.2,579.7 359.4,575.8C356.6,571.9 357.4,572.8 354.4,572.5C351.3,572.2 353.3,573.6 350.2,575.0C347.1,576.4 348.3,574.1 345.2,576.7C342.1,579.2 343.5,577.8 341.0,582.5C338.5,587.2 340.2,586.9 337.7,590.8C335.2,594.7 336.6,592.2 333.5,594.2C330.5,596.1 331.6,594.7 328.5,596.7C325.5,598.6 324.3,600.0 324.3,600.0C324.3,600.0 323.5,596.1 321.0,596.7C318.5,597.2 319.3,597.5 316.8,601.7C314.3,605.9 316.3,605.0 313.5,609.2C310.7,613.4 308.5,614.2 308.5,614.2L304.3,609.2C304.3,609.2 303.2,610.9 301.0,615.9C298.8,620.9 299.6,618.1 297.6,624.2C295.7,630.3 297.1,628.1 295.1,634.2C293.2,640.3 294.0,636.7 291.8,642.6C289.6,648.4 291.0,645.9 288.5,651.7C286.0,657.6 287.1,655.4 284.3,660.1C281.5,664.8 282.9,663.3 280.1,665.9C277.3,668.5 279.0,667.9 275.9,667.9C272.9,667.9 274.0,668.5 270.9,665.9C267.9,663.3 269.3,664.8 266.8,660.1C264.3,655.4 265.7,657.3 263.4,651.7C261.2,646.2 262.3,647.8 260.1,643.4C257.9,638.9 259.0,639.2 256.8,638.4C254.5,637.6 255.2,637.8 253.4,640.9C251.6,644.0 252.8,642.0 251.4,647.6C250.0,653.1 250.4,650.4 249.2,657.6C248.1,664.8 248.4,661.5 248.1,669.3C247.8,677.1 247.5,674.0 248.4,680.9C249.4,687.9 250.9,690.1 250.9,690.1L636.7,690.1L636.7,655.9L670.1,655.9C670.1,655.9 670.0,653.1 668.9,645.9C667.8,638.7 668.3,640.1 666.7,634.2C665.2,628.4 666.2,629.8 664.2,628.4C662.3,627.0 662.9,628.1 660.9,630.0C659.0,632.0 658.4,634.2 658.4,634.2C658.4,634.2 658.4,630.9 656.7,632.6C655.1,634.2 655.9,635.1 653.4,639.2C650.9,643.4 649.2,645.1 649.2,645.1C649.2,645.1 648.1,645.1 645.9,640.9C643.7,636.7 644.8,638.7 642.6,632.6C640.3,626.4 641.4,628.7 639.2,622.5C637.0,616.4 638.4,617.8 635.9,614.2C633.4,610.6 634.5,615.0 631.7,611.7C628.9,608.4 630.3,609.5 627.5,604.2C624.8,598.9 626.4,601.4 623.4,595.8C620.3,590.3 621.4,591.9 618.4,587.5C615.3,583.0 616.7,583.6 614.2,582.5C611.7,581.4 613.1,581.4 610.8,584.2C608.6,586.9 610.3,584.2 607.5,590.8C604.7,597.5 605.8,595.8 602.5,604.2C599.2,612.5 600.8,609.2 597.5,615.9C594.2,622.5 595.8,618.9 592.5,624.2C589.2,629.5 590.8,627.5 587.5,631.7C584.1,635.9 582.5,636.7 582.5,636.7C582.5,636.7 580.3,635.6 575.8,635.1C571.4,634.5 573.6,635.9 569.1,635.1C564.7,634.2 566.9,633.9 562.5,632.6C558.0,631.2 559.7,632.0 555.8,630.9C551.9,629.8 554.1,632.0 550.8,629.2C547.4,626.4 549.7,625.9 545.8,622.5C541.9,619.2 543.5,621.4 539.1,619.2C534.6,617.0 536.9,618.1 532.4,615.9C528.0,613.6 529.6,615.9 525.7,612.5C521.9,609.2 524.1,609.7 520.7,605.9C517.4,602.0 519.6,603.1 515.7,600.8C511.8,598.6 513.5,601.4 509.1,599.2C504.6,597.0 506.0,597.5 502.4,594.2C498.8,590.8 500.7,589.7 498.2,589.2C495.7,588.6 497.1,585.8 494.9,592.5C492.7,599.2 493.8,599.2 491.5,609.2C489.3,619.2 490.7,615.9 488.2,622.5C485.7,629.2 487.1,626.7 484.0,629.2C481.0,631.7 479.0,630.0 479.0,630.0C479.0,630.0 477.4,626.2 474.9,622.5C472.3,618.9 471.5,619.2 471.5,619.2C471.5,619.2 469.8,624.8 465.7,625.9C461.5,627.0 462.6,625.6 459.0,622.5C455.4,619.5 456.9,623.1 455.0,616.7C453.1,610.3 454.1,618.9 453.3,603.3C452.6,587.8 452.7,592.2 452.7,570.0C452.7,547.8 453.6,570.0 453.3,536.7C453.1,503.3 452.4,507.4 451.8,470.0C451.2,432.6 451.5,450.8 451.5,424.4C451.5,398.1 451.4,413.3 451.8,391.0C452.2,368.6 452.5,379.8 452.7,357.5C452.8,335.1 452.6,346.3 452.2,324.0C451.7,301.6 452.0,310.0 451.3,290.5C450.6,270.9 451.0,282.1 450.1,265.4C449.3,248.6 449.9,254.2 448.8,240.2C447.7,226.3 448.3,230.5 446.8,223.5C445.3,216.5 446.2,218.2 444.3,219.3Z"/>
<path fill="#FFCBB3" d="M466.9,201.7C466.9,201.7 465.8,207.9 464.4,223.5C463.0,239.1 463.7,231.9 462.7,248.6C461.8,265.4 462.3,254.2 461.5,273.7C460.8,293.3 461.0,284.9 460.5,307.2C460.1,329.6 460.2,318.4 460.2,340.7C460.2,363.0 460.0,351.9 460.5,374.2C461.1,396.5 461.0,385.4 461.9,407.7C462.8,430.0 462.4,420.4 463.2,441.2C464.0,462.0 464.4,467.4 464.4,470.0C464.4,472.6 463.3,444.9 463.2,449.0C463.0,453.1 463.2,460.1 464.0,482.4C464.8,504.6 464.3,496.3 465.7,515.7C467.1,535.2 466.2,525.2 468.2,540.8C470.1,556.4 469.3,550.2 471.5,562.5C473.7,574.7 474.9,577.5 474.9,577.5C474.9,577.5 476.0,579.2 478.2,574.1C480.4,569.1 479.6,570.8 481.5,562.5C483.5,554.1 482.4,556.4 484.0,549.1C485.7,541.9 486.5,540.8 486.5,540.8C486.5,540.8 487.9,543.0 489.9,545.8C491.8,548.6 492.4,549.1 492.4,549.1C492.4,549.1 493.5,546.9 494.9,547.5C496.3,548.0 496.5,550.8 496.5,550.8C496.5,550.8 497.1,551.3 498.2,542.4C499.3,533.5 498.5,538.6 499.9,524.1C501.3,509.6 500.7,515.7 502.4,499.1C504.1,482.4 503.5,490.7 504.9,474.0C506.3,457.3 506.4,450.3 506.6,449.0C506.7,447.7 505.0,472.6 505.4,470.0C505.9,467.4 506.0,459.2 507.9,441.2C509.9,423.2 509.0,432.8 511.3,416.1C513.5,399.3 512.8,407.7 514.6,391.0C516.5,374.2 515.7,382.6 516.8,365.8C517.9,349.1 517.9,354.7 518.0,340.7C518.1,326.8 518.0,340.7 517.1,324.0C516.3,307.2 516.7,312.8 515.5,290.5C514.2,268.1 514.7,279.3 513.4,257.0C512.2,234.7 512.7,241.9 511.8,223.5C510.9,205.1 510.8,201.7 510.8,201.7L466.9,201.7Z"/>
<path fill="#FFE9D6" d="M575.8,690.1C575.8,690.1 576.9,689.0 580.8,682.6C584.7,676.2 583.6,678.2 587.5,670.9C591.4,663.7 589.7,666.2 592.5,660.9C595.3,655.6 595.8,655.1 595.8,655.1C595.8,655.1 598.1,656.5 602.5,655.9C607.0,655.4 604.7,656.5 609.2,653.4C613.6,650.4 612.0,650.1 615.9,646.7C619.7,643.4 617.5,644.0 620.9,643.4C624.2,642.8 622.8,643.1 625.9,645.1C628.9,647.0 627.5,644.5 630.0,649.2C632.5,654.0 631.7,651.2 633.4,659.3C635.0,667.3 635.0,673.4 635.0,673.4L600.8,673.4L600.8,690.1L575.8,690.1Z"/>
<path fill="#D6EAFF" d="M585.8,690.1C585.8,690.1 587.5,687.1 590.8,682.6C594.2,678.2 592.5,679.6 595.8,676.8C599.2,674.0 600.8,674.3 600.8,674.3L600.8,690.1L585.8,690.1Z"/>
<path fill="#FFE9D6" d="M437.8,690.1C437.8,690.1 438.9,687.2 441.1,684.3C443.4,681.3 442.3,681.3 444.5,681.3C446.7,681.3 445.9,681.3 447.8,684.3C449.8,687.2 450.3,690.1 450.3,690.1L437.8,690.1Z"/>
<path fill="#FFE9D6" d="M453.6,617.3C453.6,617.3 453.1,624.0 454.4,634.4C455.7,644.7 455.2,640.0 457.5,648.4C459.9,656.8 461.4,659.6 461.4,659.6C461.4,659.6 461.9,655.2 463.8,646.8C465.6,638.4 464.8,642.2 466.9,634.4C468.9,626.6 467.9,628.4 470.0,623.5C472.0,618.6 473.1,619.6 473.1,619.6C473.1,619.6 471.8,619.6 465.3,618.8C458.8,618.1 453.6,617.3 453.6,617.3Z"/>
<path fill="#FFE9D6" d="M455.2,689.1C455.2,689.1 456.0,685.0 457.5,679.5C459.1,673.9 459.9,672.5 459.9,672.5C459.9,672.5 461.4,675.6 465.3,679.5C469.2,683.4 471.5,684.1 471.5,684.1L477.0,679.5L480.9,689.1L455.2,689.1Z"/>
<path fill="#FFA680" d="M477.8,228.9C473.9,228.0 476.1,228.6 473.6,235.2C471.1,241.8 472.0,235.8 470.2,248.6C468.5,261.5 469.3,254.2 468.2,273.7C467.1,293.3 467.6,284.9 466.9,307.2C466.2,329.6 466.2,318.4 466.1,340.7C465.9,363.0 465.7,351.9 466.6,374.2C467.4,396.5 467.1,388.2 468.6,407.7C470.1,427.2 469.4,417.2 471.1,432.8C472.8,448.5 471.9,442.2 473.6,454.6C475.3,467.0 475.5,463.5 476.1,470.0C476.7,476.5 475.2,469.3 475.4,474.0C475.5,478.7 476.5,484.0 476.5,484.0C476.5,484.0 477.7,477.4 479.0,465.7C480.3,454.0 479.8,449.3 480.4,449.0C480.9,448.7 480.1,463.9 480.6,464.6C481.2,465.4 480.7,461.3 482.0,451.2C483.2,441.2 482.7,441.8 484.5,434.5C486.3,427.2 485.1,428.9 487.3,429.5C489.6,430.0 488.6,430.3 491.2,436.2C493.7,442.0 495.0,447.1 495.0,447.1C495.0,447.1 495.2,440.4 497.0,424.4C498.8,408.5 498.3,416.1 500.4,399.3C502.5,382.6 501.8,393.7 503.4,374.2C505.0,354.7 505.0,363.0 505.1,340.7C505.2,318.4 504.5,329.6 503.7,307.2C503.0,284.9 503.7,296.1 502.9,273.7C502.1,251.4 502.6,259.8 501.2,240.2C499.8,220.7 500.1,226.0 498.7,215.1C497.3,204.2 497.0,207.6 497.0,207.6C497.0,207.6 496.2,211.5 493.7,220.1C491.2,228.8 492.3,227.7 489.5,233.5C486.7,239.4 489.2,239.3 485.3,237.7C481.4,236.2 481.7,229.7 477.8,228.9Z"/>
<path fill="#FFA680" d="M443.4,297.2C443.4,297.2 442.6,298.9 441.4,310.6C440.3,322.3 440.7,316.7 440.1,332.3C439.5,348.0 439.8,340.7 439.8,357.5C439.8,374.2 439.4,368.1 440.1,382.6C440.8,397.1 441.0,392.6 441.8,401.0C442.6,409.4 442.6,399.9 442.4,407.7C442.3,415.5 442.2,410.5 441.4,424.4C440.7,438.4 440.7,434.4 440.1,449.6C439.5,464.8 440.5,447.9 439.8,470.0C439.0,492.1 439.0,478.2 437.8,515.7C436.6,553.2 437.5,546.3 436.1,582.5C434.7,618.6 436.1,608.4 433.6,624.2C431.1,640.1 432.5,627.8 428.6,630.0C424.7,632.3 427.0,631.4 422.0,630.9C416.9,630.3 419.2,628.9 413.6,628.4C408.1,627.8 410.8,628.7 405.3,629.2C399.7,629.8 401.4,630.3 396.9,630.0C392.5,629.8 395.8,630.3 391.9,628.4C388.0,626.4 389.7,625.9 385.2,624.2C380.8,622.5 382.5,625.6 378.6,623.4C374.7,621.2 376.9,622.3 373.6,617.5C370.2,612.8 371.9,614.8 368.6,609.2C365.2,603.6 366.6,605.3 363.6,600.8C360.5,596.4 362.4,598.1 359.4,595.8C356.3,593.6 358.0,593.9 354.4,594.2C350.8,594.5 351.9,595.0 348.5,596.7C345.2,598.3 346.9,596.1 344.4,599.2C341.9,602.2 343.3,600.8 341.0,605.9C338.8,610.9 340.2,609.2 337.7,614.2C335.2,619.2 336.6,617.5 333.5,620.9C330.5,624.2 331.8,622.0 328.5,624.2C325.2,626.4 326.8,624.8 323.5,627.5C320.2,630.3 321.3,628.7 318.5,632.6C315.7,636.4 317.7,635.6 315.2,639.2C312.7,642.8 311.0,643.4 311.0,643.4C311.0,643.4 310.2,640.6 307.7,635.9C305.1,631.2 303.5,629.2 303.5,629.2C303.5,629.2 302.4,628.7 300.1,632.6C297.9,636.4 299.0,635.3 296.8,640.9C294.6,646.5 295.7,644.2 293.5,649.2C291.2,654.2 292.6,652.0 290.1,655.9C287.6,659.8 288.7,657.6 286.0,660.9C283.2,664.3 284.6,663.1 281.8,665.9C279.0,668.7 280.4,667.0 277.6,669.3C274.8,671.5 276.5,672.0 273.4,672.6C270.4,673.2 271.2,671.8 268.4,670.9C265.7,670.1 267.0,667.9 265.1,670.1C263.2,672.3 264.4,674.0 262.6,677.6C260.8,681.2 259.8,680.9 259.8,680.9C259.8,680.9 258.6,678.2 256.8,672.6C254.9,667.0 255.9,669.5 254.3,664.3C252.6,659.0 251.8,656.7 251.8,656.7C251.8,656.7 250.8,655.9 249.2,660.1C247.7,664.3 247.9,663.4 247.1,669.3C246.2,675.1 246.0,672.6 246.7,677.6C247.5,682.6 247.0,680.1 249.2,684.3C251.5,688.5 253.4,690.1 253.4,690.1L424.5,690.1C424.5,690.1 424.5,690.1 427.0,685.9C429.5,681.8 428.6,682.6 432.0,677.6C435.3,672.6 433.6,675.9 437.0,670.9C440.3,665.9 438.6,669.8 442.0,662.6C445.3,655.4 444.2,659.3 447.0,649.2C449.8,639.2 448.9,649.2 450.3,632.6C451.7,615.9 451.0,627.0 451.2,599.2C451.3,571.4 451.2,582.5 450.7,549.1C450.1,515.7 450.9,525.4 449.5,499.1C448.1,472.7 447.6,486.5 446.5,470.0C445.3,453.5 446.4,464.8 446.0,449.6C445.5,434.4 445.6,438.4 445.1,424.4C444.6,410.5 443.9,418.9 444.4,407.7C445.0,396.5 445.6,402.1 446.8,391.0C448.0,379.8 447.6,388.2 448.0,374.2C448.4,360.3 448.2,365.8 448.0,349.1C447.7,332.3 448.0,337.9 447.1,324.0C446.3,310.0 446.7,316.2 445.5,307.2C444.2,298.3 443.4,297.2 443.4,297.2Z"/>
<path fill="#FFA680" d="M509.1,654.2C509.6,647.6 509.9,651.7 512.4,645.9C514.9,640.1 513.2,640.3 516.6,636.7C519.9,633.1 519.1,634.2 522.4,635.1C525.7,635.9 526.6,639.2 526.6,639.2C526.6,639.2 528.2,636.7 530.8,634.2C533.3,631.7 531.6,632.0 534.1,631.7C536.6,631.4 536.0,633.1 538.3,633.4C540.5,633.7 538.8,632.3 540.8,632.6C542.7,632.8 541.3,633.9 544.1,634.2C546.9,634.5 546.3,631.7 549.1,633.4C551.9,635.1 550.2,635.9 552.4,639.2C554.7,642.6 553.6,642.6 555.8,643.4C558.0,644.2 556.3,641.2 559.1,641.7C561.9,642.3 560.8,643.1 564.1,645.1C567.5,647.0 566.1,645.3 569.1,647.6C572.2,649.8 571.1,647.8 573.3,651.7C575.5,655.6 574.7,653.4 575.8,659.3C576.9,665.1 576.9,662.0 576.6,669.3C576.4,676.5 576.4,674.0 575.0,680.9C573.6,687.9 572.5,690.1 572.5,690.1L516.6,690.1C516.6,690.1 516.0,687.3 514.1,679.3C512.1,671.2 512.4,674.3 510.7,665.9C509.1,657.6 508.5,660.9 509.1,654.2Z"/>
<path fill="#FFA680" d="M504.1,650.9C504.1,650.9 506.3,651.7 506.6,655.9C506.8,660.1 504.9,663.4 504.9,663.4C504.9,663.4 503.0,660.1 502.7,655.9C502.4,651.7 504.1,650.9 504.1,650.9Z"/>
<path fill="#FFA680" d="M653.4,655.9C653.4,655.9 654.2,652.9 656.7,650.1C659.2,647.3 658.1,651.2 660.9,647.6C663.7,644.0 665.1,639.2 665.1,639.2C665.1,639.2 666.1,640.3 667.6,645.9C669.1,651.5 669.6,655.9 669.6,655.9L653.4,655.9Z"/>
<path fill="#FF7A45" d="M353.5,620.0C350.5,619.8 351.6,620.6 348.5,623.4C345.5,626.2 346.6,623.7 344.4,628.4C342.1,633.1 343.5,629.5 341.9,637.6C340.2,645.6 340.7,642.0 339.4,652.6C338.0,663.1 338.6,656.7 337.7,669.3C336.7,681.8 336.5,690.1 336.5,690.1L391.1,690.1C391.1,690.1 390.3,687.9 388.6,682.6C386.9,677.3 387.7,679.0 386.1,674.3C384.4,669.5 383.6,668.4 383.6,668.4C383.6,668.4 383.0,669.0 381.1,670.9C379.1,672.9 377.7,674.3 377.7,674.3C377.7,674.3 375.8,672.6 372.7,664.3C369.7,655.9 371.3,657.6 368.6,649.2C365.8,640.9 366.9,645.3 364.4,639.2C361.9,633.1 363.3,635.9 361.0,630.9C358.8,625.9 360.2,627.8 357.7,624.2C355.2,620.6 356.6,620.3 353.5,620.0Z"/>
<path fill="#FF7A45" d="M299.3,650.9C296.5,650.6 297.9,650.6 295.1,653.4C292.4,656.2 293.7,655.6 291.0,659.3C288.2,662.9 289.6,661.5 286.8,664.3C284.0,667.0 285.4,664.8 282.6,667.6C279.8,670.4 281.0,668.2 278.5,672.6C275.9,677.1 277.3,675.1 275.1,680.9C272.9,686.8 271.8,690.1 271.8,690.1L331.0,690.1C331.0,690.1 331.3,687.9 330.2,682.6C329.1,677.3 329.3,679.8 327.7,674.3C326.0,668.7 326.8,670.7 325.2,665.9C323.5,661.2 322.7,660.1 322.7,660.1C322.7,660.1 321.6,663.7 318.5,670.9C315.4,678.2 313.5,681.8 313.5,681.8C313.5,681.8 312.4,683.4 310.2,677.6C307.9,671.8 309.0,672.0 306.8,664.3C304.6,656.5 306.0,658.7 303.5,654.2C301.0,649.8 302.1,651.2 299.3,650.9Z"/>
<path fill="#FF7A45" d="M248.7,667.6C247.5,667.7 247.1,669.4 247.1,672.6C247.1,675.8 247.5,677.4 248.7,677.3C250.0,677.2 250.9,675.5 250.9,672.3C250.9,669.0 250.0,667.5 248.7,667.6Z"/>
<path fill="#FF7A45" d="M664.6,655.9L667.6,649.2L668.9,655.9L664.6,655.9Z"/>
<path fill="#FF7A45" d="M543.8,666.8L545.1,673.4L542.8,672.3L543.8,666.8Z"/>
<path fill="#FF7A45" d="M551.1,667.9C551.1,667.9 553.1,670.1 552.9,673.4C552.8,676.8 550.8,677.9 550.8,677.9C550.8,677.9 549.0,675.9 549.1,672.6C549.2,669.3 551.1,667.9 551.1,667.9Z"/>
<path fill="#FF511F" d="M351.5,660.1C351.5,660.1 350.6,660.1 349.4,665.9C348.1,671.8 348.5,669.5 347.7,677.6C346.9,685.7 346.9,690.1 346.9,690.1L356.9,690.1C356.9,690.1 357.1,686.8 356.5,679.3C356.0,671.8 356.2,672.6 355.2,667.6C354.2,662.6 354.8,666.8 353.5,664.3C352.3,661.8 351.5,660.1 351.5,660.1Z"/>
<path fill="#FF511F" d="M296.8,660.1C294.0,660.9 294.6,661.8 291.8,665.9C289.0,670.1 290.4,667.6 288.5,672.6C286.5,677.6 287.4,675.1 286.0,680.9C284.6,686.8 284.3,690.1 284.3,690.1L306.0,690.1C306.0,690.1 306.0,685.7 305.1,679.3C304.3,672.9 305.1,676.2 303.5,670.9C301.8,665.6 302.4,667.0 300.1,663.4C297.9,659.8 299.6,659.3 296.8,660.1Z"/>
<path fill="#FF511F" d="M318.5,678.4C316.0,679.0 316.3,678.4 314.3,680.9C312.4,683.4 312.9,682.9 312.7,685.9C312.4,689.0 313.5,690.1 313.5,690.1L325.2,690.1C325.2,690.1 325.5,686.2 324.3,682.6C323.2,679.0 323.8,680.7 321.8,679.3C319.9,677.9 321.0,677.9 318.5,678.4Z"/>
<path fill="#E33000" d="M296.8,663.9C296.8,663.9 292.6,666.5 292.6,672.6C292.6,678.7 296.8,682.1 296.8,682.1C296.8,682.1 301.0,679.5 301.0,673.4C301.0,667.4 296.8,663.9 296.8,663.9Z"/>
<path fill="#E33000" d="M316.8,684.3L314.8,690.1L319.5,690.1L316.8,684.3Z"/>
<path fill="#E33000" d="M277.6,682.6L275.1,690.1L280.1,690.1L277.6,682.6Z"/>
<path fill="#B82600" d="M296.8,667.6C296.8,667.6 294.5,669.0 294.5,672.6C294.5,676.2 296.8,678.4 296.8,678.4C296.8,678.4 299.1,676.5 299.1,672.9C299.1,669.3 296.8,667.6 296.8,667.6Z"/>
<path fill="#fff" d="M279.8,673.4L284.3,673.4L284.3,690.3L279.8,690.3L279.8,673.4Z"/>
<path fill="#fff" d="M600.7,690.0L600.7,673.3L636.3,673.3L636.3,655.7L685.7,655.7L687.3,637.3L688.3,603.3L690.7,603.3L690.7,515.7L692.7,515.7L692.7,480.7L698.3,480.7L698.3,446.7L703.3,446.7L703.3,690.0L600.7,690.0Z"/>
</g>
<g><text x="187.6" y="207.7" font-size="20.6" text-anchor="end" textLength="36.0" lengthAdjust="spacing" stroke-width="0.00">300</text>
<text x="187.6" y="277.7" font-size="20.6" text-anchor="end" textLength="36.0" lengthAdjust="spacing" stroke-width="0.00">400</text>
<text x="187.6" y="347.8" font-size="20.6" text-anchor="end" textLength="36.0" lengthAdjust="spacing" stroke-width="0.00">500</text>
<text x="187.6" y="487.8" font-size="20.6" text-anchor="end" textLength="36.0" lengthAdjust="spacing" stroke-width="0.00">700</text>
<text x="187.6" y="592.9" font-size="20.6" text-anchor="end" textLength="36.0" lengthAdjust="spacing" stroke-width="0.00">850</text>
<text x="187.6" y="697.9" font-size="20.6" text-anchor="end" textLength="46.2" lengthAdjust="spacing" stroke-width="0.00">1000</text>
<text x="727.3" y="247.3" font-size="20.6" textLength="11.4" lengthAdjust="spacingAndGlyphs" stroke-width="0.00">8</text>
<text x="727.3" y="429.7" font-size="20.6" textLength="11.4" lengthAdjust="spacingAndGlyphs" stroke-width="0.00">4</text>
<text x="212.8" y="730.9" font-size="20.6" text-anchor="middle" textLength="37.8" lengthAdjust="spacing" stroke-width="0.00">90N</text>
<text x="294.6" y="730.9" font-size="20.6" text-anchor="middle" textLength="37.8" lengthAdjust="spacing" stroke-width="0.00">60N</text>
<text x="376.4" y="730.9" font-size="20.6" text-anchor="middle" textLength="37.8" lengthAdjust="spacing" stroke-width="0.00">30N</text>
<text x="458.3" y="730.9" font-size="20.6" text-anchor="middle" textLength="11.4" lengthAdjust="spacingAndGlyphs" stroke-width="0.00">0</text>
<text x="540.1" y="730.9" font-size="20.6" text-anchor="middle" textLength="37.8" lengthAdjust="spacing" stroke-width="0.00">30S</text>
<text x="621.9" y="730.9" font-size="20.6" text-anchor="middle" textLength="37.8" lengthAdjust="spacing" stroke-width="0.00">60S</text>
<text x="703.8" y="730.9" font-size="20.6" text-anchor="middle" textLength="37.8" lengthAdjust="spacing" stroke-width="0.00">90S</text>
<text transform="translate(212.3,179.0) scale(1.08,1)" font-size="29.2" stroke-width="0.55"><tspan x="0.0" textLength="60.1" lengthAdjust="spacing">Total</tspan> <tspan x="75.2" textLength="99.4" lengthAdjust="spacing">diabatic</tspan> <tspan x="190.0" textLength="91.2" lengthAdjust="spacing">heating</tspan></text>
<text transform="translate(620.0,179.0) scale(1.08,1)" font-size="29.2" stroke-width="0.55"><tspan x="0.0" textLength="77.8" lengthAdjust="spacing">K/day</tspan></text>
<text transform="translate(121.3,444.6) rotate(-90)" font-size="32" stroke-width="1.0"><tspan x="-109.1" textLength="126" lengthAdjust="spacing">Pressure</tspan> <tspan x="36.0" textLength="73" lengthAdjust="spacing">(mb)</tspan></text>
<text transform="translate(778.3,446.4) rotate(-90)" font-size="30.5" stroke-width="0.9"><tspan x="-90.8" textLength="93.5" lengthAdjust="spacing">Height</tspan> <tspan x="20.4" textLength="72.2" lengthAdjust="spacing">(km)</tspan></text></g>
<g stroke="#000" fill="#000"><path d="M212.50,200.40v-14.4M212.50,690.60v14.4" stroke-width="2.85"/>
<path d="M239.78,200.40v-7.2M239.78,690.60v7.2" stroke-width="1.6"/>
<path d="M267.05,200.40v-7.2M267.05,690.60v7.2" stroke-width="1.6"/>
<path d="M294.32,200.40v-14.4M294.32,690.60v14.4" stroke-width="2.85"/>
<path d="M321.60,200.40v-7.2M321.60,690.60v7.2" stroke-width="1.6"/>
<path d="M348.88,200.40v-7.2M348.88,690.60v7.2" stroke-width="1.6"/>
<path d="M376.15,200.40v-14.4M376.15,690.60v14.4" stroke-width="2.85"/>
<path d="M403.43,200.40v-7.2M403.43,690.60v7.2" stroke-width="1.6"/>
<path d="M430.70,200.40v-7.2M430.70,690.60v7.2" stroke-width="1.6"/>
<path d="M457.98,200.40v-14.4M457.98,690.60v14.4" stroke-width="2.85"/>
<path d="M485.25,200.40v-7.2M485.25,690.60v7.2" stroke-width="1.6"/>
<path d="M512.53,200.40v-7.2M512.53,690.60v7.2" stroke-width="1.6"/>
<path d="M539.80,200.40v-14.4M539.80,690.60v14.4" stroke-width="2.85"/>
<path d="M567.08,200.40v-7.2M567.08,690.60v7.2" stroke-width="1.6"/>
<path d="M594.35,200.40v-7.2M594.35,690.60v7.2" stroke-width="1.6"/>
<path d="M621.62,200.40v-14.4M621.62,690.60v14.4" stroke-width="2.85"/>
<path d="M648.90,200.40v-7.2M648.90,690.60v7.2" stroke-width="1.6"/>
<path d="M676.18,200.40v-7.2M676.18,690.60v7.2" stroke-width="1.6"/>
<path d="M703.45,200.40v-14.4M703.45,690.60v14.4" stroke-width="2.85"/>
<path d="M212.50,200.40h-14.5" stroke-width="2.85"/>
<path d="M212.50,270.40h-14.5" stroke-width="2.85"/>
<path d="M212.50,340.50h-14.5" stroke-width="2.85"/>
<path d="M212.50,480.50h-14.5" stroke-width="2.85"/>
<path d="M212.50,585.60h-14.5" stroke-width="2.85"/>
<path d="M212.50,690.60h-14.5" stroke-width="2.85"/>
<path d="M703.45,240.00h14.5" stroke-width="2.85"/>
<path d="M703.45,422.40h14.5" stroke-width="2.85"/>
<rect x="212.50" y="200.40" width="490.95" height="490.20" fill="none" stroke-width="2.85"/></g>
</g>
<g transform="translate(379,782)">
<g clip-path="url(#fc)"><rect x="212.50" y="200.40" width="490.95" height="490.20" fill="#D6EAFF"/>
<path fill="#FFE9D6" d="M212.7,200.9L319.3,200.9C319.3,200.9 318.9,203.7 317.7,211.7C316.4,219.8 316.9,216.7 315.5,225.1C314.1,233.4 315.6,229.5 313.5,236.7C311.4,244.0 312.4,240.6 309.3,246.8C306.3,252.9 307.4,250.9 304.3,255.1C301.3,259.3 303.2,257.9 300.1,259.3C297.1,260.7 298.5,257.0 295.1,259.3C291.8,261.5 293.2,262.3 290.1,265.9C287.1,269.6 288.5,265.9 286.0,270.1C283.5,274.3 284.8,273.5 282.6,278.5C280.4,283.5 282.3,281.8 279.3,285.1C276.2,288.5 277.1,286.5 273.4,288.5C269.8,290.4 272.3,290.0 268.4,291.0C264.5,292.0 265.7,290.6 261.8,291.5C257.9,292.3 259.8,290.6 256.8,293.5C253.7,296.4 255.1,294.6 252.6,300.2C250.1,305.7 251.2,303.5 249.2,310.2C247.3,316.8 248.7,313.5 246.7,320.2C244.8,326.9 245.6,324.9 243.4,330.2C241.2,335.5 242.6,333.6 240.1,336.0C237.6,338.4 238.7,338.8 235.9,337.4C233.1,336.0 234.2,335.4 231.7,331.9C229.2,328.4 230.3,328.6 228.4,326.9C226.4,325.1 227.8,325.1 225.9,326.5C223.9,327.9 222.6,331.0 222.6,331.0C222.6,331.0 220.9,329.4 218.4,329.4C215.9,329.4 216.9,329.9 215.0,331.0C213.2,332.1 212.7,332.7 212.7,332.7L212.7,200.9Z"/>
<path fill="#FFE9D6" d="M371.9,270.1C371.9,270.1 370.5,271.8 367.7,278.5C364.9,285.1 366.1,281.8 363.6,290.1C361.0,298.5 362.2,293.5 360.2,303.5C358.3,313.5 359.4,309.1 357.7,320.2C356.0,331.3 356.6,325.7 355.2,336.9C353.8,348.0 354.5,340.8 353.5,353.6C352.5,366.3 352.5,361.3 352.2,375.2C351.9,389.2 352.0,383.0 352.7,395.3C353.4,407.5 353.0,400.8 354.4,412.0C355.8,423.1 355.2,418.1 356.9,428.6C358.5,439.2 358.5,433.5 359.4,443.7C360.2,453.8 358.5,450.0 359.4,459.0C360.2,468.0 359.9,462.9 361.9,470.7C363.8,478.5 363.0,476.8 365.2,482.4C367.4,487.9 366.3,487.4 368.6,487.4C370.8,487.4 370.2,486.8 371.9,482.4C373.6,477.9 372.5,479.6 373.6,474.0C374.7,468.5 374.1,471.2 375.2,465.7C376.3,460.1 374.7,462.9 376.9,457.3C379.1,451.8 379.7,455.8 381.9,449.0C384.1,442.2 382.5,445.4 383.6,437.0C384.7,428.5 384.4,433.6 385.2,423.6C386.1,413.6 386.2,419.2 386.1,406.9C386.0,394.7 385.6,401.9 384.9,386.9C384.2,371.9 384.4,375.8 383.9,361.9C383.5,348.0 383.4,354.1 383.6,345.2C383.7,336.3 383.6,340.8 384.4,335.2C385.2,329.6 386.1,328.5 386.1,328.5L387.2,333.5C387.2,333.5 388.1,330.2 389.4,323.5C390.7,316.8 390.0,319.3 391.1,313.5C392.2,307.7 392.8,310.4 392.8,306.0C392.8,301.5 392.2,304.3 391.1,300.2C390.0,296.0 390.6,297.8 389.4,293.5C388.2,289.2 387.4,287.3 387.4,287.3C387.4,287.3 386.1,290.6 384.4,295.1C382.7,299.7 382.2,301.0 382.2,301.0C382.2,301.0 381.2,299.3 379.4,293.5C377.6,287.6 378.6,289.6 376.9,283.5C375.2,277.4 376.1,279.6 374.4,275.1C372.7,270.7 371.9,270.1 371.9,270.1Z"/>
<path fill="#FFE9D6" d="M399.9,301.8C399.9,301.8 401.9,303.3 401.9,306.0C401.9,308.7 399.9,309.8 399.9,309.8C399.9,309.8 398.1,308.2 398.1,305.5C398.1,302.8 399.9,301.8 399.9,301.8Z"/>
<path fill="#FFE9D6" d="M436.2,219.3C436.2,219.3 437.0,224.6 433.7,228.5C430.3,232.4 430.6,228.2 426.1,231.0C421.7,233.8 423.6,228.2 420.3,236.9C416.9,245.5 418.6,241.9 416.1,257.0C413.6,272.1 414.3,265.4 412.7,282.1C411.2,298.9 411.9,287.7 411.4,307.2C410.8,326.8 410.9,321.2 411.0,340.7C411.2,360.3 411.0,349.1 411.9,365.8C412.7,382.6 411.9,374.2 413.6,391.0C415.2,407.7 414.4,400.4 416.9,416.1C419.4,431.7 418.3,423.9 421.1,437.8C423.9,451.8 423.3,447.2 425.3,457.9C427.2,468.7 427.0,461.9 427.0,470.0C427.0,478.1 426.3,472.7 425.3,482.4C424.3,492.1 424.2,485.2 424.0,499.1C423.7,513.0 424.0,510.2 424.5,524.1C424.9,538.0 425.3,530.2 425.3,540.8C425.3,551.3 425.3,546.3 424.5,555.8C423.6,565.2 424.2,561.4 422.8,569.1C421.4,576.9 422.2,573.9 420.3,579.2C418.3,584.4 419.5,580.5 416.9,585.0C414.4,589.4 415.8,589.2 412.8,592.5C409.7,595.8 410.8,593.6 407.8,595.0C404.7,596.4 406.1,597.0 403.6,596.7C401.1,596.4 402.5,597.8 400.3,594.2C398.0,590.6 399.2,591.9 396.9,585.8C394.7,579.7 395.8,579.2 393.6,575.8C391.4,572.5 393.0,578.0 390.3,575.8C387.5,573.6 388.6,573.0 385.2,569.1C381.9,565.2 383.6,568.0 380.2,564.1C376.9,560.2 378.6,561.9 375.2,557.5C371.9,553.0 373.6,554.7 370.2,550.8C366.9,546.9 368.0,549.1 365.2,545.8C362.4,542.4 364.4,543.0 361.9,540.8C359.4,538.6 360.5,541.6 357.7,539.1C354.9,536.6 356.6,535.2 353.5,533.3C350.5,531.3 351.6,532.7 348.5,533.3C345.5,533.8 347.1,534.1 344.4,534.9C341.6,535.8 343.0,533.5 340.2,535.8C337.4,538.0 336.0,541.6 336.0,541.6C336.0,541.6 333.5,541.1 331.0,537.4C328.5,533.8 329.9,535.2 328.5,530.8C327.1,526.3 328.0,527.7 326.8,524.1C325.7,520.5 326.6,521.0 325.2,519.9C323.8,518.8 324.3,519.4 322.7,520.8C321.0,522.1 322.1,521.9 320.2,524.1C318.2,526.3 319.3,526.6 316.8,527.4C314.3,528.3 315.4,526.0 312.7,526.6C309.9,527.1 311.3,527.7 308.5,529.1C305.7,530.5 307.1,528.5 304.3,530.8C301.5,533.0 302.6,530.8 300.1,535.8C297.6,540.8 299.0,538.0 296.8,545.8C294.6,553.6 295.4,551.3 293.5,559.1C291.5,566.9 291.0,569.1 291.0,569.1C291.0,569.1 290.7,567.2 289.3,567.5C287.9,567.8 288.5,567.2 286.8,570.0C285.1,572.8 286.0,570.5 284.3,575.8C282.6,581.1 283.7,578.0 281.8,585.8C279.8,593.6 280.4,592.8 278.5,599.2C276.5,605.6 275.9,605.0 275.9,605.0C275.9,605.0 275.4,605.0 274.3,599.2C273.2,593.3 274.0,595.3 272.6,587.5C271.2,579.7 271.5,583.0 270.1,575.8C268.7,568.6 269.8,572.5 268.4,565.8C267.0,559.1 267.6,561.9 265.9,555.8C264.3,549.7 264.8,551.3 263.4,547.5C262.0,543.6 262.9,544.7 261.8,544.1C260.7,543.6 261.5,541.9 260.1,545.8C258.7,549.7 259.0,549.1 257.6,555.8C256.2,562.5 257.3,556.9 255.9,565.8C254.5,574.7 255.1,571.4 253.4,582.5C251.8,593.6 252.5,591.7 250.9,599.2C249.4,606.7 248.7,605.0 248.7,605.0C248.7,605.0 248.2,605.6 247.6,599.2C246.9,592.8 247.5,593.6 246.7,585.8C246.0,578.0 245.4,575.8 245.4,575.8C245.4,575.8 244.9,576.4 243.4,582.5C241.9,588.6 242.3,585.8 240.9,594.2C239.5,602.5 240.3,599.2 239.2,607.5C238.1,615.9 239.0,612.5 237.6,619.2C236.2,625.9 236.7,623.7 235.1,627.5C233.4,631.4 234.2,627.3 232.6,630.9C230.9,634.5 231.7,636.2 230.1,638.4C228.4,640.6 229.5,637.3 227.6,637.6C225.6,637.8 226.7,636.4 224.2,639.2C221.7,642.0 222.8,641.5 220.0,645.9C217.3,650.4 218.3,649.2 215.9,652.6C213.4,655.9 212.7,655.9 212.7,655.9L212.7,690.1L453.7,690.1L453.7,476.5L445.8,476.5C445.8,476.5 445.0,473.8 444.0,465.7C443.0,457.6 443.3,460.5 442.8,452.3C442.3,444.2 442.2,450.5 442.5,441.2C442.8,431.9 443.9,432.8 443.7,424.4C443.5,416.1 443.0,424.4 442.0,416.1C441.1,407.7 441.4,413.3 440.9,399.3C440.3,385.4 440.7,393.7 440.4,374.2C440.0,354.7 440.1,363.0 439.9,340.7C439.6,318.4 439.7,329.6 439.5,307.2C439.3,284.9 439.4,296.1 439.2,273.7C439.0,251.4 439.2,255.9 438.8,240.2C438.5,224.6 439.1,233.8 438.2,226.8C437.3,219.9 436.2,219.3 436.2,219.3Z"/>
<path fill="#FFE9D6" d="M463.8,201.7C463.8,201.7 464.0,216.2 464.3,240.2C464.6,264.2 465.0,254.2 464.6,273.7C464.3,293.3 464.7,283.2 463.3,298.9C461.9,314.5 462.2,311.7 460.4,320.6C458.7,329.6 457.9,325.6 457.9,325.6L455.4,327.3C455.4,327.3 454.6,325.6 453.8,335.7C452.9,345.7 453.5,344.6 452.9,357.5C452.4,370.3 452.6,363.0 452.1,374.2C451.5,385.4 452.1,377.0 451.2,391.0C450.4,404.9 450.4,399.3 449.6,416.1C448.7,432.8 449.3,423.2 448.7,441.2C448.2,459.2 448.9,458.2 447.9,470.0C446.9,481.8 445.8,476.5 445.8,476.5L445.8,690.1L516.6,690.1C516.6,690.1 517.1,686.8 519.1,682.6C521.0,678.4 519.1,680.4 522.4,677.6C525.7,674.8 524.6,677.1 529.1,674.3C533.5,671.5 532.4,673.2 535.8,669.3C539.1,665.4 536.9,665.9 539.1,662.6C541.3,659.3 539.1,660.4 542.4,659.3C545.8,658.1 545.2,660.6 549.1,659.3C553.0,657.9 551.1,657.6 554.1,655.1C557.2,652.6 555.5,652.0 558.3,651.7C561.1,651.5 559.4,652.3 562.5,654.2C565.5,656.2 563.6,655.4 567.5,657.6C571.4,659.8 570.2,658.7 574.1,660.9C578.0,663.1 575.8,662.6 579.1,664.3C582.5,665.9 580.3,665.4 584.1,665.9C588.0,666.5 586.9,666.5 590.8,665.9C594.7,665.4 592.5,665.9 595.8,664.3C599.2,662.6 600.8,660.9 600.8,660.9C600.8,660.9 601.7,660.9 603.3,664.3C605.0,667.6 604.7,667.9 605.8,670.9C607.0,674.0 606.7,673.4 606.7,673.4L636.7,673.4L636.7,655.9L648.4,655.9C648.4,655.9 649.5,647.8 647.6,643.4C645.6,638.9 644.8,643.4 642.6,642.6C640.3,641.7 641.7,644.2 640.9,640.9C640.0,637.6 641.2,638.1 640.0,632.6C638.9,627.0 639.2,629.8 637.5,624.2C635.9,618.6 636.7,621.4 635.0,615.9C633.4,610.3 634.2,613.1 632.5,607.5C630.9,602.0 631.2,605.3 630.0,599.2C628.9,593.1 629.2,589.2 629.2,589.2L627.5,605.0C627.5,605.0 626.4,603.9 624.2,599.2C622.0,594.5 623.1,597.5 620.9,590.8C618.6,584.2 619.5,587.5 617.5,579.2C615.6,570.8 617.0,575.8 615.0,565.8C613.1,555.8 613.9,560.2 611.7,549.1C609.5,538.0 610.3,543.6 608.3,532.4C606.4,521.3 605.3,526.9 605.8,515.7C606.4,504.6 608.2,510.2 610.0,499.1C611.8,487.9 610.6,499.1 611.2,482.4C611.7,465.7 611.5,464.1 611.7,449.0C611.8,433.9 611.7,449.3 611.7,437.0C611.7,424.6 612.0,428.6 611.7,412.0C611.4,395.3 611.4,403.6 610.8,386.9C610.3,370.2 610.8,378.6 610.0,361.9C609.2,345.2 609.5,350.8 608.3,336.9C607.2,323.0 607.8,331.3 606.7,320.2C605.6,309.1 606.4,313.5 605.0,303.5C603.6,293.5 604.2,298.5 602.5,290.1C600.8,281.8 601.7,285.7 600.0,278.5C598.3,271.2 599.2,273.0 597.5,268.5C595.8,263.9 595.0,264.8 595.0,264.8C595.0,264.8 594.7,268.1 590.8,269.3C586.9,270.5 587.8,267.9 583.3,268.5C578.9,269.0 577.5,271.0 577.5,271.0C577.5,271.0 575.8,269.3 572.5,263.4C569.1,257.6 570.2,260.7 567.5,253.4C564.7,246.2 566.1,249.5 564.1,241.8C562.2,234.0 563.3,237.3 561.6,230.1C560.0,222.8 561.1,225.0 559.1,220.1C557.2,215.2 558.8,217.5 555.8,215.4C552.7,213.3 553.6,213.6 549.9,213.7C546.3,213.9 547.7,213.2 544.9,215.9C542.2,218.6 543.5,215.9 541.6,221.7C539.7,227.6 540.5,225.1 539.1,233.4C537.7,241.8 538.5,239.0 537.4,246.8C536.3,254.5 535.8,256.8 535.8,256.8L533.8,256.8C533.8,256.8 533.1,254.5 531.6,246.8C530.0,239.0 531.0,242.3 529.1,233.4C527.1,224.5 527.7,225.9 525.7,220.1C523.8,214.2 523.2,215.9 523.2,215.9C523.2,215.9 523.0,217.6 520.7,217.6C518.5,217.6 519.1,218.4 516.6,215.9C514.1,213.4 514.9,215.1 513.2,210.0C511.6,205.0 511.6,200.9 511.6,200.9L463.8,201.7Z"/>
<path fill="#FFE9D6" d="M659.2,200.9C659.2,200.9 658.7,205.3 657.9,216.7C657.1,228.1 656.3,225.1 656.7,235.1C657.2,245.1 657.6,238.4 659.2,246.8C660.9,255.1 659.8,250.1 661.7,260.1C663.7,270.1 663.1,266.2 665.1,276.8C667.0,287.4 665.9,281.2 667.6,291.8C669.3,302.4 668.4,298.5 670.1,308.5C671.8,318.5 670.6,313.5 672.6,321.8C674.5,330.2 674.1,327.3 675.9,333.5C677.7,339.8 677.9,340.5 677.9,340.5L680.1,338.5C680.1,338.5 680.7,340.2 681.8,346.9C682.9,353.6 682.3,349.1 683.4,358.6C684.5,368.0 684.3,363.0 685.1,375.2C685.9,387.5 685.5,383.0 685.9,395.3C686.3,407.5 685.6,403.1 686.3,412.0C686.9,420.9 687.9,422.0 687.9,422.0C687.9,422.0 688.8,419.2 690.1,415.3C691.4,411.4 691.8,410.3 691.8,410.3C691.8,410.3 692.3,412.2 693.4,417.0C694.6,421.7 695.1,424.5 695.1,424.5C695.1,424.5 695.9,425.0 697.6,423.6C699.3,422.2 700.1,420.3 700.1,420.3C700.1,420.3 700.8,420.7 701.8,430.3C702.7,439.9 703.0,449.0 703.0,449.0L703.0,200.9L659.2,200.9Z"/>
<path fill="#FFE9D6" d="M672.3,395.3C672.3,395.3 673.3,399.7 673.4,408.6C673.5,417.5 672.6,422.0 672.6,422.0C672.6,422.0 671.0,417.5 670.9,408.6C670.8,399.7 672.3,395.3 672.3,395.3Z"/>
<path fill="#FFE9D6" d="M654.6,577.4C654.8,595.4 654.0,585.8 654.9,595.4C655.8,604.9 655.6,603.1 657.3,606.1C658.9,609.1 658.2,602.5 659.9,604.3C661.7,606.1 661.1,610.3 662.6,611.5C664.1,612.7 662.9,605.5 664.4,607.9C665.9,610.3 665.3,610.9 667.1,618.7C668.9,626.5 668.0,622.9 669.8,631.3C671.6,639.6 671.0,635.3 672.5,643.8C674.0,652.3 674.3,656.7 674.3,656.7L686.0,656.7L686.9,639.3L688.7,638.4C688.7,638.4 688.8,630.7 688.7,604.3C688.5,578.0 688.3,586.4 688.3,559.5C688.3,532.6 687.9,543.9 688.7,523.6C689.4,503.3 689.0,512.2 690.4,498.5C691.9,484.7 691.3,493.1 693.1,482.3C694.9,471.6 694.3,476.3 695.8,466.2C697.3,456.0 697.6,451.8 697.6,451.8L701.6,446.4L701.6,397.1L685.1,397.1C685.1,397.1 685.1,404.3 686.0,412.4C686.9,420.4 687.8,421.3 687.8,421.3C687.8,421.3 688.4,420.1 689.6,415.9C690.7,411.8 691.3,408.8 691.3,408.8C691.3,408.8 691.9,410.6 693.1,415.9C694.3,421.3 694.9,424.9 694.9,424.9C694.9,424.9 696.1,417.7 697.6,419.5C699.1,421.3 698.7,422.5 699.4,430.3C700.1,438.1 700.7,436.3 699.8,442.9C698.9,449.4 698.9,445.2 696.7,450.0C694.5,454.8 695.2,450.6 693.1,457.2C691.0,463.8 692.2,460.8 690.4,469.8C688.7,478.7 689.6,475.8 687.8,484.1C686.0,492.5 686.9,486.5 685.1,494.9C683.3,503.3 683.9,498.5 682.4,509.2C680.9,520.0 681.0,513.4 680.6,527.2C680.2,540.9 681.1,536.8 681.1,550.5C681.1,564.3 681.7,558.3 680.6,568.5C679.5,578.6 679.7,573.2 677.9,581.0C676.1,588.8 677.3,587.0 675.2,591.8C673.1,596.6 671.6,595.4 671.6,595.4C671.6,595.4 670.2,598.4 669.3,586.4C668.4,574.4 669.2,580.4 668.9,559.5C668.7,538.6 668.9,547.5 668.6,523.6C668.3,499.7 668.5,505.7 668.0,487.7C667.5,469.8 667.7,484.7 667.1,469.8C666.5,454.8 666.8,460.8 666.2,442.9C665.6,424.9 665.9,429.1 665.3,415.9C664.7,402.8 664.4,403.4 664.4,403.4C664.4,403.4 664.0,402.8 663.5,415.9C663.1,429.1 663.2,442.9 663.2,442.9C663.2,442.9 663.1,448.2 661.7,450.0C660.4,451.8 660.5,449.4 659.1,448.2C657.6,447.0 658.8,445.2 657.3,446.4C655.8,447.6 655.8,444.1 654.6,451.8C653.4,459.6 654.0,451.8 653.7,469.8C653.4,487.7 653.5,481.7 653.7,505.7C653.8,529.6 653.9,517.6 654.2,541.5C654.5,565.5 654.3,559.5 654.6,577.4Z"/>
<path fill="#FFE9D6" d="M670.7,397.1L673.6,397.1C673.6,397.1 673.4,404.3 672.9,412.4C672.3,420.4 672.0,421.3 672.0,421.3L670.7,397.1Z"/>
<path fill="#D6EAFF" d="M482.2,298.0C482.2,298.0 480.8,301.4 479.7,315.6C478.6,329.8 479.4,321.2 478.9,340.7C478.3,360.3 478.6,351.9 478.0,374.2C477.5,396.5 477.8,385.4 477.2,407.7C476.6,430.0 476.9,420.4 476.4,441.2C475.8,462.0 476.3,445.1 475.5,470.0C474.7,494.9 474.6,489.4 474.0,515.7C473.4,542.1 474.1,526.9 473.7,549.1C473.2,571.4 472.8,564.1 472.7,582.5C472.5,600.8 472.2,594.5 473.2,604.2C474.2,613.9 473.5,610.0 475.7,611.7C477.9,613.4 476.8,608.9 479.9,609.2C482.9,609.5 481.8,610.3 484.9,612.5C487.9,614.8 486.5,612.5 489.0,615.9C491.5,619.2 490.1,619.5 492.4,622.5C494.6,625.6 495.7,625.0 495.7,625.0C495.7,625.0 496.3,625.6 498.2,622.5C500.2,619.5 499.0,620.3 501.6,615.9C504.1,611.4 502.7,613.6 505.7,609.2C508.8,604.7 507.7,607.0 510.7,602.5C513.8,598.1 512.7,600.8 514.9,595.8C517.1,590.8 516.0,592.8 517.4,587.5C518.8,582.2 519.1,580.0 519.1,580.0L520.7,580.8C520.7,580.8 521.0,585.0 523.2,587.5C525.5,590.0 524.6,587.8 527.4,588.3C530.2,588.9 528.8,587.8 531.6,589.2C534.4,590.6 533.0,589.7 535.8,592.5C538.5,595.3 537.1,593.6 539.9,597.5C542.7,601.4 541.6,600.6 544.1,604.2C546.6,607.8 544.7,606.7 547.4,608.4C550.2,610.0 549.4,609.7 552.4,609.2C555.5,608.6 553.8,608.9 556.6,606.7C559.4,604.5 557.7,605.9 560.8,602.5C563.8,599.2 562.7,600.6 565.8,596.7C568.9,592.8 567.2,595.6 570.0,590.8C572.7,586.1 571.6,588.1 574.1,582.5C576.6,576.9 575.2,580.8 577.5,574.1C579.7,567.5 578.9,570.8 580.8,562.5C582.8,554.1 582.3,559.1 583.3,549.1C584.3,539.1 583.5,543.6 583.8,532.4C584.1,521.3 584.9,526.9 584.1,515.7C583.4,504.6 583.6,506.3 581.6,499.1C579.7,491.8 580.8,499.6 578.3,494.1C575.8,488.5 576.6,490.7 574.1,482.4C571.6,474.0 572.7,476.0 570.8,469.0C568.9,462.1 568.3,461.5 568.3,461.5C568.3,461.5 567.5,461.5 565.8,465.7C564.1,469.9 565.0,468.5 563.3,474.0C561.6,479.6 562.7,478.2 560.8,482.4C558.8,486.5 559.7,486.3 557.5,486.5C555.2,486.8 556.3,486.8 554.1,483.2C551.9,479.6 553.0,482.7 550.8,475.7C548.6,468.7 549.4,471.2 547.4,462.3C545.5,453.4 546.0,457.5 544.9,449.0C543.8,440.5 544.9,446.6 544.1,437.0C543.3,427.4 543.5,434.2 542.4,420.3C541.3,406.4 541.9,412.0 540.8,395.3C539.7,378.6 540.2,386.9 539.1,370.2C538.0,353.6 538.5,359.1 537.4,345.2C536.3,331.3 537.0,337.7 535.8,328.5C534.5,319.3 533.8,317.7 533.8,317.7C533.8,317.7 532.9,319.3 531.6,328.5C530.3,337.7 530.8,331.3 529.9,345.2C529.1,359.1 529.4,353.6 529.1,370.2C528.8,386.9 529.4,381.4 529.1,395.3C528.8,409.2 529.4,402.5 528.2,412.0C527.1,421.4 527.4,416.4 525.7,423.6C524.1,430.9 524.6,427.0 523.2,433.6C521.9,440.3 522.4,438.5 521.6,443.7C520.7,448.8 521.3,445.0 520.7,449.0C520.2,453.0 521.0,451.8 519.9,455.7C518.8,459.6 517.4,460.7 517.4,460.7L514.1,459.8L510.7,463.2C510.7,463.2 508.2,460.4 505.7,455.7C503.2,450.9 504.9,454.1 503.2,449.0C501.6,443.9 502.1,446.0 500.7,440.3C499.3,434.6 500.4,437.0 499.0,432.0C497.7,427.0 498.2,429.3 496.5,425.3C494.9,421.3 494.0,420.0 494.0,420.0L489.0,420.3C489.0,420.3 487.5,423.1 486.5,412.0C485.5,400.8 486.3,403.6 486.0,386.9C485.8,370.2 485.9,378.6 485.7,361.9C485.5,345.2 485.9,353.6 485.4,336.9C484.8,320.2 485.1,324.8 484.0,311.8C483.0,298.9 482.2,298.0 482.2,298.0Z"/>
<path fill="#D6EAFF" d="M446.2,690.3C446.2,690.3 445.0,688.0 445.3,682.6C445.6,677.3 444.8,679.3 447.0,674.3C449.2,669.3 448.0,671.5 452.0,667.6C456.0,663.7 455.6,663.7 459.0,662.6C462.4,661.5 460.4,662.6 462.3,664.3C464.3,665.9 464.8,667.6 464.8,667.6L467.3,664.3C467.3,664.3 469.0,663.1 470.7,665.9C472.3,668.7 471.9,667.0 472.3,672.6C472.8,678.2 472.3,676.7 472.0,682.6C471.7,688.5 471.5,690.3 471.5,690.3L446.2,690.3Z"/>
<path fill="#D6EAFF" d="M431.1,690.3C431.1,690.3 430.0,686.3 430.3,679.3C430.6,672.3 430.3,674.3 432.0,669.3C433.6,664.3 433.2,664.8 435.3,664.3C437.4,663.7 437.2,663.7 438.3,667.6C439.4,671.5 438.8,670.9 438.6,675.9C438.5,680.9 438.4,677.8 437.8,682.6C437.3,687.4 437.0,690.3 437.0,690.3L431.1,690.3Z"/>
<path fill="#D6EAFF" d="M330.2,690.3C330.2,690.3 329.6,688.5 328.5,682.6C327.4,676.7 328.0,678.7 326.8,672.6C325.7,666.5 326.3,668.7 325.2,664.3C324.1,659.8 323.5,659.3 323.5,659.3C323.5,659.3 322.7,659.8 321.0,662.6C319.3,665.4 320.2,663.7 318.5,667.6C316.8,671.5 317.7,669.3 316.0,674.3C314.3,679.3 314.9,677.3 313.5,682.6C312.1,688.0 311.8,690.3 311.8,690.3L330.2,690.3Z"/>
<path fill="#D6EAFF" d="M695.6,383.6C695.6,383.6 696.1,385.8 697.3,393.6C698.5,401.4 699.1,401.4 699.3,406.9C699.5,412.5 698.0,410.3 698.0,410.3C698.0,410.3 697.1,409.2 696.3,400.3C695.5,391.4 695.6,383.6 695.6,383.6Z"/>
<path fill="#D6EAFF" d="M441.7,502.2L444.3,502.5C444.3,502.5 444.6,502.3 445.1,517.8C445.6,533.2 445.4,528.1 445.9,548.9C446.4,569.6 445.6,559.2 446.7,580.0C447.7,600.7 447.7,592.9 449.0,611.1C450.3,629.2 449.8,619.9 450.5,634.4C451.3,648.9 450.3,645.2 451.3,654.6C452.4,664.0 452.9,656.5 453.6,662.7C454.4,668.9 453.6,673.3 453.6,673.3L438.9,673.3C438.9,673.3 438.9,662.9 438.9,642.2C438.9,621.4 438.6,637.0 438.9,611.1C439.1,585.1 439.1,590.3 439.7,564.4C440.2,538.5 439.9,551.4 440.4,533.3C440.9,515.2 440.8,520.3 441.2,510.0C441.6,499.6 441.7,502.2 441.7,502.2Z"/>
<path fill="#B3CCFB" d="M351.0,200.9C351.0,200.9 350.5,204.2 348.5,211.7C346.6,219.2 347.4,216.2 345.2,223.4C343.0,230.6 343.5,226.2 341.9,233.4C340.2,240.6 341.3,236.7 340.2,245.1C339.1,253.4 339.4,249.0 338.5,258.4C337.7,267.9 337.7,264.0 337.7,273.5C337.7,282.9 338.0,278.5 338.5,286.8C339.1,295.1 338.5,291.5 339.4,298.5C340.2,305.4 339.6,304.0 341.0,307.7C342.4,311.3 343.5,309.3 343.5,309.3C343.5,309.3 344.4,307.1 346.0,301.8C347.7,296.5 346.6,299.6 348.5,293.5C350.5,287.4 349.6,291.3 351.9,283.5C354.1,275.7 352.7,279.0 355.2,270.1C357.7,261.2 356.9,265.1 359.4,256.8C361.9,248.4 360.8,252.9 362.7,245.1C364.7,237.3 363.9,241.8 365.2,233.4C366.5,225.1 365.4,226.5 366.6,220.1C367.7,213.7 368.6,214.2 368.6,214.2C368.6,214.2 369.4,215.3 371.1,220.1C372.7,224.8 372.1,223.7 373.6,228.4C375.1,233.1 373.9,232.0 375.6,234.2C377.2,236.5 376.7,236.5 378.6,235.1C380.4,233.7 379.1,234.0 381.1,230.1C383.0,226.2 381.9,228.4 384.4,223.4C386.9,218.4 386.1,220.3 388.6,215.1C391.1,209.8 389.7,210.9 391.9,207.5C394.1,204.2 393.0,204.8 395.3,205.0C397.5,205.3 396.4,205.3 398.6,208.4C400.8,211.4 399.7,210.6 401.9,214.2C404.2,217.8 402.8,217.6 405.3,219.2C407.8,220.9 405.5,220.1 409.4,219.2C413.3,218.4 411.7,218.1 416.9,216.7C422.2,215.3 420.8,216.4 425.3,215.1C429.7,213.7 427.8,215.3 430.3,212.6C432.8,209.8 431.6,210.6 432.8,206.7C434.0,202.8 434.0,200.9 434.0,200.9L351.0,200.9Z"/>
<path fill="#B3CCFB" d="M212.7,403.6C212.7,403.6 214.0,406.4 215.9,413.6C217.8,420.9 216.2,420.6 218.4,425.3C220.6,430.0 222.6,427.8 222.6,427.8C222.6,427.8 223.9,425.6 225.9,420.3C227.8,415.0 227.0,415.8 228.4,412.0C229.8,408.1 230.1,408.6 230.1,408.6C230.1,408.6 230.9,410.3 232.6,415.3C234.2,420.3 233.2,419.3 235.1,423.6C236.9,428.0 238.1,428.3 238.1,428.3C238.1,428.3 239.3,428.5 241.4,423.6C243.5,418.7 242.5,422.0 244.2,413.6C246.0,405.3 244.8,408.6 246.7,398.6C248.7,388.6 247.9,392.5 250.1,383.6C252.3,374.7 251.2,379.1 253.4,371.9C255.6,364.7 254.5,368.6 256.8,361.9C259.0,355.2 257.9,356.9 260.1,351.9C262.3,346.9 260.7,349.4 263.4,346.9C266.2,344.4 265.4,346.0 268.4,344.4C271.5,342.7 270.4,343.5 272.6,341.9C274.8,340.2 273.2,340.0 275.1,339.4C277.1,338.7 276.2,341.8 278.5,339.9C280.7,337.9 279.8,337.9 281.8,333.5C283.7,329.2 282.6,331.3 284.3,326.9C286.0,322.4 284.8,324.9 286.8,320.2C288.7,315.5 287.9,316.8 290.1,312.7C292.4,308.5 291.2,309.5 293.5,307.7C295.7,305.8 294.6,307.4 296.8,307.2C299.0,306.9 297.6,306.1 300.1,306.8C302.6,307.6 301.8,307.9 304.3,309.3C306.8,310.7 307.7,311.0 307.7,311.0C307.7,311.0 308.5,309.1 311.0,305.2C313.5,301.3 312.7,302.7 315.2,299.3C317.7,296.0 316.6,296.8 318.5,295.1C320.4,293.5 318.8,293.5 321.0,294.3C323.2,295.1 325.2,297.7 325.2,297.7C325.2,297.7 326.6,297.4 328.5,296.0C330.5,294.6 329.3,294.9 331.0,293.5C332.7,292.1 333.5,291.8 333.5,291.8C333.5,291.8 334.9,295.7 336.0,300.2C337.1,304.6 337.1,300.7 336.9,305.2C336.6,309.6 336.3,307.4 335.2,313.5C334.1,319.6 334.2,317.1 333.5,323.5C332.8,329.9 333.2,332.7 333.2,332.7L331.0,328.5C331.0,328.5 330.5,326.9 329.3,335.2C328.2,343.5 328.5,339.1 327.7,353.6C326.8,368.0 327.4,361.9 326.8,378.6C326.3,395.3 326.6,386.9 326.0,403.6C325.5,420.3 325.7,413.5 325.2,428.6C324.6,443.8 324.9,436.7 324.3,449.0C323.8,461.3 324.3,454.6 323.5,465.7C322.7,476.8 323.5,473.5 321.8,482.4C320.2,491.3 318.5,492.4 318.5,492.4L316.0,490.7C316.0,490.7 315.2,492.4 313.5,497.4C311.8,502.4 312.9,500.7 311.0,505.7C309.0,510.7 309.9,508.5 307.7,512.4C305.4,516.3 306.8,514.1 304.3,517.4C301.8,520.8 302.6,518.5 300.1,522.4C297.6,526.3 299.0,525.8 296.8,529.1C294.6,532.4 295.7,529.7 293.5,532.4C291.2,535.2 290.1,537.4 290.1,537.4C290.1,537.4 288.7,534.7 286.8,534.1C284.8,533.5 286.0,531.9 284.3,535.8C282.6,539.7 283.5,539.1 281.8,545.8C280.1,552.5 280.7,551.9 279.3,555.8C277.9,559.7 277.6,557.5 277.6,557.5C277.6,557.5 276.8,554.1 275.1,549.1C273.4,544.1 274.6,546.9 272.6,542.4C270.7,538.0 271.2,539.7 269.3,535.8C267.3,531.9 268.4,535.8 266.8,530.8C265.1,525.8 264.3,520.8 264.3,520.8C264.3,520.8 263.4,520.8 261.8,524.1C260.1,527.4 260.7,525.8 259.3,530.8C257.9,535.8 258.7,533.0 257.6,539.1C256.5,545.2 257.0,543.0 255.9,549.1C254.8,555.2 255.1,553.0 254.3,557.5C253.4,561.9 253.4,562.5 253.4,562.5C253.4,562.5 252.9,563.0 251.8,557.5C250.6,551.9 251.1,553.0 250.1,545.8C249.1,538.6 249.9,539.9 248.7,535.8C247.6,531.6 246.7,533.3 246.7,533.3C246.7,533.3 246.2,533.8 245.1,539.1C244.0,544.4 244.5,542.4 243.4,549.1C242.3,555.8 242.9,552.5 241.7,559.1C240.6,565.8 240.1,569.1 240.1,569.1L238.4,555.8C238.4,555.8 238.4,554.1 237.6,557.5C236.7,560.8 237.0,558.6 235.9,565.8C234.8,573.0 235.6,571.9 234.2,579.2C232.8,586.4 233.7,583.3 231.7,587.5C229.8,591.7 228.4,591.7 228.4,591.7L225.9,585.0C225.9,585.0 225.3,582.8 224.2,585.8C223.1,588.9 223.7,586.9 222.6,594.2C221.4,601.4 221.7,600.3 220.9,607.5C220.0,614.8 220.8,608.6 220.0,615.9C219.3,623.1 219.8,622.5 218.7,629.2C217.6,635.9 218.2,632.6 216.7,635.9C215.2,639.2 215.5,637.6 214.2,639.2C212.9,640.9 212.7,640.9 212.7,640.9L212.7,403.6Z"/>
<path fill="#B3CCFB" d="M333.2,429.5C333.2,429.5 334.1,433.8 334.4,440.3C334.6,446.8 334.1,435.5 333.9,449.0C333.6,462.5 333.5,480.7 333.5,480.7C333.5,480.7 333.2,476.3 332.7,465.7C332.1,455.1 332.0,458.6 331.8,449.0C331.7,439.4 331.7,443.5 332.2,437.0C332.6,430.5 333.2,429.5 333.2,429.5Z"/>
<path fill="#B3CCFB" d="M439.9,201.7C439.9,201.7 439.9,216.2 439.9,273.7C439.9,331.2 439.4,332.3 439.9,374.2C440.3,416.1 439.7,385.7 441.2,399.3C442.6,413.0 444.2,415.2 444.2,415.2C444.2,415.2 445.0,415.2 446.2,404.4C447.4,393.5 446.8,398.2 447.9,382.6C449.0,367.0 448.7,377.0 449.6,357.5C450.4,337.9 450.0,346.3 450.4,324.0C450.8,301.6 450.3,308.9 450.9,290.5C451.5,272.1 451.0,279.9 452.1,268.7C453.2,257.5 454.3,257.0 454.3,257.0C454.3,257.0 454.8,259.8 456.3,262.0C457.8,264.2 458.8,263.7 458.8,263.7C458.8,263.7 459.7,260.9 460.4,240.2C461.2,219.6 461.0,201.7 461.0,201.7L439.9,201.7Z"/>
<path fill="#80A6FF" d="M443.5,300.5C443.5,300.5 444.7,306.1 444.9,320.6C445.1,335.1 444.2,344.1 444.2,344.1C444.2,344.1 443.4,335.1 443.2,320.6C443.0,306.1 443.5,300.5 443.5,300.5Z"/>
<path fill="#B3CCFB" d="M395.3,449.8C391.6,452.5 394.3,449.8 392.8,455.7C391.2,461.5 392.3,459.6 390.6,467.4C388.9,475.1 387.7,479.0 387.7,479.0C387.7,479.0 386.1,477.4 383.6,480.7C381.1,484.0 382.5,482.9 380.2,489.0C378.0,495.2 378.8,492.9 376.9,499.1C375.0,505.2 376.0,501.8 374.4,507.4C372.8,513.0 372.2,509.1 372.2,515.7C372.2,522.4 372.8,519.6 374.4,527.4C376.0,535.2 375.2,532.4 376.9,539.1C378.6,545.8 377.5,542.7 379.4,547.5C381.4,552.2 379.7,550.0 382.7,553.3C385.8,556.6 385.0,555.0 388.6,557.5C392.2,560.0 390.8,557.5 393.6,560.8C396.4,564.1 394.4,563.0 396.9,567.5C399.4,571.9 398.3,571.1 401.1,574.1C403.9,577.2 401.9,576.9 405.3,576.7C408.6,576.4 408.3,576.9 411.1,573.3C413.9,569.7 411.7,571.6 413.6,565.8C415.6,560.0 414.7,564.7 416.9,555.8C419.2,546.9 418.5,549.7 420.3,539.1C422.1,528.5 421.5,533.0 422.3,524.1C423.1,515.2 423.2,520.8 422.8,512.4C422.4,504.1 422.5,509.1 421.1,499.1C419.7,489.0 420.6,493.5 418.6,482.4C416.7,471.2 417.5,475.1 415.3,465.7C413.1,456.2 415.8,460.0 411.9,454.0C408.1,448.0 409.2,449.1 403.6,447.7C398.0,446.3 398.9,447.2 395.3,449.8Z"/>
<path fill="#B3CCFB" d="M344.4,462.3C344.4,462.3 346.5,464.6 346.9,474.0C347.3,483.5 345.5,490.7 345.5,490.7C345.5,490.7 342.2,488.5 341.9,479.0C341.5,469.6 344.4,462.3 344.4,462.3Z"/>
<path fill="#B3CCFB" d="M351.9,465.7C351.9,465.7 353.9,470.1 353.9,479.0C353.9,487.9 351.9,492.4 351.9,492.4C351.9,492.4 349.9,487.9 349.9,479.0C349.9,470.1 351.9,465.7 351.9,465.7Z"/>
<path fill="#B3CCFB" d="M494.9,444.0C493.2,442.3 493.8,445.1 491.5,449.0C489.3,452.9 490.1,452.3 488.2,455.7C486.3,459.0 485.7,459.0 485.7,459.0C485.7,459.0 485.0,454.3 483.2,452.3C481.4,450.4 481.7,448.7 480.4,453.2C479.0,457.6 479.7,453.2 479.0,465.7C478.3,478.2 478.9,474.0 478.2,490.7C477.5,507.4 478.1,499.1 477.0,515.7C475.9,532.4 475.9,524.1 474.9,540.8C473.9,557.5 474.2,549.1 474.0,565.8C473.9,582.5 473.2,581.4 474.4,590.8C475.5,600.3 474.7,593.6 477.4,594.2C480.0,594.7 479.6,591.9 482.4,592.5C485.1,593.1 483.5,591.9 485.7,595.8C487.9,599.7 486.8,599.2 489.0,604.2C491.3,609.2 489.9,609.7 492.4,610.9C494.9,612.0 493.8,611.4 496.5,607.5C499.3,603.6 497.9,604.7 500.7,599.2C503.5,593.6 502.4,596.4 504.9,590.8C507.4,585.3 506.9,590.8 508.2,582.5C509.5,574.1 508.7,576.9 508.7,565.8C508.7,554.7 508.9,560.2 508.2,549.1C507.5,538.0 507.7,543.6 506.6,532.4C505.4,521.3 506.2,526.9 504.9,515.7C503.6,504.6 504.1,510.2 502.7,499.1C501.3,487.9 501.9,493.5 500.7,482.4C499.5,471.2 500.4,475.1 499.0,465.7C497.7,456.2 497.9,461.2 496.5,454.0C495.2,446.8 496.5,445.7 494.9,444.0Z"/>
<path fill="#B3CCFB" d="M534.1,458.2C534.1,458.2 533.3,458.7 531.6,465.7C529.9,472.6 531.0,470.7 529.1,479.0C527.1,487.4 527.1,481.3 525.7,490.7C524.4,500.2 525.5,496.3 524.9,507.4C524.4,518.5 524.4,513.0 524.1,524.1C523.8,535.2 523.5,530.8 524.1,540.8C524.6,550.8 523.5,546.3 525.7,554.1C528.0,561.9 527.1,558.0 530.8,564.1C534.4,570.3 533.3,566.9 536.6,572.5C539.9,578.0 538.3,574.7 540.8,580.8C543.3,586.9 541.9,585.6 544.1,590.8C546.3,596.1 544.7,593.9 547.4,596.7C550.2,599.5 549.1,599.2 552.4,599.2C555.8,599.2 553.8,599.2 557.5,596.7C561.1,594.2 559.7,595.3 563.3,591.7C566.9,588.1 565.7,590.6 568.3,585.8C570.9,581.1 569.2,584.2 571.1,577.5C573.1,570.8 572.0,573.6 574.1,565.8C576.3,558.0 575.9,560.8 577.5,554.1C579.0,547.5 578.5,553.0 578.8,545.8C579.1,538.6 578.6,542.4 578.3,532.4C578.0,522.4 578.9,524.6 577.8,515.7C576.7,506.8 577.3,512.1 575.0,505.7C572.6,499.3 573.0,499.9 570.8,496.6C568.6,493.2 570.2,494.3 568.3,495.7C566.4,497.1 567.7,496.3 565.0,500.7C562.2,505.2 563.0,504.9 560.0,509.1C556.9,513.2 558.6,513.0 555.8,513.2C553.0,513.5 554.4,513.0 551.6,509.9C548.8,506.8 550.2,507.7 547.4,504.1C544.7,500.5 545.5,503.5 543.3,499.1C541.0,494.6 542.4,499.1 540.8,490.7C539.1,482.4 539.7,482.9 538.3,474.0C536.9,465.1 538.0,469.3 536.6,464.0C535.2,458.7 534.1,458.2 534.1,458.2Z"/>
<path fill="#B3CCFB" d="M617.5,240.9C617.5,240.9 615.7,241.5 614.2,246.8C612.6,252.0 613.3,249.0 612.9,256.8C612.4,264.6 612.5,260.1 612.9,270.1C613.2,280.1 613.1,275.7 613.9,286.8C614.6,297.9 614.1,292.4 615.0,303.5C616.0,314.6 615.3,310.7 616.7,320.2C618.1,329.6 617.8,325.2 619.2,331.9C620.6,338.5 620.0,333.0 620.9,340.2C621.7,347.4 621.1,343.5 621.7,353.6C622.3,363.6 622.0,359.1 622.5,370.2C623.1,381.4 622.9,373.0 623.4,386.9C623.8,400.8 623.6,395.3 623.9,412.0C624.1,428.6 624.1,424.6 624.2,437.0C624.3,449.3 624.5,439.4 624.2,449.0C623.9,458.6 624.2,454.6 623.4,465.7C622.5,476.8 623.1,471.2 621.7,482.4C620.3,493.5 620.6,487.9 619.2,499.1C617.8,510.2 617.2,507.4 617.5,515.7C617.8,524.1 618.1,516.9 620.0,524.1C622.0,531.3 621.4,530.8 623.4,537.4C625.3,544.1 625.9,544.1 625.9,544.1L628.4,541.6C628.4,541.6 629.2,547.7 630.9,552.5C632.5,557.2 633.4,555.8 633.4,555.8L635.9,553.3C635.9,553.3 637.0,556.1 638.4,549.1C639.8,542.2 638.9,543.6 640.0,532.4C641.2,521.3 640.6,526.9 641.7,515.7C642.8,504.6 642.3,510.2 643.4,499.1C644.5,487.9 643.9,493.5 645.1,482.4C646.2,471.2 645.6,476.8 646.7,465.7C647.8,454.6 647.1,459.7 648.4,449.0C649.7,438.3 649.2,446.0 650.6,433.6C652.0,421.3 651.3,427.5 652.6,412.0C653.8,396.4 653.6,400.8 654.2,386.9C654.9,373.0 654.6,381.4 654.6,370.2C654.6,359.1 654.6,364.7 654.2,353.6C653.8,342.4 654.2,346.0 653.4,336.9C652.6,327.7 653.4,332.1 651.7,326.0C650.1,319.9 650.9,324.4 648.4,318.5C645.9,312.7 646.7,315.7 644.2,308.5C641.7,301.3 642.7,303.4 640.9,296.8C639.1,290.3 638.9,288.8 638.9,288.8L635.9,290.1C635.9,290.1 635.0,286.2 633.4,280.1C631.7,274.0 632.5,276.9 630.9,271.8C629.2,266.7 630.9,267.8 628.4,264.8C625.9,261.7 623.4,262.6 623.4,262.6C623.4,262.6 623.0,260.9 621.7,255.1C620.4,249.3 620.9,249.8 619.5,245.1C618.1,240.4 617.5,240.9 617.5,240.9Z"/>
<path fill="#B3CCFB" d="M549.1,690.3C549.1,690.3 549.1,686.3 549.9,679.3C550.8,672.3 549.7,673.7 551.6,669.3C553.6,664.8 553.3,667.9 555.8,665.9C558.3,664.0 556.9,663.4 559.1,663.4C561.3,663.4 560.2,664.0 562.5,665.9C564.7,667.9 563.0,667.6 565.8,669.3C568.6,670.9 567.5,669.8 570.8,670.9C574.1,672.0 572.5,671.8 575.8,672.6C579.1,673.4 577.8,672.3 580.8,673.4C583.9,674.5 585.0,675.9 585.0,675.9L588.3,673.4C588.3,673.4 589.4,672.9 590.8,675.9C592.2,679.0 591.7,677.8 592.5,682.6C593.3,687.4 593.3,690.3 593.3,690.3L549.1,690.3Z"/>
<path fill="#B3CCFB" d="M544.1,672.6C544.1,672.6 546.2,672.5 546.6,674.3C547.0,676.0 545.4,677.9 545.4,677.9L544.1,672.6Z"/>
<path fill="#B3CCFB" d="M313.5,690.3C313.5,690.3 313.2,686.0 314.3,680.9C315.4,675.9 314.6,677.3 316.8,675.1C319.1,672.9 318.2,673.7 321.0,674.3C323.8,674.8 322.9,674.0 325.2,676.8C327.4,679.6 326.3,678.1 327.7,682.6C329.1,687.1 329.3,690.3 329.3,690.3L313.5,690.3Z"/>
<path fill="#80A6FF" d="M315.2,690.3C315.2,690.3 315.0,686.3 316.0,681.8C317.0,677.3 316.2,678.3 318.2,676.8C320.1,675.3 319.6,675.6 321.8,677.3C324.1,678.9 323.3,677.4 324.8,681.8C326.4,686.1 326.5,690.3 326.5,690.3L315.2,690.3Z"/>
<path fill="#4177FF" d="M316.5,690.3C316.5,690.3 316.4,685.4 317.2,681.8C317.9,678.1 317.4,679.6 318.8,679.3C320.3,679.0 320.2,677.3 321.5,680.9C322.8,684.6 322.7,690.3 322.7,690.3L316.5,690.3Z"/>
<path fill="#1A4DFF" d="M317.2,690.3C317.2,690.3 317.1,685.4 317.8,682.6C318.6,679.8 318.4,679.2 319.3,681.8C320.2,684.3 320.5,690.3 320.5,690.3L317.2,690.3Z"/>
<path fill="#B3CCFB" d="M651.0,656.7C651.0,656.7 650.7,649.9 651.0,640.2C651.3,630.5 651.9,627.7 651.9,627.7C651.9,627.7 652.5,630.7 653.7,631.3C654.9,631.9 654.3,631.9 655.5,629.5C656.7,627.1 657.3,624.1 657.3,624.1L659.1,638.4C659.1,638.4 658.8,637.8 659.9,629.5C661.1,621.1 661.1,620.5 662.6,613.3C664.1,606.1 664.4,607.9 664.4,607.9C664.4,607.9 665.3,610.9 667.1,618.7C668.9,626.5 668.0,622.9 669.8,631.3C671.6,639.6 671.0,635.3 672.5,643.8C674.0,652.3 674.3,656.7 674.3,656.7L651.0,656.7Z"/>
<path fill="#80A6FF" d="M658.2,656.7C658.2,656.7 658.5,654.1 659.9,645.6C661.4,637.1 661.1,642.0 662.6,631.3C664.1,620.5 664.4,613.3 664.4,613.3C664.4,613.3 664.7,618.7 666.2,627.7C667.7,636.6 667.1,630.5 668.9,640.2C670.7,649.9 671.6,656.7 671.6,656.7L658.2,656.7Z"/>
<path fill="#4177FF" d="M664.4,656.7C664.4,656.7 665.0,651.7 666.2,645.6C667.4,639.5 668.0,638.4 668.0,638.4C668.0,638.4 668.6,641.3 669.8,647.4C671.0,653.5 671.6,656.7 671.6,656.7L664.4,656.7Z"/>
<path fill="#1A4DFF" d="M666.2,656.7L668.0,644.7L670.2,656.7L666.2,656.7Z"/>
<path fill="#4177FF" d="M698.9,450.0C698.9,450.0 698.3,455.9 697.3,466.2C696.3,476.5 695.8,480.9 695.8,480.9L698.9,480.9L698.9,450.0Z"/>
<path fill="#FFCBB3" d="M468.0,201.7C468.0,201.7 468.3,216.2 468.8,240.2C469.4,264.2 469.9,251.4 469.7,273.7C469.4,296.1 469.4,287.7 468.0,307.2C466.6,326.8 467.4,318.4 465.5,332.3C463.5,346.3 464.1,338.5 462.1,349.1C460.2,359.7 459.6,364.2 459.6,364.2L457.1,369.2C457.1,369.2 456.5,372.5 455.4,382.6C454.3,392.6 454.6,385.4 453.8,399.3C452.9,413.3 453.5,407.7 452.9,424.4C452.4,441.2 452.5,434.4 452.1,449.6C451.7,464.8 451.8,442.4 451.7,470.0C451.7,497.6 451.8,494.9 452.0,532.4C452.2,569.9 451.8,554.7 452.3,582.5C452.9,610.3 452.4,600.3 453.7,615.9C454.9,631.4 454.4,623.7 456.2,629.2C457.9,634.8 457.2,629.2 459.0,632.6C460.8,635.9 459.8,635.9 461.5,639.2C463.2,642.6 462.6,643.1 464.0,642.6C465.4,642.0 464.6,643.7 465.7,637.6C466.8,631.4 466.3,634.2 467.3,624.2C468.3,614.2 467.8,621.4 468.7,607.5C469.5,593.6 469.2,602.0 469.8,582.5C470.5,563.0 470.5,571.4 470.7,549.1C470.8,526.9 470.1,542.1 470.3,515.7C470.6,489.4 470.7,492.1 471.3,470.0C472.0,448.0 471.6,464.8 472.2,449.6C472.7,434.4 472.5,441.2 473.0,424.4C473.6,407.7 473.5,416.1 473.8,399.3C474.2,382.6 474.2,393.7 474.2,374.2C474.2,354.7 474.1,363.0 473.8,340.7C473.6,318.4 473.3,329.6 473.3,307.2C473.3,284.9 473.1,293.3 473.8,273.7C474.6,254.2 474.4,265.4 475.5,248.6C476.6,231.9 476.1,239.1 477.2,223.5C478.3,207.9 478.9,201.7 478.9,201.7L468.0,201.7Z"/>
<path fill="#FFCBB3" d="M505.7,216.8C505.7,216.8 504.0,219.6 501.5,221.8C499.0,224.1 500.9,221.8 498.1,223.5C495.3,225.2 495.6,222.9 493.1,226.8C490.6,230.7 491.7,225.2 490.6,235.2C489.5,245.3 489.9,241.4 489.8,257.0C489.6,272.6 489.5,265.4 490.1,282.1C490.6,298.9 490.5,290.5 491.4,307.2C492.3,324.0 491.9,315.6 492.8,332.3C493.6,349.1 493.0,340.7 493.9,357.5C494.9,374.2 494.2,367.0 495.6,382.6C497.0,398.2 496.5,392.1 498.1,404.4C499.8,416.6 499.0,411.9 500.6,419.4C502.3,427.0 501.5,423.9 503.2,427.0C504.8,430.0 504.0,428.6 505.7,428.6C507.3,428.6 506.5,428.4 508.2,427.0C509.9,425.6 509.3,427.0 510.7,424.4C512.1,421.9 510.7,422.8 512.4,419.4C514.0,416.1 513.8,418.3 515.7,414.4C517.7,410.5 516.7,415.5 518.2,407.7C519.7,399.9 519.4,404.9 520.2,391.0C521.1,377.0 520.7,382.6 520.7,365.8C520.7,349.1 520.4,360.3 520.2,340.7C520.1,321.2 520.3,328.4 520.2,307.2C520.1,286.0 520.6,292.2 519.9,277.1C519.2,262.0 519.9,272.1 518.2,262.0C516.6,252.0 517.1,257.0 514.9,246.9C512.6,236.9 513.8,240.5 511.5,231.9C509.3,223.2 510.1,226.0 508.2,221.0C506.2,216.0 505.7,216.8 505.7,216.8Z"/>
<path fill="#FFCBB3" d="M545.8,270.1C545.8,270.1 544.4,270.1 543.3,276.8C542.2,283.5 543.0,281.2 542.4,290.1C541.9,299.0 541.6,295.1 541.6,303.5C541.6,311.8 541.3,307.9 542.4,315.2C543.5,322.4 543.5,320.2 544.9,325.2C546.3,330.2 545.8,323.5 546.6,330.2C547.4,336.9 546.9,334.6 547.4,345.2C548.0,355.8 547.7,350.8 548.3,361.9C548.8,373.0 548.4,364.7 549.1,378.6C549.8,392.5 549.6,388.6 550.4,403.6C551.3,418.6 550.7,411.4 551.6,423.6C552.6,435.9 551.9,432.8 553.3,440.3C554.7,447.8 554.1,446.2 555.8,446.2C557.5,446.2 556.6,447.8 558.3,440.3C560.0,432.8 559.4,434.8 560.8,423.6C562.2,412.5 561.6,419.2 562.5,406.9C563.3,394.7 562.7,401.9 563.3,386.9C563.8,371.9 564.0,378.6 564.1,361.9C564.3,345.2 564.2,353.6 563.8,336.9C563.3,320.2 563.5,325.7 562.8,311.8C562.1,297.9 562.6,306.3 561.6,295.1C560.7,284.0 561.3,285.7 560.0,278.5C558.6,271.2 557.5,273.5 557.5,273.5C557.5,273.5 555.2,275.3 552.4,274.8C549.7,274.2 551.3,273.3 549.1,271.8C546.9,270.2 545.8,270.1 545.8,270.1Z"/>
<path fill="#FFCBB3" d="M595.0,311.8C595.0,311.8 593.9,312.7 590.8,315.2C587.8,317.7 588.6,314.9 585.8,319.3C583.0,323.8 584.4,321.6 582.5,328.5C580.5,335.5 581.5,331.9 580.0,340.2C578.4,348.5 579.2,343.5 577.8,353.6C576.4,363.6 576.9,359.1 575.8,370.2C574.7,381.4 575.0,375.8 574.5,386.9C573.9,398.1 574.1,392.5 574.1,403.6C574.1,414.7 573.9,409.2 574.5,420.3C575.0,431.4 574.8,427.4 575.8,437.0C576.8,446.6 576.4,440.5 577.5,449.0C578.6,457.5 577.8,451.2 579.1,462.3C580.5,473.5 579.7,470.1 581.6,482.4C583.6,494.6 582.2,487.9 585.0,499.1C587.8,510.2 588.9,504.6 590.0,515.7C591.1,526.9 589.2,521.3 588.3,532.4C587.5,543.6 588.9,539.1 587.5,549.1C586.1,559.1 586.4,554.7 584.1,562.5C581.9,570.3 583.3,566.4 580.8,572.5C578.3,578.6 579.4,575.3 576.6,580.8C573.9,586.4 575.5,584.2 572.5,589.2C569.4,594.2 570.8,591.4 567.5,595.8C564.1,600.3 565.8,598.1 562.5,602.5C559.1,607.0 560.8,604.7 557.5,609.2C554.1,613.6 555.2,612.0 552.4,615.9C549.7,619.8 550.1,615.3 549.1,620.9C548.1,626.4 548.9,625.9 549.4,632.6C550.0,639.2 548.7,637.0 550.8,640.9C552.9,644.8 551.9,641.5 555.8,644.2C559.7,647.0 558.0,646.5 562.5,649.2C566.9,652.0 564.7,649.8 569.1,652.6C573.6,655.4 571.4,655.4 575.8,657.6C580.3,659.8 578.0,659.3 582.5,659.3C586.9,659.3 585.3,659.8 589.2,657.6C593.0,655.4 590.8,656.5 594.2,652.6C597.5,648.7 595.8,650.4 599.2,645.9C602.5,641.5 600.8,643.1 604.2,639.2C607.5,635.3 606.7,639.2 609.2,634.2C611.7,629.2 610.7,633.1 611.7,624.2C612.7,615.3 612.2,618.6 612.2,607.5C612.2,596.4 612.4,602.0 611.7,590.8C611.0,579.7 611.1,585.3 610.0,574.1C608.9,563.0 609.5,568.6 608.3,557.5C607.2,546.3 608.1,551.9 606.7,540.8C605.3,529.7 605.0,532.4 604.2,524.1C603.3,515.7 603.6,524.1 604.2,515.7C604.7,507.4 604.8,513.0 605.8,499.1C606.8,485.2 606.7,490.7 607.2,474.0C607.6,457.3 607.2,466.9 607.2,449.0C607.2,431.1 607.3,438.2 607.2,420.3C607.0,402.4 607.2,410.8 606.7,395.3C606.1,379.7 606.3,386.4 605.5,373.6C604.7,360.8 605.2,367.5 604.2,356.9C603.2,346.3 603.9,351.3 602.5,341.9C601.1,332.4 601.7,336.9 600.0,328.5C598.3,320.2 599.2,322.4 597.5,316.8C595.8,311.3 595.0,311.8 595.0,311.8Z"/>
<path fill="#FFCBB3" d="M369.9,346.0C369.9,346.0 369.0,345.5 367.7,353.6C366.4,361.6 367.0,358.0 366.1,370.2C365.1,382.5 365.1,377.5 364.9,390.3C364.7,403.1 364.9,396.9 365.6,408.6C366.2,420.3 365.9,414.7 366.9,425.3C367.9,435.9 367.4,433.1 368.6,440.3C369.7,447.6 369.3,442.4 370.2,447.0C371.2,451.6 371.4,454.0 371.4,454.0C371.4,454.0 372.2,447.1 373.2,437.0C374.2,426.9 373.8,433.6 374.4,423.6C375.0,413.6 375.2,419.2 374.9,406.9C374.6,394.7 374.3,400.3 373.6,386.9C372.8,373.6 373.3,379.1 372.7,366.9C372.2,354.7 372.8,357.2 371.9,350.2C371.0,343.3 369.9,346.0 369.9,346.0Z"/>
<path fill="#FFCBB3" d="M381.9,404.9C381.9,404.9 382.9,406.4 382.9,409.5C382.9,412.5 381.9,414.0 381.9,414.0C381.9,414.0 380.9,412.5 380.9,409.5C380.9,406.4 381.9,404.9 381.9,404.9Z"/>
<path fill="#FFCBB3" d="M428.3,293.0C428.3,293.0 427.1,288.5 426.1,298.9C425.1,309.2 425.6,307.2 425.3,324.0C425.0,340.7 425.0,332.3 425.3,349.1C425.6,365.8 425.3,357.5 426.1,374.2C427.0,391.0 426.6,382.6 427.8,399.3C429.0,416.1 428.4,410.5 429.8,424.4C431.2,438.4 430.9,433.7 432.0,441.2C433.1,448.7 433.2,447.1 433.2,447.1C433.2,447.1 433.4,448.7 434.2,441.2C434.9,433.7 434.8,438.4 435.3,424.4C435.9,410.5 435.6,416.1 435.8,399.3C436.1,382.6 436.2,391.0 436.2,374.2C436.1,357.5 436.2,365.8 435.7,349.1C435.1,332.3 435.2,337.9 434.5,324.0C433.8,310.0 434.5,313.6 433.7,307.2C432.8,300.8 433.3,307.5 432.0,304.7C430.7,301.9 431.0,302.8 429.8,298.9C428.6,294.9 428.3,293.0 428.3,293.0Z"/>
<path fill="#FFCBB3" d="M212.7,664.3C212.7,664.3 214.0,664.0 216.7,663.4C219.4,662.9 218.4,662.3 220.9,662.6C223.4,662.9 222.3,662.0 224.2,664.3C226.2,666.5 225.1,666.2 226.7,669.3C228.4,672.3 229.2,673.4 229.2,673.4C229.2,673.4 230.1,672.9 231.7,669.3C233.4,665.6 232.6,667.6 234.2,662.6C235.9,657.6 235.1,661.5 236.7,654.2C238.4,647.0 237.8,649.2 239.2,640.9C240.6,632.6 240.9,629.2 240.9,629.2C240.9,629.2 241.5,629.2 242.6,630.9C243.7,632.6 244.2,634.2 244.2,634.2C244.2,634.2 245.1,634.2 246.7,630.9C248.4,627.5 247.6,628.7 249.2,624.2C250.9,619.8 250.4,620.3 251.8,617.5C253.1,614.8 252.4,619.8 253.4,615.9C254.4,612.0 253.9,614.2 254.8,605.9C255.6,597.5 255.1,600.8 255.9,590.8C256.7,580.8 256.3,584.2 257.1,575.8C257.9,567.5 257.4,569.7 258.4,565.8C259.4,561.9 259.0,563.6 260.1,564.1C261.2,564.7 260.4,563.0 261.8,567.5C263.2,571.9 262.6,570.8 264.3,577.5C265.9,584.2 265.4,580.3 266.8,587.5C268.2,594.7 267.0,590.8 268.4,599.2C269.8,607.5 269.3,604.7 270.9,612.5C272.6,620.3 271.8,619.2 273.4,622.5C275.1,625.9 274.3,623.7 275.9,622.5C277.6,621.4 277.1,621.2 278.5,619.2C279.8,617.3 280.1,616.7 280.1,616.7C280.1,616.7 280.7,617.0 282.1,619.2C283.5,621.4 284.3,623.4 284.3,623.4C284.3,623.4 285.1,624.5 286.8,620.9C288.5,617.3 287.6,619.8 289.3,612.5C291.0,605.3 290.1,609.2 291.8,599.2C293.5,589.2 292.6,593.6 294.3,582.5C296.0,571.4 295.1,574.7 296.8,565.8C298.5,556.9 297.4,561.6 299.3,555.8C301.3,550.0 300.1,551.9 302.6,548.3C305.1,544.7 304.6,546.3 306.8,544.9C309.0,543.6 307.4,543.3 309.3,544.1C311.3,544.9 310.7,544.7 312.7,547.5C314.6,550.2 313.2,549.1 315.2,552.5C317.1,555.8 316.3,555.2 318.5,557.5C320.7,559.7 319.6,557.5 321.8,559.1C324.1,560.8 323.2,558.6 325.2,562.5C327.1,566.4 326.0,564.1 327.7,570.8C329.3,577.5 329.1,574.1 330.2,582.5C331.3,590.8 331.0,587.5 331.0,595.8C331.0,604.2 331.0,599.7 330.2,607.5C329.3,615.3 329.9,611.4 328.5,619.2C327.1,627.0 328.0,624.2 326.0,630.9C324.1,637.6 324.6,634.8 322.7,639.2C320.7,643.7 321.6,639.2 320.2,644.2C318.8,649.2 319.6,648.1 318.5,654.2C317.4,660.4 318.5,657.0 316.8,662.6C315.2,668.2 315.2,665.4 313.5,670.9C311.8,676.5 312.7,672.8 311.8,679.3C311.0,685.7 311.0,690.3 311.0,690.3L212.7,690.3L212.7,664.3Z"/>
<path fill="#FFCBB3" d="M339.4,690.3C339.4,690.3 338.2,688.0 338.5,674.3C338.8,660.6 339.4,668.7 340.2,649.2C341.0,629.8 341.1,632.6 341.0,615.9C340.9,599.2 340.4,609.2 339.9,599.2C339.3,589.2 339.0,592.5 339.4,585.8C339.7,579.2 339.4,584.2 341.0,579.2C342.7,574.1 342.4,574.7 344.4,570.8C346.3,566.9 344.9,569.1 346.9,567.5C348.8,565.8 348.0,567.5 350.2,565.8C352.4,564.1 351.3,562.5 353.5,562.5C355.8,562.5 354.7,563.9 356.9,565.8C359.1,567.8 357.4,567.2 360.2,568.3C363.0,569.4 362.2,569.4 365.2,569.1C368.3,568.9 366.6,566.9 369.4,567.5C372.2,568.0 370.8,568.0 373.6,570.8C376.3,573.6 375.5,572.5 377.7,575.8C380.0,579.2 378.3,577.5 380.2,580.8C382.2,584.2 381.4,581.4 383.6,585.8C385.8,590.3 385.0,591.1 386.9,594.2C388.9,597.2 387.7,595.0 389.4,595.0C391.1,595.0 390.3,592.8 391.9,594.2C393.6,595.6 392.8,595.3 394.4,599.2C396.1,603.1 395.3,601.1 396.9,605.9C398.6,610.6 397.8,607.8 399.4,613.4C401.1,618.9 401.9,622.5 401.9,622.5C401.9,622.5 402.8,619.8 404.4,615.9C406.1,612.0 405.3,613.6 406.9,610.9C408.6,608.1 408.1,609.5 409.4,607.5C410.8,605.6 409.7,606.7 411.1,605.0C412.5,603.4 411.7,606.1 413.6,602.5C415.6,598.9 414.4,599.2 416.9,594.2C419.5,589.2 418.3,591.9 421.1,587.5C423.9,583.0 422.8,588.1 425.3,580.8C427.8,573.6 426.7,576.4 428.6,565.8C430.6,555.2 429.5,560.5 431.1,549.1C432.8,537.7 433.6,531.6 433.6,531.6C433.6,531.6 434.5,532.2 435.3,549.1C436.1,566.1 435.9,560.2 436.1,582.5C436.4,604.7 436.4,599.2 436.1,615.9C435.9,632.6 436.1,623.7 435.3,632.6C434.5,641.5 435.0,637.0 433.6,642.6C432.2,648.1 432.8,644.2 431.1,649.2C429.5,654.2 430.6,652.6 428.6,657.6C426.7,662.6 427.5,660.4 425.3,664.3C423.1,668.2 424.2,665.4 422.0,669.3C419.7,673.2 420.8,671.5 418.6,675.9C416.4,680.4 417.2,677.8 415.3,682.6C413.3,687.4 412.8,690.3 412.8,690.3L339.4,690.3Z"/>
<path fill="#FFCBB3" d="M506.6,635.9C506.3,631.4 506.6,633.1 509.1,629.2C511.6,625.3 511.6,628.7 514.1,624.2C516.6,619.8 514.6,621.7 516.6,615.9C518.5,610.0 517.4,609.5 519.9,606.7C522.4,603.9 521.0,608.9 524.1,607.5C527.1,606.1 526.0,603.9 529.1,602.5C532.1,601.1 530.5,601.1 533.3,603.4C536.0,605.6 534.6,604.5 537.4,609.2C540.2,613.9 539.4,613.1 541.6,617.5C543.8,622.0 542.7,617.5 544.1,622.5C545.5,627.5 545.5,626.4 545.8,632.6C546.0,638.7 546.6,637.6 544.9,640.9C543.3,644.2 543.5,640.9 540.8,642.6C538.0,644.2 539.1,642.0 536.6,645.9C534.1,649.8 535.2,650.4 533.3,654.2C531.3,658.1 530.8,657.6 530.8,657.6C530.8,657.6 529.9,652.9 527.4,650.9C524.9,649.0 526.3,650.6 523.2,651.7C520.2,652.9 521.3,655.1 518.2,654.2C515.2,653.4 516.8,653.1 514.1,649.2C511.3,645.3 512.4,647.0 509.9,642.6C507.4,638.1 506.8,640.3 506.6,635.9Z"/>
<path fill="#FFCBB3" d="M482.4,621.7C482.4,621.7 480.8,623.9 479.0,629.2C477.2,634.5 477.3,630.9 477.0,637.6C476.7,644.2 477.2,642.0 478.2,649.2C479.1,656.5 478.7,653.4 479.9,659.3C481.0,665.1 481.5,666.8 481.5,666.8C481.5,666.8 482.6,665.6 484.0,660.9C485.4,656.2 484.3,658.7 485.7,652.6C487.1,646.5 487.1,648.1 488.2,642.6C489.3,637.0 489.6,640.9 489.0,635.9C488.5,630.9 488.8,632.3 486.5,627.5C484.3,622.8 482.4,621.7 482.4,621.7Z"/>
<path fill="#FFCBB3" d="M486.5,690.3C486.5,690.3 486.3,688.0 487.4,682.6C488.5,677.3 487.9,676.5 489.9,674.3C491.8,672.0 493.2,675.9 493.2,675.9L494.9,672.6C494.9,672.6 495.2,674.8 496.5,679.3C497.9,683.7 497.9,682.3 499.0,685.9C500.2,689.6 499.9,690.3 499.9,690.3L486.5,690.3Z"/>
<path fill="#FFCBB3" d="M621.7,673.4C621.7,673.4 622.0,669.5 623.4,662.6C624.8,655.6 623.9,658.7 625.9,652.6C627.8,646.5 627.3,648.4 629.2,644.2C631.2,640.1 630.0,640.1 631.7,640.1C633.4,640.1 632.8,638.9 634.2,644.2C635.6,649.5 635.9,655.9 635.9,655.9L636.7,655.9L636.7,673.4L621.7,673.4Z"/>
<path fill="#FFCBB3" d="M639.5,635.9C639.5,635.9 640.4,639.2 640.6,645.9C640.7,652.6 639.9,655.9 639.9,655.9L638.5,655.9C638.5,655.9 638.5,652.6 638.9,645.9C639.2,639.2 639.5,635.9 639.5,635.9Z"/>
<path fill="#FFA680" d="M595.8,563.3C595.8,563.3 594.2,564.4 591.7,569.1C589.2,573.9 590.3,571.9 588.3,577.5C586.4,583.0 588.0,580.8 585.8,585.8C583.6,590.8 585.0,588.1 581.6,592.5C578.3,597.0 579.4,595.3 575.8,599.2C572.2,603.1 573.9,600.3 570.8,604.2C567.7,608.1 569.1,605.3 566.6,610.9C564.1,616.4 563.6,614.8 563.3,620.9C563.0,627.0 563.3,624.2 565.8,629.2C568.3,634.2 567.5,632.6 570.8,635.9C574.1,639.2 572.2,637.3 575.8,639.2C579.4,641.2 578.0,641.5 581.6,641.7C585.3,642.0 584.1,642.6 586.7,640.1C589.2,637.6 587.2,638.4 589.2,634.2C591.1,630.0 589.7,632.6 592.5,627.5C595.3,622.5 594.7,624.8 597.5,619.2C600.3,613.6 598.9,617.5 600.8,610.9C602.8,604.2 601.7,607.5 603.3,599.2C605.0,590.8 605.8,593.6 605.8,585.8C605.8,578.0 605.3,581.9 603.3,575.8C601.4,569.7 602.5,571.6 600.0,567.5C597.5,563.3 595.8,563.3 595.8,563.3Z"/>
<path fill="#FFA680" d="M300.1,576.7C300.1,576.7 299.0,576.7 297.6,584.2C296.2,591.7 297.1,588.6 296.0,599.2C294.9,609.7 295.4,604.7 294.3,615.9C293.2,627.0 293.5,621.4 292.6,632.6C291.8,643.7 292.0,638.1 291.8,649.2C291.6,660.4 291.6,655.9 292.1,665.9C292.7,675.9 292.5,671.2 293.5,679.3C294.5,687.4 295.1,690.3 295.1,690.3L310.2,690.3C310.2,690.3 309.6,687.4 309.3,679.3C309.0,671.2 309.2,675.9 309.3,665.9C309.5,655.9 309.7,660.4 309.8,649.2C310.0,638.1 310.0,643.7 309.8,632.6C309.7,621.4 309.9,627.0 309.3,615.9C308.8,604.7 309.0,609.2 308.2,599.2C307.3,589.2 308.4,592.5 306.8,585.8C305.3,579.2 305.7,582.2 303.5,579.2C301.3,576.1 300.1,576.7 300.1,576.7Z"/>
<path fill="#FFA680" d="M253.4,617.5C253.4,617.5 252.9,621.4 251.8,629.2C250.6,637.0 251.2,633.1 250.1,640.9C249.0,648.7 249.5,646.5 248.4,652.6C247.3,658.7 248.1,654.8 246.7,659.3C245.4,663.7 246.5,662.0 244.2,665.9C242.0,669.8 242.6,670.4 240.1,670.9C237.6,671.5 236.7,667.6 236.7,667.6C236.7,667.6 236.5,669.8 234.2,672.6C232.0,675.4 232.8,675.4 230.1,675.9C227.3,676.5 228.7,673.7 225.9,674.3C223.1,674.8 224.5,675.9 221.7,677.6C218.9,679.3 220.5,678.2 217.5,679.3C214.5,680.4 212.7,680.9 212.7,680.9L212.7,690.3L273.4,690.3C273.4,690.3 272.9,688.5 272.1,682.6C271.3,676.7 272.2,678.2 270.9,672.6C269.7,667.0 269.8,672.6 268.4,665.9C267.0,659.3 266.8,652.6 266.8,652.6C266.8,652.6 266.5,657.6 265.1,660.9C263.7,664.3 264.3,663.7 262.6,662.6C260.9,661.5 261.5,663.1 260.1,657.6C258.7,652.0 259.5,653.7 258.4,645.9C257.3,638.1 257.9,641.5 256.8,634.2C255.6,627.0 256.2,629.8 255.1,624.2C254.0,618.6 253.4,617.5 253.4,617.5Z"/>
<path fill="#FFA680" d="M372.7,599.7C372.7,599.7 375.2,601.0 375.2,603.9C375.2,606.7 372.7,608.4 372.7,608.4C372.7,608.4 370.2,606.7 370.2,603.9C370.2,601.0 372.7,599.7 372.7,599.7Z"/>
<path fill="#FFA680" d="M627.5,673.4C627.5,673.4 628.1,670.1 630.0,665.9C632.0,661.8 631.4,661.5 633.4,660.9C635.3,660.4 634.8,660.1 635.9,664.3C637.0,668.4 636.7,673.4 636.7,673.4L627.5,673.4Z"/>
<path fill="#FFCBB3" d="M662.6,527.2C662.6,527.2 663.7,527.8 664.4,541.5C665.2,555.3 665.3,550.5 665.0,568.5C664.7,586.4 663.5,595.4 663.5,595.4C663.5,595.4 662.5,586.4 661.7,568.5C661.0,550.5 661.1,555.3 661.4,541.5C661.7,527.8 662.6,527.2 662.6,527.2Z"/>
<path fill="#FFCBB3" d="M691.2,514.6C691.2,514.6 689.7,508.6 688.7,523.6C687.6,538.6 688.2,532.6 688.1,559.5C688.0,586.4 688.3,604.3 688.3,604.3L691.2,604.3L691.2,514.6Z"/>
<path fill="#FFA680" d="M691.2,559.5C691.2,559.5 690.0,562.5 689.2,577.4C688.4,592.4 688.7,604.3 688.7,604.3L691.2,604.3L691.2,559.5Z"/>
<path fill="#FF7A45" d="M691.2,591.8C691.2,591.8 690.2,593.0 689.4,597.2C688.6,601.3 688.8,604.3 688.8,604.3L691.2,604.3L691.2,591.8Z"/>
<path fill="#FF7A45" d="M248.4,655.9C248.4,655.9 247.7,658.7 246.7,664.3C245.7,669.8 245.7,667.0 245.4,672.6C245.1,678.2 245.5,675.0 245.9,680.9C246.4,686.8 246.7,690.3 246.7,690.3L253.4,690.3C253.4,690.3 252.0,687.4 251.8,682.6C251.5,677.8 252.7,680.9 252.6,675.9C252.5,670.9 252.3,672.6 251.4,667.6C250.6,662.6 251.1,664.8 250.1,660.9C249.1,657.0 248.4,655.9 248.4,655.9Z"/>
<path fill="#FF7A45" d="M221.7,690.3C221.7,690.3 223.4,688.5 226.7,685.9C230.1,683.4 228.4,683.2 231.7,682.6C235.1,682.1 233.4,684.3 236.7,684.3C240.1,684.3 238.4,680.6 241.7,682.6C245.1,684.6 246.7,690.3 246.7,690.3L221.7,690.3Z"/>
<path fill="#FF7A45" d="M237.6,663.4C237.6,663.4 238.7,664.8 238.7,667.6C238.7,670.4 237.6,671.8 237.6,671.8C237.6,671.8 236.4,670.4 236.4,667.6C236.4,664.8 237.6,663.4 237.6,663.4Z"/>
<path fill="#FF7A45" d="M300.1,672.6C298.5,675.1 299.3,675.0 298.5,680.9C297.6,686.8 297.6,690.3 297.6,690.3L309.3,690.3C309.3,690.3 309.6,685.7 308.5,680.9C307.4,676.2 307.7,678.4 306.0,675.9C304.3,673.4 305.4,674.5 303.5,673.4C301.5,672.3 301.8,670.1 300.1,672.6Z"/>
<path fill="#FF7A45" d="M266.8,675.1L268.1,690.3L265.1,690.3L266.8,675.1Z"/>
<path fill="#FF7A45" d="M631.7,673.4C631.7,673.4 632.5,670.1 634.2,669.3C635.9,668.4 636.7,670.9 636.7,670.9L636.7,673.4L631.7,673.4Z"/>
<path fill="#FF511F" d="M228.4,690.3C228.4,690.3 228.9,687.1 231.7,685.9C234.5,684.8 232.8,685.3 236.7,686.8C240.6,688.2 243.4,690.3 243.4,690.3L228.4,690.3Z"/>
<path fill="#FF511F" d="M248.4,665.9C248.4,665.9 247.2,668.7 247.1,674.3C247.0,679.8 248.1,682.6 248.1,682.6C248.1,682.6 250.0,679.8 250.1,674.3C250.2,668.7 248.4,665.9 248.4,665.9Z"/>
<path fill="#E33000" d="M302.6,677.6L301.0,690.3L307.2,690.3C307.2,690.3 307.0,685.2 305.5,680.9C304.0,676.7 302.6,677.6 302.6,677.6Z"/>
<path fill="#E33000" d="M266.8,680.9L267.6,690.3L265.8,690.3L266.8,680.9Z"/>
<path fill="#B82600" d="M303.1,681.8L302.1,690.3L305.1,690.3L303.1,681.8Z"/>
<path fill="#D6EAFF" d="M273.4,690.3C273.4,690.3 274.8,688.5 276.8,679.3C278.7,670.0 279.3,662.6 279.3,662.6C279.3,662.6 279.8,669.8 281.8,672.6C283.7,675.4 285.1,670.9 285.1,670.9L287.6,665.9C287.6,665.9 286.5,671.2 286.8,679.3C287.1,687.4 288.5,690.3 288.5,690.3L273.4,690.3Z"/>
<path fill="#B3CCFB" d="M275.1,690.3C275.1,690.3 276.1,686.6 277.6,680.9C279.2,675.3 279.8,673.4 279.8,673.4L279.8,690.3L275.1,690.3Z"/>
<path fill="#1A4DFF" d="M284.3,678.4L285.5,678.4L285.5,690.3L284.3,690.3L284.3,678.4Z"/>
<path fill="#fff" d="M279.8,674.3L284.3,674.3L284.3,690.3L279.8,690.3L279.8,674.3Z"/>
<path fill="#fff" d="M595.0,690.0L595.0,673.3L636.3,673.3L636.3,655.7L685.0,655.7L687.3,637.3L688.3,603.3L690.7,603.3L690.7,515.7L693.3,515.7L693.3,480.7L698.3,480.7L698.3,446.7L703.3,446.7L703.3,690.0L595.0,690.0Z"/>
</g>
<g><text x="187.6" y="207.7" font-size="20.6" text-anchor="end" textLength="36.0" lengthAdjust="spacing" stroke-width="0.00">300</text>
<text x="187.6" y="277.7" font-size="20.6" text-anchor="end" textLength="36.0" lengthAdjust="spacing" stroke-width="0.00">400</text>
<text x="187.6" y="347.8" font-size="20.6" text-anchor="end" textLength="36.0" lengthAdjust="spacing" stroke-width="0.00">500</text>
<text x="187.6" y="487.8" font-size="20.6" text-anchor="end" textLength="36.0" lengthAdjust="spacing" stroke-width="0.00">700</text>
<text x="187.6" y="592.9" font-size="20.6" text-anchor="end" textLength="36.0" lengthAdjust="spacing" stroke-width="0.00">850</text>
<text x="187.6" y="697.9" font-size="20.6" text-anchor="end" textLength="46.2" lengthAdjust="spacing" stroke-width="0.00">1000</text>
<text x="727.3" y="247.3" font-size="20.6" textLength="11.4" lengthAdjust="spacingAndGlyphs" stroke-width="0.00">8</text>
<text x="727.3" y="429.7" font-size="20.6" textLength="11.4" lengthAdjust="spacingAndGlyphs" stroke-width="0.00">4</text>
<text x="212.8" y="730.9" font-size="20.6" text-anchor="middle" textLength="37.8" lengthAdjust="spacing" stroke-width="0.00">90N</text>
<text x="294.6" y="730.9" font-size="20.6" text-anchor="middle" textLength="37.8" lengthAdjust="spacing" stroke-width="0.00">60N</text>
<text x="376.4" y="730.9" font-size="20.6" text-anchor="middle" textLength="37.8" lengthAdjust="spacing" stroke-width="0.00">30N</text>
<text x="458.3" y="730.9" font-size="20.6" text-anchor="middle" textLength="11.4" lengthAdjust="spacingAndGlyphs" stroke-width="0.00">0</text>
<text x="540.1" y="730.9" font-size="20.6" text-anchor="middle" textLength="37.8" lengthAdjust="spacing" stroke-width="0.00">30S</text>
<text x="621.9" y="730.9" font-size="20.6" text-anchor="middle" textLength="37.8" lengthAdjust="spacing" stroke-width="0.00">60S</text>
<text x="703.8" y="730.9" font-size="20.6" text-anchor="middle" textLength="37.8" lengthAdjust="spacing" stroke-width="0.00">90S</text>
<text transform="translate(212.3,179.0) scale(1.08,1)" font-size="29.2" stroke-width="0.55"><tspan x="0.0" textLength="60.1" lengthAdjust="spacing">Total</tspan> <tspan x="75.2" textLength="99.4" lengthAdjust="spacing">diabatic</tspan> <tspan x="190.0" textLength="91.2" lengthAdjust="spacing">heating</tspan></text>
<text transform="translate(620.0,179.0) scale(1.08,1)" font-size="29.2" stroke-width="0.55"><tspan x="0.0" textLength="77.8" lengthAdjust="spacing">K/day</tspan></text>
<text transform="translate(121.3,444.6) rotate(-90)" font-size="32" stroke-width="1.0"><tspan x="-109.1" textLength="126" lengthAdjust="spacing">Pressure</tspan> <tspan x="36.0" textLength="73" lengthAdjust="spacing">(mb)</tspan></text>
<text transform="translate(778.3,446.4) rotate(-90)" font-size="30.5" stroke-width="0.9"><tspan x="-90.8" textLength="93.5" lengthAdjust="spacing">Height</tspan> <tspan x="20.4" textLength="72.2" lengthAdjust="spacing">(km)</tspan></text></g>
<g stroke="#000" fill="#000"><path d="M212.50,200.40v-14.4M212.50,690.60v14.4" stroke-width="2.85"/>
<path d="M239.78,200.40v-7.2M239.78,690.60v7.2" stroke-width="1.6"/>
<path d="M267.05,200.40v-7.2M267.05,690.60v7.2" stroke-width="1.6"/>
<path d="M294.32,200.40v-14.4M294.32,690.60v14.4" stroke-width="2.85"/>
<path d="M321.60,200.40v-7.2M321.60,690.60v7.2" stroke-width="1.6"/>
<path d="M348.88,200.40v-7.2M348.88,690.60v7.2" stroke-width="1.6"/>
<path d="M376.15,200.40v-14.4M376.15,690.60v14.4" stroke-width="2.85"/>
<path d="M403.43,200.40v-7.2M403.43,690.60v7.2" stroke-width="1.6"/>
<path d="M430.70,200.40v-7.2M430.70,690.60v7.2" stroke-width="1.6"/>
<path d="M457.98,200.40v-14.4M457.98,690.60v14.4" stroke-width="2.85"/>
<path d="M485.25,200.40v-7.2M485.25,690.60v7.2" stroke-width="1.6"/>
<path d="M512.53,200.40v-7.2M512.53,690.60v7.2" stroke-width="1.6"/>
<path d="M539.80,200.40v-14.4M539.80,690.60v14.4" stroke-width="2.85"/>
<path d="M567.08,200.40v-7.2M567.08,690.60v7.2" stroke-width="1.6"/>
<path d="M594.35,200.40v-7.2M594.35,690.60v7.2" stroke-width="1.6"/>
<path d="M621.62,200.40v-14.4M621.62,690.60v14.4" stroke-width="2.85"/>
<path d="M648.90,200.40v-7.2M648.90,690.60v7.2" stroke-width="1.6"/>
<path d="M676.18,200.40v-7.2M676.18,690.60v7.2" stroke-width="1.6"/>
<path d="M703.45,200.40v-14.4M703.45,690.60v14.4" stroke-width="2.85"/>
<path d="M212.50,200.40h-14.5" stroke-width="2.85"/>
<path d="M212.50,270.40h-14.5" stroke-width="2.85"/>
<path d="M212.50,340.50h-14.5" stroke-width="2.85"/>
<path d="M212.50,480.50h-14.5" stroke-width="2.85"/>
<path d="M212.50,585.60h-14.5" stroke-width="2.85"/>
<path d="M212.50,690.60h-14.5" stroke-width="2.85"/>
<path d="M703.45,240.00h14.5" stroke-width="2.85"/>
<path d="M703.45,422.40h14.5" stroke-width="2.85"/>
<rect x="212.50" y="200.40" width="490.95" height="490.20" fill="none" stroke-width="2.85"/></g>
</g>
<text x="796.0" y="77.0" font-size="49.2" textLength="81.2" lengthAdjust="spacingAndGlyphs" stroke-width="2.20">DJF</text>
<text transform="translate(85.7,135.2) scale(1.08,1)" font-size="29.2" stroke-width="0.55"><tspan x="0.0" textLength="534.8" lengthAdjust="spacing">f.e20.F2000.f09_f09.192.exp1.79.005</tspan> <tspan x="553.4" textLength="51.0" lengthAdjust="spacing">(yrs</tspan> <tspan x="621.9" textLength="67.3" lengthAdjust="spacing">2−6)</tspan></text>
<text transform="translate(843.7,135.2) scale(1.08,1)" font-size="29.2" stroke-width="0.55"><tspan x="0.0" textLength="534.8" lengthAdjust="spacing">f.e20.F2000.f09_f09.192.exp1.79.001</tspan> <tspan x="553.4" textLength="51.0" lengthAdjust="spacing">(yrs</tspan> <tspan x="621.9" textLength="67.3" lengthAdjust="spacing">2−6)</tspan></text>
<text transform="translate(232.5,915.2) scale(1.08,1)" font-size="29.2" stroke-width="0.55"><tspan x="0.0" textLength="534.7" lengthAdjust="spacing">f.e20.F2000.f09_f09.192.exp1.79.005</tspan> <tspan x="552.3" textLength="17.1" lengthAdjust="spacing">−</tspan> <tspan x="589.8" textLength="532.4" lengthAdjust="spacing">f.e20.F2000.f09_f09.192.exp1.79.001</tspan></text>
<rect x="219.30" y="779.00" width="29.84" height="44.30" fill="#00008B" stroke="#000" stroke-width="1.3"/>
<rect x="249.14" y="779.00" width="29.84" height="44.30" fill="#0019B5" stroke="#000" stroke-width="1.3"/>
<rect x="278.98" y="779.00" width="29.84" height="44.30" fill="#0030E0" stroke="#000" stroke-width="1.3"/>
<rect x="308.81" y="779.00" width="29.84" height="44.30" fill="#1A4DFF" stroke="#000" stroke-width="1.3"/>
<rect x="338.65" y="779.00" width="29.84" height="44.30" fill="#4177FF" stroke="#000" stroke-width="1.3"/>
<rect x="368.49" y="779.00" width="29.84" height="44.30" fill="#80A6FF" stroke="#000" stroke-width="1.3"/>
<rect x="398.33" y="779.00" width="29.84" height="44.30" fill="#B3CCFB" stroke="#000" stroke-width="1.3"/>
<rect x="428.16" y="779.00" width="29.84" height="44.30" fill="#D6EAFF" stroke="#000" stroke-width="1.3"/>
<rect x="458.00" y="779.00" width="29.84" height="44.30" fill="#FFE9D6" stroke="#000" stroke-width="1.3"/>
<rect x="487.84" y="779.00" width="29.84" height="44.30" fill="#FFCBB3" stroke="#000" stroke-width="1.3"/>
<rect x="517.67" y="779.00" width="29.84" height="44.30" fill="#FFA680" stroke="#000" stroke-width="1.3"/>
<rect x="547.51" y="779.00" width="29.84" height="44.30" fill="#FF7A45" stroke="#000" stroke-width="1.3"/>
<rect x="577.35" y="779.00" width="29.84" height="44.30" fill="#FF511F" stroke="#000" stroke-width="1.3"/>
<rect x="607.19" y="779.00" width="29.84" height="44.30" fill="#E33000" stroke="#000" stroke-width="1.3"/>
<rect x="637.03" y="779.00" width="29.84" height="44.30" fill="#B82600" stroke="#000" stroke-width="1.3"/>
<rect x="666.86" y="779.00" width="29.84" height="44.30" fill="#8B0000" stroke="#000" stroke-width="1.3"/>
<rect x="219.30" y="779.00" width="477.40" height="44.30" fill="none" stroke="#000" stroke-width="1.5"/>
<text transform="translate(249.1,851.9) scale(1.1,1)" font-size="21.8" text-anchor="middle" textLength="26.4" lengthAdjust="spacing" stroke-width="0.30">−6</text>
<text transform="translate(308.8,851.9) scale(1.1,1)" font-size="21.8" text-anchor="middle" textLength="26.4" lengthAdjust="spacing" stroke-width="0.30">−4</text>
<text transform="translate(368.5,851.9) scale(1.1,1)" font-size="21.8" text-anchor="middle" textLength="26.4" lengthAdjust="spacing" stroke-width="0.30">−2</text>
<text transform="translate(428.2,851.9) scale(1.1,1)" font-size="21.8" text-anchor="middle" textLength="46.4" lengthAdjust="spacing" stroke-width="0.30">−0.5</text>
<text transform="translate(487.8,851.9) scale(1.1,1)" font-size="21.8" text-anchor="middle" textLength="30.5" lengthAdjust="spacing" stroke-width="0.30">0.5</text>
<text x="547.5" y="851.9" font-size="21.8" text-anchor="middle" textLength="11.5" lengthAdjust="spacingAndGlyphs" stroke-width="0.30">2</text>
<text x="607.2" y="851.9" font-size="21.8" text-anchor="middle" textLength="12.0" lengthAdjust="spacingAndGlyphs" stroke-width="0.30">4</text>
<text x="666.9" y="851.9" font-size="21.8" text-anchor="middle" textLength="11.5" lengthAdjust="spacingAndGlyphs" stroke-width="0.30">6</text>
<rect x="977.30" y="779.00" width="29.84" height="44.30" fill="#00008B" stroke="#000" stroke-width="1.3"/>
<rect x="1007.14" y="779.00" width="29.84" height="44.30" fill="#0019B5" stroke="#000" stroke-width="1.3"/>
<rect x="1036.97" y="779.00" width="29.84" height="44.30" fill="#0030E0" stroke="#000" stroke-width="1.3"/>
<rect x="1066.81" y="779.00" width="29.84" height="44.30" fill="#1A4DFF" stroke="#000" stroke-width="1.3"/>
<rect x="1096.65" y="779.00" width="29.84" height="44.30" fill="#4177FF" stroke="#000" stroke-width="1.3"/>
<rect x="1126.49" y="779.00" width="29.84" height="44.30" fill="#80A6FF" stroke="#000" stroke-width="1.3"/>
<rect x="1156.33" y="779.00" width="29.84" height="44.30" fill="#B3CCFB" stroke="#000" stroke-width="1.3"/>
<rect x="1186.16" y="779.00" width="29.84" height="44.30" fill="#D6EAFF" stroke="#000" stroke-width="1.3"/>
<rect x="1216.00" y="779.00" width="29.84" height="44.30" fill="#FFE9D6" stroke="#000" stroke-width="1.3"/>
<rect x="1245.84" y="779.00" width="29.84" height="44.30" fill="#FFCBB3" stroke="#000" stroke-width="1.3"/>
<rect x="1275.67" y="779.00" width="29.84" height="44.30" fill="#FFA680" stroke="#000" stroke-width="1.3"/>
<rect x="1305.51" y="779.00" width="29.84" height="44.30" fill="#FF7A45" stroke="#000" stroke-width="1.3"/>
<rect x="1335.35" y="779.00" width="29.84" height="44.30" fill="#FF511F" stroke="#000" stroke-width="1.3"/>
<rect x="1365.19" y="779.00" width="29.84" height="44.30" fill="#E33000" stroke="#000" stroke-width="1.3"/>
<rect x="1395.03" y="779.00" width="29.84" height="44.30" fill="#B82600" stroke="#000" stroke-width="1.3"/>
<rect x="1424.86" y="779.00" width="29.84" height="44.30" fill="#8B0000" stroke="#000" stroke-width="1.3"/>
<rect x="977.30" y="779.00" width="477.40" height="44.30" fill="none" stroke="#000" stroke-width="1.5"/>
<text transform="translate(1007.1,851.9) scale(1.1,1)" font-size="21.8" text-anchor="middle" textLength="26.4" lengthAdjust="spacing" stroke-width="0.30">−6</text>
<text transform="translate(1066.8,851.9) scale(1.1,1)" font-size="21.8" text-anchor="middle" textLength="26.4" lengthAdjust="spacing" stroke-width="0.30">−4</text>
<text transform="translate(1126.5,851.9) scale(1.1,1)" font-size="21.8" text-anchor="middle" textLength="26.4" lengthAdjust="spacing" stroke-width="0.30">−2</text>
<text transform="translate(1186.2,851.9) scale(1.1,1)" font-size="21.8" text-anchor="middle" textLength="46.4" lengthAdjust="spacing" stroke-width="0.30">−0.5</text>
<text transform="translate(1245.8,851.9) scale(1.1,1)" font-size="21.8" text-anchor="middle" textLength="30.5" lengthAdjust="spacing" stroke-width="0.30">0.5</text>
<text x="1305.5" y="851.9" font-size="21.8" text-anchor="middle" textLength="11.5" lengthAdjust="spacingAndGlyphs" stroke-width="0.30">2</text>
<text x="1365.2" y="851.9" font-size="21.8" text-anchor="middle" textLength="12.0" lengthAdjust="spacingAndGlyphs" stroke-width="0.30">4</text>
<text x="1424.9" y="851.9" font-size="21.8" text-anchor="middle" textLength="11.5" lengthAdjust="spacingAndGlyphs" stroke-width="0.30">6</text>
<rect x="1257.30" y="1074.20" width="65.60" height="24.63" fill="#8B0000" stroke="#000" stroke-width="1.3"/>
<rect x="1257.30" y="1098.83" width="65.60" height="24.63" fill="#B82600" stroke="#000" stroke-width="1.3"/>
<rect x="1257.30" y="1123.46" width="65.60" height="24.63" fill="#E33000" stroke="#000" stroke-width="1.3"/>
<rect x="1257.30" y="1148.09" width="65.60" height="24.63" fill="#FF511F" stroke="#000" stroke-width="1.3"/>
<rect x="1257.30" y="1172.72" width="65.60" height="24.63" fill="#FF7A45" stroke="#000" stroke-width="1.3"/>
<rect x="1257.30" y="1197.36" width="65.60" height="24.63" fill="#FFA680" stroke="#000" stroke-width="1.3"/>
<rect x="1257.30" y="1221.99" width="65.60" height="24.63" fill="#FFCBB3" stroke="#000" stroke-width="1.3"/>
<rect x="1257.30" y="1246.62" width="65.60" height="24.63" fill="#FFE9D6" stroke="#000" stroke-width="1.3"/>
<rect x="1257.30" y="1271.25" width="65.60" height="24.63" fill="#D6EAFF" stroke="#000" stroke-width="1.3"/>
<rect x="1257.30" y="1295.88" width="65.60" height="24.63" fill="#B3CCFB" stroke="#000" stroke-width="1.3"/>
<rect x="1257.30" y="1320.51" width="65.60" height="24.63" fill="#80A6FF" stroke="#000" stroke-width="1.3"/>
<rect x="1257.30" y="1345.14" width="65.60" height="24.63" fill="#4177FF" stroke="#000" stroke-width="1.3"/>
<rect x="1257.30" y="1369.78" width="65.60" height="24.63" fill="#1A4DFF" stroke="#000" stroke-width="1.3"/>
<rect x="1257.30" y="1394.41" width="65.60" height="24.63" fill="#0030E0" stroke="#000" stroke-width="1.3"/>
<rect x="1257.30" y="1419.04" width="65.60" height="24.63" fill="#0019B5" stroke="#000" stroke-width="1.3"/>
<rect x="1257.30" y="1443.67" width="65.60" height="24.63" fill="#00008B" stroke="#000" stroke-width="1.3"/>
<rect x="1257.30" y="1074.20" width="65.60" height="394.10" fill="none" stroke="#000" stroke-width="1.5"/>
<text transform="translate(1356.2,1105.7) scale(1.1,1)" font-size="19.8" text-anchor="middle" textLength="28.6" lengthAdjust="spacing" stroke-width="0.25">1.8</text>
<text transform="translate(1356.2,1130.4) scale(1.1,1)" font-size="19.8" text-anchor="middle" textLength="28.6" lengthAdjust="spacing" stroke-width="0.25">1.5</text>
<text transform="translate(1356.2,1155.0) scale(1.1,1)" font-size="19.8" text-anchor="middle" textLength="28.6" lengthAdjust="spacing" stroke-width="0.25">1.2</text>
<text transform="translate(1356.2,1179.6) scale(1.1,1)" font-size="19.8" text-anchor="middle" textLength="28.6" lengthAdjust="spacing" stroke-width="0.25">0.9</text>
<text transform="translate(1356.2,1204.3) scale(1.1,1)" font-size="19.8" text-anchor="middle" textLength="28.6" lengthAdjust="spacing" stroke-width="0.25">0.6</text>
<text transform="translate(1356.2,1228.9) scale(1.1,1)" font-size="19.8" text-anchor="middle" textLength="28.6" lengthAdjust="spacing" stroke-width="0.25">0.3</text>
<text transform="translate(1356.2,1253.5) scale(1.1,1)" font-size="19.8" text-anchor="middle" textLength="28.6" lengthAdjust="spacing" stroke-width="0.25">0.1</text>
<text x="1356.2" y="1278.2" font-size="19.8" text-anchor="middle" textLength="11.0" lengthAdjust="spacingAndGlyphs" stroke-width="0.25">0</text>
<text transform="translate(1356.2,1302.8) scale(1.1,1)" font-size="19.8" text-anchor="middle" textLength="44.5" lengthAdjust="spacing" stroke-width="0.25">−0.1</text>
<text transform="translate(1356.2,1327.4) scale(1.1,1)" font-size="19.8" text-anchor="middle" textLength="44.5" lengthAdjust="spacing" stroke-width="0.25">−0.3</text>
<text transform="translate(1356.2,1352.0) scale(1.1,1)" font-size="19.8" text-anchor="middle" textLength="44.5" lengthAdjust="spacing" stroke-width="0.25">−0.6</text>
<text transform="translate(1356.2,1376.7) scale(1.1,1)" font-size="19.8" text-anchor="middle" textLength="44.5" lengthAdjust="spacing" stroke-width="0.25">−0.9</text>
<text transform="translate(1356.2,1401.3) scale(1.1,1)" font-size="19.8" text-anchor="middle" textLength="44.5" lengthAdjust="spacing" stroke-width="0.25">−1.2</text>
<text transform="translate(1356.2,1425.9) scale(1.1,1)" font-size="19.8" text-anchor="middle" textLength="44.5" lengthAdjust="spacing" stroke-width="0.25">−1.5</text>
<text transform="translate(1356.2,1450.6) scale(1.1,1)" font-size="19.8" text-anchor="middle" textLength="44.5" lengthAdjust="spacing" stroke-width="0.25">−1.8</text>
<text x="272.3" y="756.1" font-size="24.4" textLength="38.4" lengthAdjust="spacingAndGlyphs" stroke-width="0.25">MIN</text>
<text x="328.3" y="756.1" font-size="24.4" textLength="15.7" lengthAdjust="spacingAndGlyphs" stroke-width="0.25">=</text>
<text transform="translate(373.3,756.1) scale(1.1,1)" font-size="24.4" textLength="64.5" lengthAdjust="spacing" stroke-width="0.25">−4.42</text>
<text x="472.3" y="756.1" font-size="24.4" textLength="44.4" lengthAdjust="spacingAndGlyphs" stroke-width="0.25">MAX</text>
<text x="534.0" y="756.1" font-size="24.4" textLength="15.3" lengthAdjust="spacingAndGlyphs" stroke-width="0.25">=</text>
<text transform="translate(589.3,756.1) scale(1.1,1)" font-size="24.4" textLength="48.2" lengthAdjust="spacing" stroke-width="0.25">8.04</text>
<text x="1028.7" y="756.1" font-size="24.4" textLength="39.0" lengthAdjust="spacingAndGlyphs" stroke-width="0.25">MIN</text>
<text x="1085.7" y="756.1" font-size="24.4" textLength="15.6" lengthAdjust="spacingAndGlyphs" stroke-width="0.25">=</text>
<text transform="translate(1128.7,756.1) scale(1.1,1)" font-size="24.4" textLength="66.4" lengthAdjust="spacing" stroke-width="0.25">−5.56</text>
<text x="1228.7" y="756.1" font-size="24.4" textLength="45.0" lengthAdjust="spacingAndGlyphs" stroke-width="0.25">MAX</text>
<text x="1291.7" y="756.1" font-size="24.4" textLength="15.3" lengthAdjust="spacingAndGlyphs" stroke-width="0.25">=</text>
<text transform="translate(1337.0,756.1) scale(1.1,1)" font-size="24.4" textLength="59.1" lengthAdjust="spacing" stroke-width="0.25">10.75</text>
<text x="1136.0" y="1033.1" font-size="24.4" textLength="38.2" lengthAdjust="spacingAndGlyphs" stroke-width="0.25">MIN</text>
<text x="1191.4" y="1033.1" font-size="24.4" textLength="15.5" lengthAdjust="spacingAndGlyphs" stroke-width="0.25">=</text>
<text transform="translate(1236.5,1033.1) scale(1.1,1)" font-size="24.4" textLength="61.9" lengthAdjust="spacing" stroke-width="0.25">−2.71</text>
<text x="1335.7" y="1033.1" font-size="24.4" textLength="44.5" lengthAdjust="spacingAndGlyphs" stroke-width="0.25">MAX</text>
<text x="1397.3" y="1033.1" font-size="24.4" textLength="14.9" lengthAdjust="spacingAndGlyphs" stroke-width="0.25">=</text>
<text transform="translate(1453.2,1033.1) scale(1.1,1)" font-size="24.4" textLength="44.7" lengthAdjust="spacing" stroke-width="0.25">2.01</text>
</svg></body></html>
